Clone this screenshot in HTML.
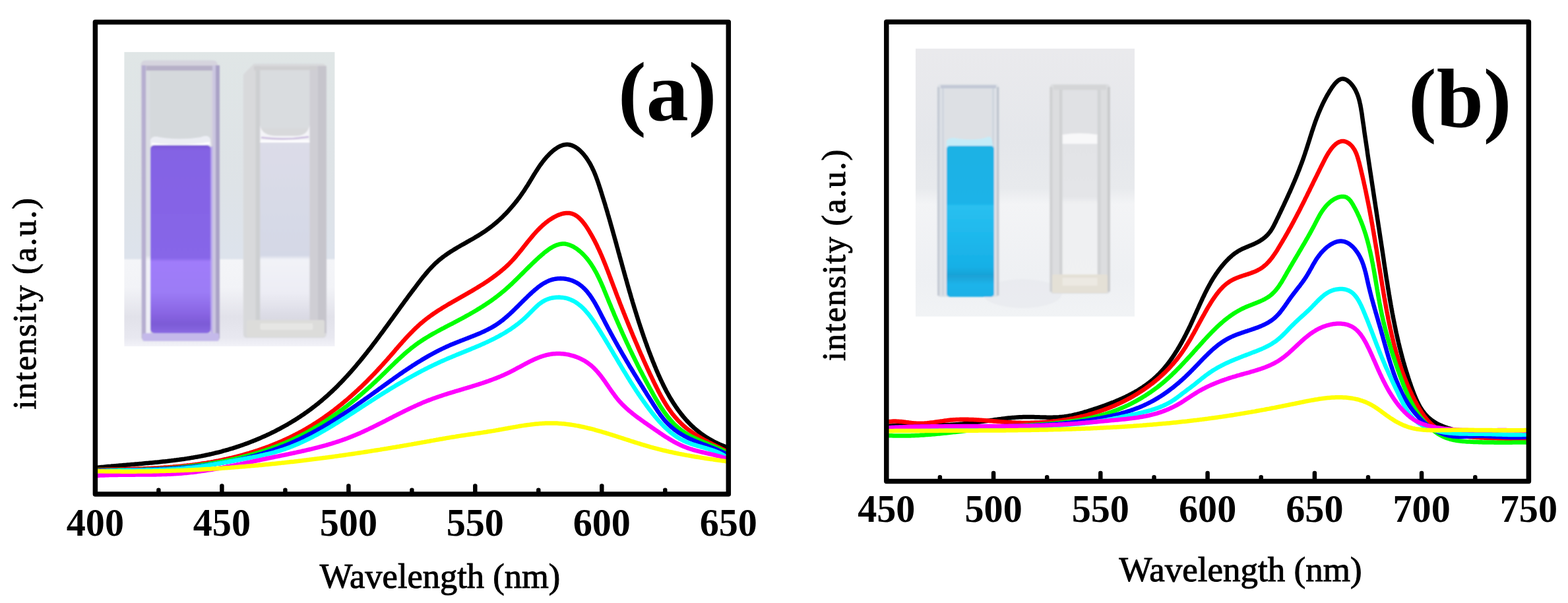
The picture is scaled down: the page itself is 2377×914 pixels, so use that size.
<!DOCTYPE html>
<html><head><meta charset="utf-8"><title>Fluorescence spectra</title>
<style>html,body{margin:0;padding:0;background:#fff;overflow:hidden}svg{display:block}</style>
</head><body>
<svg width="2377" height="914" viewBox="0 0 2377 914">
<defs>
<clipPath id="ca"><rect x="144.4" y="33.5" width="959.9" height="715.5"/></clipPath>
<clipPath id="cb"><rect x="1343.8" y="33.3" width="973.6000000000001" height="696.2"/></clipPath>
</defs>
<rect width="2377" height="914" fill="#fff"/>
<g id="insetA">
<defs>
<linearGradient id="aBg" x1="0" y1="0" x2="0" y2="1">
<stop offset="0" stop-color="#e0e6e6"/><stop offset="0.45" stop-color="#dee3e7"/><stop offset="0.70" stop-color="#dde3ec"/><stop offset="0.708" stop-color="#f4f5f8"/><stop offset="0.80" stop-color="#f2f3f7"/><stop offset="0.90" stop-color="#e2e2ea"/><stop offset="0.97" stop-color="#e8e8f0"/><stop offset="1" stop-color="#f2f2f8"/>
</linearGradient>
<linearGradient id="aPur" x1="0" y1="0" x2="0" y2="1">
<stop offset="0" stop-color="#7b56d6"/><stop offset="0.03" stop-color="#8463e4"/><stop offset="0.6" stop-color="#8766e8"/><stop offset="0.62" stop-color="#a07cfa"/><stop offset="0.78" stop-color="#9c7cf6"/><stop offset="0.9" stop-color="#8864e2"/><stop offset="0.95" stop-color="#7c5ad6"/><stop offset="1" stop-color="#8a6ae2"/>
</linearGradient>
<linearGradient id="aWallL" x1="0" y1="0" x2="0" y2="1">
<stop offset="0" stop-color="#d9dbe1"/><stop offset="0.7" stop-color="#dcdee6"/><stop offset="0.72" stop-color="#f2f2f8"/><stop offset="1" stop-color="#eeeef6"/>
</linearGradient>
<linearGradient id="aIn2" x1="0" y1="0" x2="0" y2="1">
<stop offset="0" stop-color="#dcdce8"/><stop offset="0.64" stop-color="#d4d8e6"/><stop offset="0.665" stop-color="#f2f3f8"/><stop offset="0.85" stop-color="#ececf4"/><stop offset="1" stop-color="#d8d8e2"/>
</linearGradient>
<filter id="soft" x="-5%" y="-5%" width="110%" height="110%"><feGaussianBlur stdDeviation="0.9"/></filter>
</defs>
<rect x="188.4" y="78.9" width="319" height="446" fill="url(#aBg)"/>
<g filter="url(#soft)">
<!-- cuvette 1 (purple) -->
<path d="M213.5,99 Q213.5,91.5 221,91.5 L322,91.5 Q330,91.5 330,99 L333,512 Q333,517 327,517 L220,517 Q215,517 215,512 Z" fill="#d6d4de"/>
<rect x="214.8" y="99" width="6.6" height="414" fill="#b6aed0"/>
<rect x="327" y="99" width="6" height="414" fill="#aaa2c6"/>
<rect x="322.2" y="99" width="4.8" height="414" fill="#cbc6e0"/>
<rect x="221.4" y="107" width="6.6" height="400" fill="url(#aWallL)"/>
<rect x="222" y="99.5" width="100" height="7.5" fill="#b7b1c8"/>
<rect x="227.6" y="107" width="92" height="104" fill="#d5d9dc"/>
<path d="M228,212 Q231,205 242,208 Q272,213 304,208 Q316,203 319,211 L320,222 L228,222 Z" fill="#eceef4"/>
<path d="M230,218 Q272,224 318,217" stroke="#ffffff" stroke-width="3.5" fill="none"/>
<rect x="228" y="220" width="91.7" height="285" rx="6" fill="url(#aPur)"/>
<rect x="319.7" y="222" width="2.5" height="283" fill="#b9a8ee"/>
<rect x="216" y="505" width="116" height="12" rx="3" fill="#c4b9ea"/>
<!-- cuvette 2 (clear) -->
<path d="M368.8,113 L385,96.4 L488,96.4 Q494.9,96.4 494.9,104 L494.9,506 Q494.9,512 488,512 L374,512 Q368.8,512 368.8,506 Z" fill="#d8d9db"/>
<rect x="387.5" y="100" width="6.9" height="400" fill="#cdcfd1"/>
<rect x="469.3" y="100" width="25.6" height="405" fill="#cfced4"/>
<rect x="482" y="100" width="12.5" height="405" fill="#c6c5cc"/>
<rect x="385" y="100.5" width="95" height="6" fill="#cfcfd1"/>
<rect x="394.4" y="106.5" width="75" height="88" fill="#d9dcdf"/>
<path d="M394.4,190 Q397,206 420,206 L448,206 Q466,206 469.3,190 L469.3,213 L394.4,213 Z" fill="#f4f4f8"/>
<path d="M396,208.5 Q432,213 468,207.5" stroke="#c8b8dc" stroke-width="2.5" fill="none"/>
<rect x="394.4" y="213" width="74.9" height="272" fill="url(#aIn2)"/>
<rect x="394.4" y="213" width="74.9" height="3" fill="#ffffff"/>
<rect x="374" y="485" width="118" height="26" rx="3" fill="#dcdcda"/>
<rect x="394.4" y="490" width="80" height="10" rx="2" fill="#e6e6e4"/>
</g>
</g>

<g id="insetB">
<defs>
<linearGradient id="bBg" x1="0" y1="0" x2="0" y2="1">
<stop offset="0" stop-color="#eaeaed"/><stop offset="0.35" stop-color="#e5e7eb"/><stop offset="0.52" stop-color="#e8eaed"/><stop offset="0.58" stop-color="#f3f4f6"/><stop offset="0.85" stop-color="#eef0f3"/><stop offset="1" stop-color="#f1f3f5"/>
</linearGradient>
<linearGradient id="bBlue" x1="0" y1="0" x2="0" y2="1">
<stop offset="0" stop-color="#1fb2e4"/><stop offset="0.38" stop-color="#1ab3e8"/><stop offset="0.40" stop-color="#2ac0f0"/><stop offset="0.6" stop-color="#1eb8ec"/><stop offset="0.8" stop-color="#17b0e6"/><stop offset="0.86" stop-color="#1aa2d6"/><stop offset="0.92" stop-color="#1bb4ea"/><stop offset="1" stop-color="#1ab0e6"/>
</linearGradient>
<linearGradient id="bIn2" x1="0" y1="0" x2="0" y2="1">
<stop offset="0" stop-color="#e2e3e6"/><stop offset="0.4" stop-color="#e4e5e8"/><stop offset="0.45" stop-color="#eff0f2"/><stop offset="1" stop-color="#f0f1f2"/>
</linearGradient>
<radialGradient id="bSh" cx="0.5" cy="0.5" r="0.5">
<stop offset="0" stop-color="#d8dadf" stop-opacity="0.9"/><stop offset="1" stop-color="#e8eaee" stop-opacity="0"/>
</radialGradient>
</defs>
<rect x="1388" y="73.7" width="332" height="406" fill="url(#bBg)"/>
<g filter="url(#soft)">
<ellipse cx="1550" cy="445" rx="60" ry="22" fill="#e6e8ec" opacity="0.6"/>


<!-- cuvette 1 (blue) -->
<path d="M1420.5,133 Q1420.5,127.4 1426,127.4 L1509,127.4 Q1514.4,127.4 1514.4,133 L1514.4,445 Q1514.4,450 1509,450 L1426,450 Q1421,450 1421,445 Z" fill="#dde1e6"/>
<rect x="1421" y="132" width="3.5" height="316" fill="#c4cad4"/>
<rect x="1511" y="132" width="3.4" height="316" fill="#c0c6d0"/>
<rect x="1426" y="129" width="84" height="5" fill="#c2c8d6"/>
<rect x="1428" y="134" width="3" height="314" fill="#cfd5de"/>
<rect x="1504" y="134" width="3" height="314" fill="#cfd5de"/>
<rect x="1433" y="135" width="70" height="80" fill="#dde0e4"/>
<path d="M1435,213 Q1440,207 1452,210 Q1480,214 1496,208 Q1502,205 1504,213 L1506,228 L1435,228 Z" fill="#c6ecf8"/>
<rect x="1435" y="221" width="72" height="229" rx="5" fill="url(#bBlue)"/>
<!-- cuvette 2 (clear) -->
<path d="M1591.4,133 Q1591.4,127.4 1597,127.4 L1677,127.4 Q1682.8,127.4 1682.8,133 L1682.8,440 Q1682.8,445 1677,445 L1597,445 Q1592,445 1592,440 Z" fill="#dcdddf"/>
<rect x="1591.4" y="132" width="4" height="310" fill="#cfd0d2"/>
<rect x="1606" y="134" width="4.6" height="300" fill="#d0d1d3"/>
<rect x="1663.5" y="134" width="5" height="300" fill="#d2d3d5"/>
<rect x="1678.8" y="132" width="4" height="310" fill="#c9cacc"/>
<rect x="1597" y="129" width="80" height="7" fill="#d4d5d7"/>
<rect x="1610.6" y="137" width="52.9" height="70" fill="#e0e1e4"/>
<path d="M1610.6,204 Q1637,200 1663.5,204 L1663.5,218 L1610.6,218 Z" fill="#f8f8f9"/>
<rect x="1610.6" y="218" width="52.9" height="200" fill="url(#bIn2)"/>
<rect x="1595" y="416" width="84" height="28" rx="2" fill="#e4e0d6"/>
<rect x="1610.6" y="421" width="53" height="12" fill="#ece9e2"/>
</g>
</g>

<g clip-path="url(#ca)" fill="none" stroke-width="6.5" stroke-linejoin="round" stroke-linecap="round">
<path d="M141.0,709.1 L146.0,708.9 L148.0,708.7 L150.0,708.5 L152.0,708.3 L153.9,708.1 L155.9,707.9 L157.9,707.7 L159.9,707.5 L161.9,707.3 L163.9,707.1 L165.9,706.9 L167.9,706.8 L169.9,706.6 L171.9,706.4 L173.9,706.2 L175.9,706.1 L177.9,705.9 L179.9,705.7 L181.9,705.5 L183.9,705.4 L185.9,705.2 L187.9,705.0 L189.9,704.9 L191.9,704.7 L193.9,704.5 L195.9,704.4 L197.9,704.2 L199.8,704.0 L201.8,703.9 L203.8,703.7 L205.8,703.5 L207.8,703.4 L209.8,703.2 L211.8,703.0 L213.8,702.9 L215.8,702.7 L217.8,702.5 L219.8,702.3 L221.8,702.1 L223.8,702.0 L225.8,701.8 L227.8,701.6 L229.7,701.4 L231.7,701.2 L233.7,701.0 L235.7,700.8 L237.7,700.7 L239.7,700.5 L241.7,700.3 L243.7,700.0 L245.6,699.8 L247.6,699.6 L249.6,699.4 L251.6,699.2 L253.6,699.0 L255.6,698.7 L257.5,698.5 L259.5,698.3 L261.5,698.0 L263.5,697.8 L265.5,697.5 L267.4,697.3 L269.4,697.0 L271.4,696.8 L273.4,696.5 L275.3,696.2 L277.3,695.9 L279.3,695.7 L281.3,695.4 L283.2,695.1 L285.2,694.8 L287.2,694.5 L289.1,694.1 L291.1,693.8 L293.1,693.5 L295.0,693.1 L297.0,692.8 L299.0,692.5 L300.9,692.1 L302.9,691.7 L304.8,691.4 L306.8,691.0 L308.7,690.6 L310.7,690.2 L312.6,689.8 L314.6,689.4 L316.5,689.0 L318.5,688.5 L320.4,688.1 L322.4,687.6 L324.3,687.2 L326.3,686.7 L328.2,686.2 L330.2,685.8 L332.1,685.3 L334.0,684.8 L336.0,684.3 L337.9,683.7 L339.8,683.2 L341.7,682.7 L343.7,682.1 L345.6,681.6 L347.5,681.0 L349.4,680.4 L351.4,679.9 L353.3,679.3 L355.2,678.7 L357.1,678.1 L359.0,677.4 L360.9,676.8 L362.8,676.2 L364.7,675.5 L366.6,674.9 L368.5,674.2 L370.4,673.5 L372.3,672.8 L374.2,672.2 L376.0,671.5 L377.9,670.7 L379.8,670.0 L381.7,669.3 L383.5,668.6 L385.4,667.8 L387.3,667.1 L389.1,666.3 L391.0,665.5 L392.8,664.7 L394.7,663.9 L396.5,663.1 L398.3,662.3 L400.2,661.5 L402.0,660.7 L403.8,659.9 L405.6,659.0 L407.5,658.2 L409.3,657.3 L411.1,656.4 L412.9,655.5 L414.7,654.7 L416.5,653.8 L418.3,652.8 L420.0,651.9 L421.8,651.0 L423.6,650.1 L425.4,649.1 L427.1,648.2 L428.9,647.2 L430.6,646.2 L432.4,645.3 L434.1,644.3 L435.9,643.3 L437.6,642.3 L439.3,641.3 L441.0,640.2 L442.7,639.2 L444.5,638.2 L446.2,637.1 L447.9,636.1 L449.5,635.0 L451.2,633.9 L452.9,632.8 L454.6,631.7 L456.2,630.6 L457.9,629.5 L459.5,628.4 L461.2,627.3 L462.8,626.1 L464.5,625.0 L466.1,623.8 L467.7,622.7 L469.3,621.5 L470.9,620.3 L472.5,619.1 L474.1,617.9 L475.7,616.7 L477.3,615.5 L478.8,614.3 L480.4,613.0 L482.0,611.8 L483.5,610.5 L485.0,609.3 L486.6,608.0 L488.1,606.7 L489.6,605.4 L491.1,604.1 L492.6,602.8 L494.1,601.5 L495.6,600.2 L497.1,598.9 L498.6,597.5 L500.0,596.2 L501.5,594.8 L502.9,593.5 L504.4,592.1 L505.8,590.7 L507.3,589.3 L508.7,588.0 L510.1,586.6 L511.5,585.2 L512.9,583.7 L514.3,582.3 L515.7,580.9 L517.1,579.5 L518.5,578.0 L519.9,576.6 L521.2,575.1 L522.6,573.7 L523.9,572.2 L525.3,570.8 L526.6,569.3 L528.0,567.8 L529.3,566.3 L530.7,564.8 L532.0,563.3 L533.3,561.8 L534.6,560.3 L535.9,558.8 L537.2,557.3 L538.5,555.8 L539.8,554.3 L541.1,552.7 L542.4,551.2 L543.7,549.7 L545.0,548.1 L546.3,546.6 L547.5,545.0 L548.8,543.5 L550.1,541.9 L551.3,540.4 L552.6,538.8 L553.8,537.2 L555.1,535.7 L556.3,534.1 L557.5,532.5 L558.8,530.9 L560.0,529.3 L561.3,527.8 L562.5,526.2 L563.7,524.6 L564.9,523.0 L566.1,521.4 L567.4,519.8 L568.6,518.2 L569.8,516.6 L571.0,515.0 L572.2,513.4 L573.4,511.8 L574.6,510.2 L575.8,508.5 L577.0,506.9 L578.2,505.3 L579.4,503.7 L580.6,502.1 L581.8,500.5 L582.9,498.9 L584.1,497.2 L585.3,495.6 L586.5,494.0 L587.7,492.4 L588.9,490.8 L590.0,489.2 L591.2,487.5 L592.4,485.9 L593.6,484.3 L594.7,482.7 L595.9,481.1 L597.1,479.4 L598.2,477.8 L599.4,476.2 L600.6,474.6 L601.8,473.0 L602.9,471.4 L604.1,469.8 L605.3,468.1 L606.4,466.5 L607.6,464.9 L608.8,463.3 L609.9,461.7 L611.1,460.1 L612.3,458.5 L613.4,456.9 L614.6,455.3 L615.8,453.7 L617.0,452.1 L618.1,450.5 L619.3,448.9 L620.5,447.3 L621.7,445.7 L622.9,444.1 L624.1,442.5 L625.3,440.9 L626.5,439.4 L627.7,437.8 L628.9,436.2 L630.1,434.6 L631.3,433.0 L632.5,431.4 L633.7,429.8 L634.9,428.2 L636.2,426.6 L637.4,425.0 L638.6,423.4 L639.9,421.8 L641.1,420.2 L642.4,418.7 L643.7,417.1 L645.0,415.5 L646.3,414.0 L647.6,412.5 L648.9,410.9 L650.2,409.4 L651.6,407.9 L652.9,406.5 L654.3,405.0 L655.7,403.6 L657.1,402.1 L658.5,400.7 L659.9,399.3 L661.4,398.0 L662.9,396.7 L664.4,395.3 L665.9,394.1 L667.4,392.8 L669.0,391.6 L670.5,390.3 L672.1,389.2 L673.7,388.0 L675.3,386.8 L676.9,385.7 L678.6,384.6 L680.2,383.4 L681.9,382.4 L683.5,381.3 L685.2,380.2 L686.9,379.2 L688.6,378.1 L690.3,377.1 L692.0,376.1 L693.7,375.0 L695.5,374.0 L697.2,373.0 L698.9,372.0 L700.6,371.0 L702.4,370.1 L704.1,369.1 L705.9,368.1 L707.6,367.1 L709.3,366.1 L711.1,365.1 L712.8,364.1 L714.6,363.2 L716.3,362.2 L718.0,361.2 L719.7,360.2 L721.4,359.1 L723.2,358.1 L724.9,357.1 L726.6,356.1 L728.2,355.0 L729.9,353.9 L731.6,352.9 L733.2,351.8 L734.9,350.7 L736.5,349.6 L738.1,348.4 L739.7,347.3 L741.3,346.1 L742.9,344.9 L744.5,343.7 L746.0,342.5 L747.6,341.3 L749.1,340.0 L750.6,338.8 L752.1,337.5 L753.6,336.2 L755.1,334.9 L756.6,333.6 L758.0,332.3 L759.5,330.9 L760.9,329.6 L762.3,328.2 L763.7,326.8 L765.1,325.4 L766.5,324.0 L767.9,322.6 L769.2,321.1 L770.6,319.7 L771.9,318.2 L773.2,316.7 L774.5,315.2 L775.8,313.7 L777.1,312.2 L778.4,310.7 L779.6,309.1 L780.9,307.6 L782.1,306.0 L783.4,304.5 L784.6,302.9 L785.8,301.3 L787.0,299.7 L788.2,298.1 L789.3,296.5 L790.5,294.8 L791.6,293.2 L792.8,291.5 L793.9,289.9 L795.0,288.2 L796.1,286.5 L797.2,284.8 L798.3,283.1 L799.4,281.4 L800.5,279.7 L801.5,278.0 L802.6,276.3 L803.6,274.5 L804.7,272.8 L805.7,271.1 L806.8,269.3 L807.8,267.6 L808.9,265.8 L809.9,264.1 L811.0,262.4 L812.1,260.6 L813.2,258.9 L814.3,257.2 L815.4,255.5 L816.6,253.7 L817.7,252.0 L818.9,250.3 L820.1,248.7 L821.4,247.0 L822.6,245.3 L823.9,243.7 L825.2,242.0 L826.6,240.4 L827.9,238.8 L829.3,237.2 L830.8,235.7 L832.2,234.2 L833.7,232.7 L835.2,231.3 L836.7,229.9 L838.3,228.6 L839.8,227.4 L841.4,226.2 L843.0,225.1 L844.5,224.0 L846.1,223.1 L847.8,222.2 L849.4,221.4 L851.0,220.8 L852.6,220.2 L854.2,219.7 L855.8,219.4 L857.4,219.2 L859.0,219.0 L860.6,219.1 L862.2,219.2 L863.8,219.5 L865.4,219.9 L866.9,220.4 L868.5,221.0 L870.0,221.7 L871.5,222.5 L873.0,223.4 L874.5,224.4 L875.9,225.4 L877.4,226.6 L878.8,227.8 L880.2,229.1 L881.5,230.5 L882.9,231.9 L884.2,233.4 L885.5,234.9 L886.7,236.5 L888.0,238.1 L889.1,239.7 L890.3,241.4 L891.4,243.1 L892.5,244.9 L893.6,246.6 L894.6,248.4 L895.6,250.2 L896.5,252.0 L897.5,253.8 L898.3,255.7 L899.2,257.5 L900.1,259.4 L900.9,261.3 L901.7,263.2 L902.4,265.1 L903.2,267.0 L903.9,268.9 L904.6,270.8 L905.3,272.7 L906.0,274.7 L906.7,276.6 L907.3,278.6 L908.0,280.5 L908.6,282.4 L909.2,284.4 L909.9,286.3 L910.5,288.3 L911.1,290.2 L911.7,292.1 L912.3,294.1 L912.9,296.0 L913.5,298.0 L914.1,299.9 L914.7,301.8 L915.3,303.8 L915.9,305.7 L916.5,307.6 L917.1,309.5 L917.7,311.5 L918.2,313.4 L918.8,315.3 L919.4,317.2 L920.0,319.2 L920.5,321.1 L921.1,323.0 L921.6,324.9 L922.2,326.8 L922.8,328.8 L923.3,330.7 L923.9,332.6 L924.4,334.5 L925.0,336.4 L925.5,338.3 L926.0,340.3 L926.6,342.2 L927.1,344.1 L927.7,346.0 L928.2,347.9 L928.7,349.8 L929.3,351.7 L929.8,353.7 L930.3,355.6 L930.9,357.5 L931.4,359.4 L931.9,361.3 L932.5,363.2 L933.0,365.1 L933.5,367.0 L934.1,369.0 L934.6,370.9 L935.1,372.8 L935.6,374.7 L936.2,376.6 L936.7,378.5 L937.2,380.5 L937.7,382.4 L938.3,384.3 L938.8,386.2 L939.3,388.1 L939.8,390.0 L940.4,392.0 L940.9,393.9 L941.4,395.8 L942.0,397.7 L942.5,399.6 L943.0,401.5 L943.5,403.5 L944.1,405.4 L944.6,407.3 L945.1,409.2 L945.7,411.1 L946.2,413.1 L946.7,415.0 L947.3,416.9 L947.8,418.8 L948.3,420.7 L948.9,422.6 L949.4,424.6 L950.0,426.5 L950.5,428.4 L951.0,430.3 L951.6,432.2 L952.1,434.2 L952.7,436.1 L953.2,438.0 L953.8,439.9 L954.3,441.8 L954.9,443.7 L955.5,445.6 L956.0,447.6 L956.6,449.5 L957.1,451.4 L957.7,453.3 L958.3,455.2 L958.8,457.1 L959.4,459.1 L960.0,461.0 L960.6,462.9 L961.1,464.8 L961.7,466.7 L962.3,468.6 L962.9,470.5 L963.5,472.4 L964.1,474.3 L964.7,476.2 L965.3,478.2 L965.9,480.1 L966.5,482.0 L967.1,483.9 L967.7,485.8 L968.3,487.7 L968.9,489.6 L969.6,491.5 L970.2,493.4 L970.8,495.3 L971.4,497.2 L972.1,499.1 L972.7,501.0 L973.3,502.9 L974.0,504.8 L974.6,506.7 L975.3,508.6 L975.9,510.5 L976.6,512.4 L977.3,514.3 L977.9,516.2 L978.6,518.1 L979.3,520.0 L980.0,521.8 L980.6,523.7 L981.3,525.6 L982.0,527.5 L982.7,529.4 L983.4,531.3 L984.1,533.2 L984.8,535.1 L985.6,536.9 L986.3,538.8 L987.0,540.7 L987.7,542.6 L988.5,544.4 L989.2,546.3 L989.9,548.2 L990.7,550.1 L991.5,551.9 L992.2,553.8 L993.0,555.7 L993.8,557.5 L994.5,559.4 L995.3,561.3 L996.1,563.1 L996.9,565.0 L997.7,566.8 L998.5,568.7 L999.4,570.5 L1000.2,572.3 L1001.0,574.2 L1001.9,576.0 L1002.7,577.8 L1003.6,579.6 L1004.5,581.4 L1005.3,583.2 L1006.2,585.0 L1007.1,586.8 L1008.0,588.6 L1009.0,590.4 L1009.9,592.2 L1010.8,593.9 L1011.8,595.7 L1012.8,597.4 L1013.7,599.1 L1014.7,600.9 L1015.7,602.6 L1016.7,604.3 L1017.8,606.0 L1018.8,607.7 L1019.8,609.4 L1020.9,611.0 L1022.0,612.7 L1023.1,614.3 L1024.2,616.0 L1025.3,617.6 L1026.4,619.2 L1027.5,620.8 L1028.7,622.4 L1029.9,624.0 L1031.1,625.5 L1032.3,627.1 L1033.5,628.6 L1034.7,630.1 L1035.9,631.6 L1037.2,633.1 L1038.5,634.6 L1039.8,636.1 L1041.1,637.5 L1042.4,639.0 L1043.8,640.4 L1045.1,641.8 L1046.5,643.2 L1047.9,644.6 L1049.3,645.9 L1050.8,647.2 L1052.2,648.6 L1053.7,649.9 L1055.2,651.2 L1056.7,652.4 L1058.2,653.7 L1059.8,654.9 L1061.3,656.1 L1062.9,657.3 L1064.5,658.5 L1066.2,659.7 L1067.8,660.8 L1069.5,661.9 L1071.2,663.0 L1072.9,664.1 L1074.6,665.2 L1076.4,666.2 L1078.2,667.2 L1080.0,668.2 L1081.8,669.2 L1083.6,670.1 L1085.5,671.0 L1087.4,672.0 L1089.3,672.8 L1091.2,673.7 L1093.2,674.5 L1095.2,675.3 L1097.2,676.1 L1099.2,676.9 L1101.3,677.6 L1106.4,678.4" stroke="#000000"/>
<path d="M140.9,712.2 L145.9,712.1 L147.9,712.1 L149.9,712.1 L151.9,712.0 L153.9,712.0 L156.0,711.9 L158.0,711.9 L160.0,711.8 L162.0,711.8 L164.0,711.8 L166.0,711.7 L168.0,711.7 L170.0,711.6 L172.0,711.6 L174.0,711.6 L176.0,711.5 L178.0,711.5 L180.0,711.4 L182.0,711.4 L184.1,711.3 L186.1,711.3 L188.1,711.2 L190.1,711.2 L192.1,711.1 L194.1,711.1 L196.1,711.0 L198.1,711.0 L200.1,710.9 L202.1,710.9 L204.1,710.8 L206.1,710.7 L208.1,710.7 L210.1,710.6 L212.1,710.5 L214.1,710.5 L216.1,710.4 L218.0,710.3 L220.0,710.2 L222.0,710.2 L224.0,710.1 L226.0,710.0 L228.0,709.9 L230.0,709.8 L232.0,709.7 L234.0,709.6 L236.0,709.5 L238.0,709.4 L240.0,709.3 L242.0,709.2 L244.0,709.0 L246.0,708.9 L247.9,708.8 L249.9,708.6 L251.9,708.5 L253.9,708.4 L255.9,708.2 L257.9,708.1 L259.9,707.9 L261.9,707.8 L263.8,707.6 L265.8,707.4 L267.8,707.2 L269.8,707.1 L271.8,706.9 L273.8,706.7 L275.8,706.5 L277.7,706.3 L279.7,706.1 L281.7,705.9 L283.7,705.6 L285.7,705.4 L287.6,705.2 L289.6,704.9 L291.6,704.7 L293.6,704.4 L295.6,704.2 L297.5,703.9 L299.5,703.7 L301.5,703.4 L303.5,703.1 L305.5,702.8 L307.4,702.5 L309.4,702.2 L311.4,701.9 L313.4,701.6 L315.3,701.2 L317.3,700.9 L319.3,700.6 L321.2,700.2 L323.2,699.9 L325.2,699.5 L327.2,699.1 L329.1,698.7 L331.1,698.4 L333.1,698.0 L335.0,697.6 L337.0,697.2 L338.9,696.7 L340.9,696.3 L342.9,695.9 L344.8,695.4 L346.8,695.0 L348.7,694.5 L350.7,694.1 L352.6,693.6 L354.6,693.1 L356.5,692.6 L358.5,692.2 L360.4,691.6 L362.4,691.1 L364.3,690.6 L366.2,690.1 L368.2,689.6 L370.1,689.0 L372.0,688.5 L373.9,687.9 L375.9,687.3 L377.8,686.8 L379.7,686.2 L381.6,685.6 L383.5,685.0 L385.4,684.4 L387.3,683.8 L389.2,683.2 L391.1,682.5 L393.0,681.9 L394.9,681.2 L396.8,680.6 L398.7,679.9 L400.6,679.2 L402.5,678.6 L404.4,677.9 L406.2,677.2 L408.1,676.5 L410.0,675.7 L411.8,675.0 L413.7,674.3 L415.5,673.5 L417.4,672.8 L419.2,672.0 L421.1,671.3 L422.9,670.5 L424.7,669.7 L426.6,668.9 L428.4,668.1 L430.2,667.3 L432.0,666.5 L433.8,665.6 L435.6,664.8 L437.4,663.9 L439.2,663.1 L441.0,662.2 L442.8,661.3 L444.6,660.4 L446.4,659.5 L448.2,658.6 L449.9,657.7 L451.7,656.8 L453.4,655.9 L455.2,654.9 L456.9,654.0 L458.7,653.0 L460.4,652.0 L462.1,651.1 L463.9,650.1 L465.6,649.1 L467.3,648.1 L469.0,647.1 L470.7,646.0 L472.4,645.0 L474.1,643.9 L475.8,642.9 L477.4,641.8 L479.1,640.8 L480.8,639.7 L482.5,638.6 L484.1,637.5 L485.8,636.4 L487.4,635.3 L489.1,634.2 L490.7,633.0 L492.3,631.9 L493.9,630.7 L495.6,629.6 L497.2,628.4 L498.8,627.3 L500.4,626.1 L502.0,624.9 L503.6,623.7 L505.2,622.5 L506.8,621.3 L508.3,620.1 L509.9,618.8 L511.5,617.6 L513.0,616.4 L514.6,615.1 L516.2,613.9 L517.7,612.6 L519.2,611.4 L520.8,610.1 L522.3,608.8 L523.8,607.5 L525.4,606.2 L526.9,604.9 L528.4,603.6 L529.9,602.3 L531.4,601.0 L532.9,599.7 L534.4,598.3 L535.9,597.0 L537.4,595.6 L538.9,594.3 L540.3,592.9 L541.8,591.6 L543.3,590.2 L544.7,588.8 L546.2,587.5 L547.7,586.1 L549.1,584.7 L550.5,583.3 L552.0,581.9 L553.4,580.5 L554.9,579.1 L556.3,577.7 L557.7,576.2 L559.1,574.8 L560.5,573.4 L561.9,572.0 L563.3,570.5 L564.7,569.1 L566.1,567.6 L567.5,566.2 L568.9,564.7 L570.3,563.3 L571.7,561.8 L573.0,560.3 L574.4,558.8 L575.8,557.4 L577.1,555.9 L578.5,554.4 L579.9,552.9 L581.2,551.4 L582.5,549.9 L583.9,548.4 L585.2,546.9 L586.6,545.4 L587.9,543.9 L589.2,542.4 L590.5,540.9 L591.9,539.4 L593.2,537.8 L594.5,536.3 L595.8,534.8 L597.1,533.3 L598.4,531.8 L599.7,530.2 L601.0,528.7 L602.4,527.2 L603.7,525.7 L605.0,524.2 L606.3,522.7 L607.6,521.2 L609.0,519.7 L610.3,518.2 L611.6,516.7 L613.0,515.2 L614.3,513.7 L615.6,512.3 L617.0,510.8 L618.4,509.3 L619.7,507.9 L621.1,506.5 L622.5,505.0 L623.9,503.6 L625.3,502.2 L626.7,500.8 L628.1,499.4 L629.5,498.0 L630.9,496.7 L632.4,495.3 L633.8,494.0 L635.3,492.6 L636.8,491.3 L638.3,490.0 L639.8,488.7 L641.3,487.5 L642.8,486.2 L644.4,485.0 L645.9,483.8 L647.5,482.5 L649.1,481.3 L650.7,480.2 L652.3,479.0 L653.9,477.8 L655.5,476.7 L657.2,475.5 L658.8,474.4 L660.5,473.3 L662.1,472.2 L663.8,471.1 L665.5,470.0 L667.2,469.0 L668.9,467.9 L670.6,466.8 L672.3,465.8 L674.0,464.7 L675.7,463.7 L677.4,462.7 L679.2,461.6 L680.9,460.6 L682.6,459.6 L684.4,458.6 L686.1,457.6 L687.9,456.6 L689.6,455.6 L691.4,454.6 L693.1,453.6 L694.9,452.6 L696.6,451.6 L698.4,450.6 L700.1,449.6 L701.9,448.6 L703.6,447.6 L705.4,446.6 L707.1,445.6 L708.9,444.6 L710.6,443.6 L712.3,442.6 L714.1,441.6 L715.8,440.6 L717.5,439.6 L719.3,438.5 L721.0,437.5 L722.7,436.5 L724.4,435.4 L726.1,434.4 L727.8,433.3 L729.5,432.3 L731.2,431.2 L732.9,430.2 L734.5,429.1 L736.2,428.0 L737.9,426.9 L739.5,425.8 L741.2,424.7 L742.8,423.5 L744.4,422.4 L746.0,421.3 L747.6,420.1 L749.2,418.9 L750.8,417.7 L752.4,416.6 L754.0,415.3 L755.5,414.1 L757.1,412.9 L758.6,411.6 L760.1,410.4 L761.7,409.1 L763.2,407.8 L764.6,406.5 L766.1,405.2 L767.6,403.8 L769.0,402.5 L770.5,401.1 L771.9,399.7 L773.3,398.3 L774.7,396.9 L776.1,395.4 L777.4,394.0 L778.8,392.5 L780.1,391.0 L781.4,389.5 L782.7,388.0 L784.0,386.4 L785.3,384.9 L786.6,383.3 L787.9,381.7 L789.2,380.2 L790.5,378.6 L791.7,377.0 L793.0,375.4 L794.2,373.8 L795.5,372.2 L796.8,370.6 L798.0,369.0 L799.3,367.4 L800.6,365.8 L801.9,364.2 L803.2,362.6 L804.5,361.1 L805.8,359.5 L807.1,358.0 L808.4,356.4 L809.7,354.9 L811.1,353.4 L812.4,351.9 L813.8,350.4 L815.2,348.9 L816.6,347.5 L818.0,346.0 L819.5,344.6 L820.9,343.2 L822.4,341.9 L823.9,340.5 L825.5,339.2 L827.0,337.9 L828.6,336.7 L830.2,335.4 L831.9,334.2 L833.5,333.1 L835.2,332.0 L836.9,330.9 L838.6,329.9 L840.4,328.9 L842.1,328.0 L843.9,327.1 L845.6,326.3 L847.4,325.6 L849.2,325.0 L850.9,324.4 L852.7,323.9 L854.4,323.5 L856.2,323.2 L857.9,323.1 L859.6,323.0 L861.4,323.0 L863.0,323.1 L864.7,323.3 L866.3,323.7 L867.9,324.2 L869.5,324.8 L871.1,325.5 L872.6,326.4 L874.1,327.3 L875.5,328.4 L877.0,329.5 L878.4,330.8 L879.7,332.1 L881.1,333.5 L882.4,335.0 L883.7,336.6 L885.0,338.2 L886.2,339.8 L887.5,341.5 L888.7,343.3 L889.8,345.0 L891.0,346.8 L892.1,348.6 L893.3,350.5 L894.3,352.3 L895.4,354.2 L896.5,356.0 L897.5,357.8 L898.5,359.7 L899.5,361.5 L900.5,363.4 L901.5,365.2 L902.4,367.0 L903.3,368.9 L904.3,370.7 L905.2,372.6 L906.0,374.4 L906.9,376.3 L907.8,378.1 L908.6,380.0 L909.5,381.8 L910.3,383.7 L911.1,385.5 L911.9,387.3 L912.7,389.2 L913.5,391.0 L914.2,392.9 L915.0,394.7 L915.7,396.6 L916.5,398.4 L917.2,400.3 L918.0,402.1 L918.7,404.0 L919.4,405.8 L920.1,407.7 L920.9,409.5 L921.6,411.4 L922.3,413.2 L923.0,415.1 L923.7,416.9 L924.4,418.8 L925.1,420.7 L925.8,422.5 L926.5,424.4 L927.2,426.2 L927.9,428.1 L928.6,429.9 L929.3,431.8 L930.0,433.6 L930.7,435.5 L931.4,437.3 L932.1,439.2 L932.8,441.0 L933.5,442.9 L934.2,444.7 L934.9,446.6 L935.6,448.5 L936.3,450.3 L937.1,452.2 L937.8,454.0 L938.5,455.9 L939.2,457.7 L939.9,459.6 L940.6,461.4 L941.4,463.3 L942.1,465.1 L942.8,467.0 L943.5,468.8 L944.3,470.7 L945.0,472.5 L945.7,474.4 L946.5,476.3 L947.2,478.1 L947.9,480.0 L948.7,481.8 L949.4,483.7 L950.2,485.5 L950.9,487.4 L951.7,489.2 L952.4,491.1 L953.2,492.9 L953.9,494.8 L954.7,496.6 L955.4,498.5 L956.2,500.3 L956.9,502.1 L957.7,504.0 L958.5,505.8 L959.2,507.7 L960.0,509.5 L960.8,511.4 L961.6,513.2 L962.3,515.1 L963.1,516.9 L963.9,518.7 L964.7,520.6 L965.5,522.4 L966.3,524.3 L967.0,526.1 L967.8,527.9 L968.6,529.8 L969.4,531.6 L970.2,533.5 L971.0,535.3 L971.8,537.1 L972.7,539.0 L973.5,540.8 L974.3,542.6 L975.1,544.5 L975.9,546.3 L976.7,548.1 L977.6,549.9 L978.4,551.8 L979.2,553.6 L980.1,555.4 L980.9,557.3 L981.7,559.1 L982.6,560.9 L983.4,562.7 L984.3,564.5 L985.1,566.4 L986.0,568.2 L986.9,570.0 L987.7,571.8 L988.6,573.6 L989.5,575.4 L990.3,577.3 L991.2,579.1 L992.1,580.9 L993.0,582.7 L993.9,584.5 L994.8,586.3 L995.7,588.1 L996.6,589.9 L997.5,591.7 L998.4,593.5 L999.3,595.2 L1000.3,597.0 L1001.2,598.8 L1002.2,600.5 L1003.2,602.3 L1004.1,604.0 L1005.1,605.7 L1006.1,607.5 L1007.2,609.2 L1008.2,610.9 L1009.2,612.6 L1010.3,614.2 L1011.4,615.9 L1012.4,617.6 L1013.5,619.2 L1014.7,620.8 L1015.8,622.4 L1017.0,624.0 L1018.1,625.6 L1019.3,627.2 L1020.5,628.7 L1021.8,630.2 L1023.0,631.7 L1024.3,633.2 L1025.6,634.7 L1026.9,636.2 L1028.2,637.6 L1029.6,639.0 L1031.0,640.4 L1032.4,641.8 L1033.8,643.1 L1035.2,644.4 L1036.7,645.8 L1038.2,647.0 L1039.7,648.3 L1041.3,649.5 L1042.9,650.8 L1044.4,652.0 L1046.1,653.1 L1047.7,654.3 L1049.3,655.4 L1051.0,656.6 L1052.6,657.7 L1054.3,658.8 L1056.0,659.9 L1057.7,660.9 L1059.5,662.0 L1061.2,663.0 L1062.9,664.0 L1064.7,665.0 L1066.4,666.0 L1068.2,667.0 L1070.0,668.0 L1071.8,668.9 L1073.5,669.9 L1075.3,670.8 L1077.1,671.7 L1078.9,672.7 L1080.7,673.6 L1082.5,674.5 L1084.3,675.4 L1086.0,676.3 L1087.8,677.1 L1089.6,678.0 L1091.4,678.9 L1093.1,679.7 L1094.9,680.6 L1096.7,681.4 L1098.4,682.3 L1100.1,683.1 L1104.9,684.0" stroke="#ff0000"/>
<path d="M141.6,712.7 L146.5,712.7 L148.5,712.7 L150.4,712.7 L152.4,712.7 L154.3,712.7 L156.3,712.7 L158.2,712.7 L160.2,712.7 L162.2,712.7 L164.1,712.7 L166.1,712.7 L168.1,712.7 L170.0,712.7 L172.0,712.7 L174.0,712.7 L175.9,712.7 L177.9,712.6 L179.9,712.6 L181.9,712.6 L183.9,712.6 L185.8,712.6 L187.8,712.5 L189.8,712.5 L191.8,712.5 L193.8,712.4 L195.8,712.4 L197.8,712.3 L199.7,712.3 L201.7,712.3 L203.7,712.2 L205.7,712.2 L207.7,712.1 L209.7,712.0 L211.7,712.0 L213.7,711.9 L215.7,711.8 L217.7,711.8 L219.7,711.7 L221.7,711.6 L223.7,711.5 L225.7,711.4 L227.7,711.4 L229.7,711.3 L231.7,711.2 L233.7,711.1 L235.7,711.0 L237.7,710.9 L239.7,710.7 L241.7,710.6 L243.7,710.5 L245.7,710.4 L247.7,710.3 L249.7,710.1 L251.8,710.0 L253.8,709.9 L255.8,709.7 L257.8,709.6 L259.8,709.4 L261.8,709.2 L263.8,709.1 L265.8,708.9 L267.8,708.7 L269.8,708.6 L271.8,708.4 L273.8,708.2 L275.8,708.0 L277.8,707.8 L279.8,707.6 L281.8,707.4 L283.8,707.2 L285.8,707.0 L287.8,706.7 L289.8,706.5 L291.8,706.3 L293.8,706.0 L295.8,705.8 L297.8,705.6 L299.8,705.3 L301.8,705.0 L303.8,704.8 L305.8,704.5 L307.8,704.2 L309.7,703.9 L311.7,703.7 L313.7,703.4 L315.7,703.1 L317.7,702.7 L319.7,702.4 L321.7,702.1 L323.6,701.8 L325.6,701.5 L327.6,701.1 L329.6,700.8 L331.5,700.4 L333.5,700.1 L335.5,699.7 L337.4,699.3 L339.4,699.0 L341.4,698.6 L343.3,698.2 L345.3,697.8 L347.3,697.4 L349.2,697.0 L351.2,696.5 L353.1,696.1 L355.1,695.7 L357.0,695.2 L359.0,694.8 L360.9,694.3 L362.8,693.9 L364.8,693.4 L366.7,692.9 L368.7,692.4 L370.6,691.9 L372.5,691.4 L374.4,690.9 L376.4,690.4 L378.3,689.9 L380.2,689.4 L382.1,688.8 L384.0,688.3 L386.0,687.7 L387.9,687.2 L389.8,686.6 L391.7,686.0 L393.6,685.4 L395.5,684.8 L397.4,684.2 L399.2,683.6 L401.1,683.0 L403.0,682.4 L404.9,681.7 L406.8,681.1 L408.7,680.4 L410.5,679.8 L412.4,679.1 L414.3,678.4 L416.1,677.7 L418.0,677.0 L419.8,676.3 L421.7,675.6 L423.5,674.9 L425.4,674.1 L427.2,673.4 L429.0,672.6 L430.9,671.9 L432.7,671.1 L434.5,670.3 L436.3,669.5 L438.2,668.7 L440.0,667.9 L441.8,667.1 L443.6,666.3 L445.4,665.4 L447.2,664.6 L449.0,663.7 L450.7,662.8 L452.5,662.0 L454.3,661.1 L456.1,660.2 L457.8,659.3 L459.6,658.3 L461.4,657.4 L463.1,656.5 L464.9,655.5 L466.6,654.6 L468.4,653.6 L470.1,652.6 L471.8,651.6 L473.6,650.7 L475.3,649.7 L477.0,648.6 L478.7,647.6 L480.5,646.6 L482.2,645.6 L483.9,644.5 L485.6,643.5 L487.3,642.4 L489.0,641.3 L490.6,640.3 L492.3,639.2 L494.0,638.1 L495.7,637.0 L497.4,635.9 L499.0,634.8 L500.7,633.6 L502.3,632.5 L504.0,631.4 L505.6,630.2 L507.3,629.1 L508.9,627.9 L510.6,626.8 L512.2,625.6 L513.8,624.4 L515.4,623.2 L517.1,622.0 L518.7,620.8 L520.3,619.6 L521.9,618.4 L523.5,617.2 L525.1,616.0 L526.7,614.7 L528.3,613.5 L529.8,612.3 L531.4,611.0 L533.0,609.8 L534.6,608.5 L536.1,607.2 L537.7,606.0 L539.3,604.7 L540.8,603.4 L542.4,602.1 L543.9,600.8 L545.4,599.5 L547.0,598.2 L548.5,596.9 L550.0,595.6 L551.5,594.3 L553.1,592.9 L554.6,591.6 L556.1,590.3 L557.6,588.9 L559.1,587.6 L560.6,586.3 L562.1,584.9 L563.6,583.6 L565.0,582.2 L566.5,580.8 L568.0,579.5 L569.5,578.1 L570.9,576.7 L572.4,575.3 L573.8,574.0 L575.3,572.6 L576.7,571.2 L578.2,569.8 L579.6,568.4 L581.0,567.0 L582.5,565.6 L583.9,564.2 L585.3,562.8 L586.8,561.4 L588.2,560.0 L589.6,558.6 L591.0,557.2 L592.5,555.8 L593.9,554.4 L595.3,553.1 L596.8,551.7 L598.2,550.3 L599.6,548.9 L601.1,547.5 L602.5,546.2 L603.9,544.8 L605.4,543.5 L606.9,542.1 L608.3,540.8 L609.8,539.5 L611.3,538.1 L612.7,536.8 L614.2,535.5 L615.7,534.2 L617.2,532.9 L618.7,531.7 L620.3,530.4 L621.8,529.2 L623.3,527.9 L624.9,526.7 L626.4,525.5 L628.0,524.3 L629.6,523.1 L631.2,521.9 L632.8,520.8 L634.4,519.6 L636.1,518.5 L637.7,517.4 L639.4,516.3 L641.0,515.2 L642.7,514.1 L644.4,513.1 L646.1,512.0 L647.8,511.0 L649.5,510.0 L651.2,508.9 L653.0,507.9 L654.7,506.9 L656.4,505.9 L658.2,505.0 L660.0,504.0 L661.7,503.0 L663.5,502.0 L665.2,501.1 L667.0,500.1 L668.8,499.2 L670.6,498.2 L672.4,497.3 L674.1,496.4 L675.9,495.4 L677.7,494.5 L679.5,493.5 L681.3,492.6 L683.1,491.7 L684.9,490.8 L686.7,489.8 L688.5,488.9 L690.3,488.0 L692.0,487.0 L693.8,486.1 L695.6,485.1 L697.4,484.2 L699.2,483.3 L700.9,482.3 L702.7,481.3 L704.5,480.4 L706.2,479.4 L708.0,478.4 L709.7,477.5 L711.5,476.5 L713.2,475.5 L714.9,474.5 L716.7,473.5 L718.4,472.5 L720.1,471.5 L721.8,470.5 L723.5,469.4 L725.2,468.4 L726.9,467.4 L728.6,466.3 L730.3,465.3 L732.0,464.2 L733.7,463.1 L735.3,462.0 L737.0,460.9 L738.6,459.8 L740.3,458.7 L741.9,457.6 L743.5,456.5 L745.2,455.3 L746.8,454.2 L748.4,453.0 L750.0,451.8 L751.6,450.7 L753.1,449.5 L754.7,448.3 L756.3,447.0 L757.8,445.8 L759.4,444.6 L760.9,443.3 L762.5,442.0 L764.0,440.8 L765.5,439.5 L767.0,438.2 L768.5,436.8 L770.0,435.5 L771.5,434.2 L772.9,432.8 L774.4,431.5 L775.9,430.1 L777.3,428.7 L778.8,427.3 L780.2,425.9 L781.7,424.5 L783.1,423.1 L784.5,421.7 L786.0,420.3 L787.4,418.9 L788.8,417.4 L790.3,416.0 L791.7,414.6 L793.2,413.1 L794.6,411.7 L796.0,410.3 L797.5,408.8 L798.9,407.4 L800.4,406.0 L801.8,404.5 L803.3,403.1 L804.8,401.7 L806.2,400.3 L807.7,398.8 L809.2,397.4 L810.7,396.0 L812.2,394.6 L813.7,393.2 L815.2,391.8 L816.7,390.4 L818.3,389.0 L819.8,387.7 L821.4,386.3 L823.0,385.0 L824.5,383.6 L826.1,382.3 L827.7,381.1 L829.4,379.8 L831.0,378.6 L832.6,377.5 L834.2,376.4 L835.9,375.4 L837.5,374.4 L839.2,373.5 L840.9,372.7 L842.5,372.0 L844.2,371.3 L845.9,370.8 L847.5,370.3 L849.2,369.9 L850.9,369.7 L852.6,369.5 L854.3,369.5 L856.0,369.6 L857.7,369.8 L859.4,370.2 L861.0,370.6 L862.7,371.1 L864.4,371.7 L866.0,372.4 L867.7,373.2 L869.3,374.0 L870.9,375.0 L872.5,376.0 L874.1,377.0 L875.7,378.2 L877.2,379.4 L878.7,380.6 L880.2,381.9 L881.7,383.2 L883.1,384.6 L884.5,386.0 L885.8,387.4 L887.2,388.9 L888.5,390.4 L889.8,391.9 L891.0,393.4 L892.2,395.0 L893.4,396.6 L894.6,398.2 L895.7,399.8 L896.8,401.5 L897.9,403.2 L899.0,404.9 L900.0,406.6 L901.0,408.3 L902.0,410.1 L903.0,411.8 L904.0,413.6 L904.9,415.4 L905.8,417.2 L906.7,419.0 L907.6,420.9 L908.5,422.7 L909.4,424.6 L910.2,426.4 L911.1,428.3 L911.9,430.2 L912.7,432.1 L913.5,434.0 L914.4,435.9 L915.2,437.8 L915.9,439.7 L916.7,441.6 L917.5,443.5 L918.3,445.4 L919.1,447.3 L919.8,449.2 L920.6,451.1 L921.4,453.0 L922.2,454.9 L922.9,456.8 L923.7,458.7 L924.5,460.6 L925.3,462.4 L926.1,464.3 L926.8,466.2 L927.6,468.1 L928.4,469.9 L929.2,471.8 L930.0,473.6 L930.7,475.5 L931.5,477.4 L932.3,479.2 L933.1,481.0 L933.9,482.9 L934.7,484.7 L935.5,486.6 L936.3,488.4 L937.1,490.2 L937.9,492.1 L938.7,493.9 L939.5,495.7 L940.3,497.5 L941.1,499.3 L941.9,501.1 L942.7,503.0 L943.5,504.8 L944.3,506.6 L945.2,508.4 L946.0,510.2 L946.8,512.0 L947.6,513.8 L948.5,515.6 L949.3,517.4 L950.1,519.2 L951.0,520.9 L951.8,522.7 L952.6,524.5 L953.5,526.3 L954.3,528.1 L955.2,529.9 L956.0,531.6 L956.9,533.4 L957.7,535.2 L958.6,537.0 L959.4,538.7 L960.3,540.5 L961.2,542.3 L962.0,544.1 L962.9,545.8 L963.8,547.6 L964.7,549.4 L965.6,551.1 L966.4,552.9 L967.3,554.7 L968.2,556.4 L969.1,558.2 L970.0,560.0 L970.9,561.7 L971.8,563.5 L972.8,565.2 L973.7,567.0 L974.6,568.8 L975.5,570.5 L976.5,572.3 L977.4,574.1 L978.3,575.8 L979.3,577.6 L980.2,579.3 L981.2,581.1 L982.1,582.9 L983.1,584.6 L984.0,586.4 L985.0,588.2 L986.0,589.9 L986.9,591.7 L987.9,593.5 L988.9,595.2 L989.9,597.0 L990.9,598.8 L991.9,600.5 L992.9,602.3 L993.9,604.0 L994.9,605.8 L996.0,607.5 L997.0,609.3 L998.1,611.0 L999.1,612.7 L1000.2,614.5 L1001.3,616.2 L1002.4,617.9 L1003.5,619.5 L1004.6,621.2 L1005.8,622.9 L1006.9,624.5 L1008.1,626.1 L1009.3,627.7 L1010.5,629.3 L1011.7,630.9 L1012.9,632.5 L1014.2,634.0 L1015.5,635.5 L1016.7,637.0 L1018.1,638.5 L1019.4,640.0 L1020.8,641.4 L1022.1,642.8 L1023.5,644.2 L1025.0,645.5 L1026.4,646.8 L1027.9,648.1 L1029.4,649.4 L1030.9,650.6 L1032.5,651.8 L1034.0,653.0 L1035.6,654.1 L1037.3,655.2 L1038.9,656.3 L1040.6,657.3 L1042.3,658.4 L1044.0,659.3 L1045.8,660.3 L1047.5,661.3 L1049.3,662.2 L1051.1,663.1 L1052.9,664.0 L1054.7,664.8 L1056.6,665.7 L1058.4,666.5 L1060.2,667.4 L1062.1,668.2 L1064.0,669.0 L1065.8,669.8 L1067.7,670.6 L1069.6,671.3 L1071.5,672.1 L1073.3,672.9 L1075.2,673.7 L1077.1,674.4 L1078.9,675.2 L1080.8,676.0 L1082.6,676.8 L1084.5,677.6 L1086.3,678.4 L1088.1,679.2 L1090.0,680.0 L1091.8,680.8 L1093.5,681.7 L1095.3,682.5 L1097.1,683.4 L1098.8,684.3 L1100.5,685.2 L1105.2,686.1" stroke="#00ff00"/>
<path d="M141.6,713.4 L146.6,713.4 L148.5,713.4 L150.5,713.4 L152.4,713.3 L154.4,713.3 L156.3,713.3 L158.3,713.3 L160.2,713.3 L162.2,713.2 L164.2,713.2 L166.1,713.2 L168.1,713.2 L170.1,713.1 L172.0,713.1 L174.0,713.1 L176.0,713.1 L178.0,713.0 L179.9,713.0 L181.9,713.0 L183.9,712.9 L185.9,712.9 L187.9,712.9 L189.9,712.8 L191.8,712.8 L193.8,712.8 L195.8,712.7 L197.8,712.7 L199.8,712.6 L201.8,712.6 L203.8,712.5 L205.8,712.5 L207.8,712.4 L209.8,712.4 L211.8,712.3 L213.8,712.3 L215.8,712.2 L217.8,712.1 L219.8,712.1 L221.8,712.0 L223.8,711.9 L225.8,711.9 L227.8,711.8 L229.8,711.7 L231.8,711.6 L233.8,711.5 L235.8,711.4 L237.9,711.4 L239.9,711.3 L241.9,711.2 L243.9,711.1 L245.9,711.0 L247.9,710.8 L249.9,710.7 L251.9,710.6 L253.9,710.5 L255.9,710.4 L258.0,710.3 L260.0,710.1 L262.0,710.0 L264.0,709.8 L266.0,709.7 L268.0,709.6 L270.0,709.4 L272.0,709.3 L274.0,709.1 L276.1,708.9 L278.1,708.8 L280.1,708.6 L282.1,708.4 L284.1,708.2 L286.1,708.0 L288.1,707.9 L290.1,707.7 L292.1,707.5 L294.1,707.2 L296.1,707.0 L298.1,706.8 L300.1,706.6 L302.1,706.4 L304.1,706.1 L306.1,705.9 L308.1,705.7 L310.1,705.4 L312.1,705.1 L314.1,704.9 L316.1,704.6 L318.1,704.3 L320.1,704.1 L322.1,703.8 L324.1,703.5 L326.1,703.2 L328.1,702.9 L330.0,702.6 L332.0,702.3 L334.0,702.0 L336.0,701.6 L338.0,701.3 L339.9,700.9 L341.9,700.6 L343.9,700.2 L345.9,699.9 L347.8,699.5 L349.8,699.1 L351.8,698.8 L353.7,698.4 L355.7,698.0 L357.6,697.6 L359.6,697.2 L361.6,696.7 L363.5,696.3 L365.5,695.9 L367.4,695.4 L369.4,695.0 L371.3,694.5 L373.2,694.1 L375.2,693.6 L377.1,693.1 L379.1,692.6 L381.0,692.1 L382.9,691.6 L384.8,691.1 L386.8,690.6 L388.7,690.1 L390.6,689.5 L392.5,689.0 L394.4,688.4 L396.3,687.9 L398.2,687.3 L400.1,686.7 L402.0,686.1 L403.9,685.5 L405.8,684.9 L407.7,684.3 L409.6,683.7 L411.5,683.0 L413.4,682.4 L415.3,681.7 L417.1,681.1 L419.0,680.4 L420.9,679.7 L422.7,679.0 L424.6,678.3 L426.5,677.6 L428.3,676.9 L430.2,676.2 L432.0,675.4 L433.8,674.7 L435.7,673.9 L437.5,673.2 L439.3,672.4 L441.2,671.6 L443.0,670.8 L444.8,670.0 L446.6,669.2 L448.4,668.3 L450.2,667.5 L452.1,666.7 L453.9,665.8 L455.7,664.9 L457.4,664.1 L459.2,663.2 L461.0,662.3 L462.8,661.4 L464.6,660.5 L466.4,659.6 L468.1,658.7 L469.9,657.7 L471.7,656.8 L473.4,655.8 L475.2,654.9 L477.0,653.9 L478.7,653.0 L480.5,652.0 L482.2,651.0 L483.9,650.0 L485.7,649.0 L487.4,648.0 L489.2,647.0 L490.9,646.0 L492.6,645.0 L494.3,644.0 L496.1,642.9 L497.8,641.9 L499.5,640.8 L501.2,639.8 L502.9,638.7 L504.6,637.7 L506.4,636.6 L508.1,635.5 L509.8,634.5 L511.5,633.4 L513.2,632.3 L514.8,631.2 L516.5,630.1 L518.2,629.0 L519.9,627.9 L521.6,626.8 L523.3,625.7 L525.0,624.6 L526.6,623.5 L528.3,622.3 L530.0,621.2 L531.6,620.1 L533.3,618.9 L535.0,617.8 L536.6,616.7 L538.3,615.5 L540.0,614.4 L541.6,613.2 L543.3,612.1 L544.9,610.9 L546.6,609.8 L548.2,608.6 L549.9,607.5 L551.5,606.3 L553.1,605.1 L554.8,604.0 L556.4,602.8 L558.1,601.7 L559.7,600.5 L561.3,599.3 L563.0,598.1 L564.6,597.0 L566.2,595.8 L567.8,594.6 L569.5,593.5 L571.1,592.3 L572.7,591.1 L574.3,589.9 L575.9,588.8 L577.6,587.6 L579.2,586.4 L580.8,585.3 L582.4,584.1 L584.0,582.9 L585.7,581.8 L587.3,580.6 L588.9,579.4 L590.5,578.3 L592.1,577.1 L593.8,576.0 L595.4,574.8 L597.0,573.6 L598.6,572.5 L600.3,571.3 L601.9,570.2 L603.5,569.1 L605.2,567.9 L606.8,566.8 L608.4,565.7 L610.1,564.5 L611.7,563.4 L613.3,562.3 L615.0,561.2 L616.6,560.1 L618.3,559.0 L619.9,557.9 L621.6,556.8 L623.3,555.7 L624.9,554.6 L626.6,553.5 L628.3,552.5 L629.9,551.4 L631.6,550.3 L633.3,549.3 L635.0,548.2 L636.7,547.2 L638.4,546.2 L640.1,545.1 L641.8,544.1 L643.5,543.1 L645.2,542.1 L646.9,541.1 L648.6,540.1 L650.4,539.1 L652.1,538.2 L653.8,537.2 L655.6,536.3 L657.3,535.3 L659.1,534.4 L660.9,533.4 L662.6,532.5 L664.4,531.6 L666.2,530.7 L668.0,529.8 L669.8,528.9 L671.6,528.1 L673.4,527.2 L675.2,526.4 L677.0,525.5 L678.9,524.7 L680.7,523.9 L682.6,523.1 L684.4,522.3 L686.3,521.5 L688.2,520.7 L690.1,519.9 L691.9,519.2 L693.8,518.4 L695.7,517.7 L697.6,516.9 L699.5,516.2 L701.4,515.5 L703.3,514.7 L705.2,514.0 L707.1,513.3 L709.0,512.6 L710.9,511.8 L712.8,511.1 L714.7,510.3 L716.6,509.6 L718.5,508.8 L720.4,508.1 L722.3,507.3 L724.1,506.5 L726.0,505.7 L727.9,504.9 L729.7,504.1 L731.5,503.3 L733.4,502.5 L735.2,501.6 L737.0,500.7 L738.8,499.8 L740.5,498.9 L742.3,498.0 L744.0,497.1 L745.8,496.1 L747.5,495.1 L749.2,494.1 L750.9,493.1 L752.5,492.0 L754.2,490.9 L755.8,489.8 L757.4,488.6 L759.0,487.5 L760.5,486.3 L762.1,485.1 L763.6,483.9 L765.2,482.6 L766.7,481.3 L768.2,480.0 L769.7,478.7 L771.1,477.4 L772.6,476.1 L774.1,474.7 L775.5,473.4 L777.0,472.0 L778.4,470.6 L779.9,469.2 L781.3,467.8 L782.7,466.4 L784.2,465.0 L785.6,463.6 L787.0,462.1 L788.5,460.7 L789.9,459.3 L791.4,457.8 L792.8,456.4 L794.2,455.0 L795.7,453.5 L797.2,452.1 L798.6,450.7 L800.1,449.2 L801.6,447.8 L803.1,446.4 L804.6,445.0 L806.1,443.6 L807.6,442.2 L809.2,440.9 L810.7,439.5 L812.3,438.2 L813.9,436.9 L815.5,435.6 L817.1,434.3 L818.8,433.1 L820.4,432.0 L822.1,430.8 L823.8,429.8 L825.5,428.8 L827.3,427.8 L829.1,426.9 L830.8,426.1 L832.6,425.3 L834.5,424.6 L836.3,424.0 L838.2,423.5 L840.1,423.1 L842.0,422.7 L844.0,422.5 L845.9,422.3 L847.9,422.2 L849.8,422.1 L851.8,422.2 L853.7,422.3 L855.7,422.5 L857.6,422.8 L859.5,423.1 L861.4,423.5 L863.3,424.0 L865.2,424.6 L867.0,425.2 L868.8,425.9 L870.5,426.7 L872.2,427.5 L873.9,428.4 L875.5,429.3 L877.1,430.3 L878.6,431.4 L880.1,432.5 L881.6,433.6 L883.0,434.9 L884.4,436.1 L885.8,437.5 L887.1,438.8 L888.4,440.2 L889.7,441.7 L890.9,443.1 L892.1,444.7 L893.3,446.2 L894.5,447.8 L895.6,449.4 L896.7,451.1 L897.8,452.8 L898.9,454.5 L900.0,456.2 L901.0,457.9 L902.1,459.7 L903.1,461.5 L904.1,463.3 L905.1,465.1 L906.1,466.9 L907.1,468.8 L908.0,470.6 L909.0,472.5 L909.9,474.3 L910.9,476.2 L911.8,478.0 L912.8,479.9 L913.7,481.7 L914.7,483.6 L915.6,485.4 L916.6,487.3 L917.5,489.1 L918.5,490.9 L919.4,492.7 L920.4,494.5 L921.3,496.3 L922.3,498.1 L923.2,499.9 L924.2,501.7 L925.2,503.5 L926.1,505.3 L927.1,507.0 L928.1,508.8 L929.0,510.6 L930.0,512.3 L931.0,514.1 L931.9,515.8 L932.9,517.6 L933.9,519.3 L934.9,521.1 L935.8,522.8 L936.8,524.5 L937.8,526.3 L938.8,528.0 L939.8,529.7 L940.7,531.4 L941.7,533.1 L942.7,534.9 L943.7,536.6 L944.7,538.3 L945.7,540.0 L946.7,541.7 L947.7,543.4 L948.7,545.1 L949.7,546.8 L950.7,548.5 L951.7,550.2 L952.7,551.9 L953.7,553.6 L954.7,555.3 L955.7,557.0 L956.8,558.6 L957.8,560.3 L958.8,562.0 L959.8,563.7 L960.8,565.4 L961.9,567.1 L962.9,568.8 L963.9,570.4 L965.0,572.1 L966.0,573.8 L967.0,575.5 L968.1,577.2 L969.1,578.9 L970.2,580.6 L971.2,582.2 L972.2,583.9 L973.3,585.6 L974.4,587.3 L975.4,589.0 L976.5,590.7 L977.5,592.4 L978.6,594.1 L979.7,595.8 L980.7,597.5 L981.8,599.2 L982.9,600.9 L983.9,602.6 L985.0,604.3 L986.1,606.0 L987.2,607.7 L988.3,609.5 L989.4,611.2 L990.4,612.9 L991.5,614.6 L992.6,616.3 L993.8,618.1 L994.9,619.8 L996.0,621.5 L997.1,623.2 L998.3,624.8 L999.5,626.5 L1000.6,628.1 L1001.8,629.8 L1003.1,631.4 L1004.3,633.0 L1005.5,634.5 L1006.8,636.1 L1008.1,637.6 L1009.4,639.1 L1010.8,640.5 L1012.2,642.0 L1013.6,643.4 L1015.0,644.7 L1016.4,646.0 L1017.9,647.4 L1019.4,648.6 L1020.9,649.9 L1022.4,651.1 L1024.0,652.3 L1025.6,653.4 L1027.2,654.6 L1028.8,655.7 L1030.5,656.7 L1032.1,657.8 L1033.8,658.8 L1035.5,659.8 L1037.2,660.8 L1039.0,661.7 L1040.7,662.6 L1042.5,663.5 L1044.3,664.4 L1046.1,665.3 L1048.0,666.1 L1049.8,666.9 L1051.6,667.7 L1053.5,668.5 L1055.4,669.3 L1057.2,670.0 L1059.1,670.8 L1061.0,671.5 L1062.9,672.2 L1064.8,673.0 L1066.7,673.7 L1068.6,674.4 L1070.5,675.1 L1072.4,675.8 L1074.3,676.6 L1076.2,677.3 L1078.1,678.0 L1079.9,678.7 L1081.8,679.5 L1083.7,680.2 L1085.5,681.0 L1087.4,681.8 L1089.2,682.6 L1091.0,683.4 L1092.8,684.2 L1094.6,685.0 L1096.4,685.9 L1098.1,686.7 L1099.8,687.6 L1101.6,688.5 L1106.2,689.5" stroke="#0000ff"/>
<path d="M141.2,714.5 L146.2,714.4 L148.1,714.3 L150.1,714.2 L152.1,714.2 L154.0,714.1 L156.0,714.0 L158.0,713.9 L160.0,713.9 L162.0,713.8 L164.0,713.7 L165.9,713.7 L167.9,713.6 L169.9,713.6 L171.9,713.5 L173.9,713.5 L175.9,713.4 L177.9,713.4 L179.9,713.3 L181.9,713.3 L183.9,713.3 L185.9,713.2 L187.9,713.2 L189.9,713.2 L191.9,713.1 L193.9,713.1 L195.9,713.1 L197.9,713.0 L199.9,713.0 L201.9,713.0 L203.9,713.0 L205.9,712.9 L207.9,712.9 L209.9,712.9 L211.9,712.8 L214.0,712.8 L216.0,712.8 L218.0,712.7 L220.0,712.7 L222.0,712.6 L224.0,712.6 L226.0,712.6 L228.0,712.5 L230.0,712.5 L232.0,712.4 L234.0,712.3 L236.1,712.3 L238.1,712.2 L240.1,712.2 L242.1,712.1 L244.1,712.0 L246.1,711.9 L248.1,711.8 L250.1,711.8 L252.1,711.7 L254.1,711.6 L256.1,711.5 L258.1,711.3 L260.1,711.2 L262.1,711.1 L264.1,711.0 L266.1,710.9 L268.1,710.7 L270.1,710.6 L272.1,710.4 L274.1,710.3 L276.1,710.1 L278.0,709.9 L280.0,709.7 L282.0,709.5 L284.0,709.3 L286.0,709.1 L288.0,708.9 L289.9,708.7 L291.9,708.5 L293.9,708.2 L295.8,708.0 L297.8,707.7 L299.8,707.5 L301.8,707.2 L303.7,706.9 L305.7,706.6 L307.7,706.4 L309.6,706.1 L311.6,705.8 L313.5,705.5 L315.5,705.2 L317.5,704.8 L319.4,704.5 L321.4,704.2 L323.3,703.9 L325.3,703.5 L327.3,703.2 L329.2,702.9 L331.2,702.5 L333.1,702.2 L335.1,701.8 L337.1,701.5 L339.0,701.1 L341.0,700.8 L343.0,700.4 L344.9,700.1 L346.9,699.7 L348.9,699.3 L350.8,699.0 L352.8,698.6 L354.8,698.3 L356.8,697.9 L358.7,697.5 L360.7,697.2 L362.7,696.8 L364.7,696.5 L366.7,696.1 L368.6,695.8 L370.6,695.4 L372.6,695.0 L374.6,694.7 L376.6,694.3 L378.6,693.9 L380.5,693.5 L382.5,693.2 L384.5,692.8 L386.5,692.4 L388.5,692.0 L390.4,691.6 L392.4,691.2 L394.4,690.7 L396.4,690.3 L398.3,689.9 L400.3,689.4 L402.3,689.0 L404.2,688.5 L406.2,688.1 L408.1,687.6 L410.1,687.1 L412.0,686.6 L413.9,686.1 L415.9,685.6 L417.8,685.0 L419.7,684.5 L421.6,683.9 L423.5,683.3 L425.4,682.7 L427.3,682.1 L429.2,681.5 L431.1,680.9 L433.0,680.2 L434.9,679.5 L436.7,678.9 L438.6,678.2 L440.4,677.5 L442.3,676.8 L444.1,676.0 L446.0,675.3 L447.8,674.5 L449.6,673.8 L451.5,673.0 L453.3,672.2 L455.1,671.4 L456.9,670.6 L458.7,669.7 L460.5,668.9 L462.3,668.1 L464.1,667.2 L465.8,666.3 L467.6,665.5 L469.4,664.6 L471.2,663.7 L472.9,662.8 L474.7,661.8 L476.5,660.9 L478.2,660.0 L480.0,659.1 L481.7,658.1 L483.5,657.1 L485.2,656.2 L486.9,655.2 L488.7,654.2 L490.4,653.2 L492.1,652.3 L493.8,651.3 L495.6,650.2 L497.3,649.2 L499.0,648.2 L500.7,647.2 L502.4,646.2 L504.1,645.1 L505.8,644.1 L507.5,643.0 L509.2,642.0 L510.9,640.9 L512.6,639.9 L514.3,638.8 L516.0,637.8 L517.7,636.7 L519.4,635.6 L521.1,634.5 L522.8,633.5 L524.5,632.4 L526.2,631.3 L527.9,630.2 L529.5,629.1 L531.2,628.0 L532.9,626.9 L534.6,625.9 L536.3,624.8 L538.0,623.7 L539.6,622.6 L541.3,621.5 L543.0,620.4 L544.7,619.3 L546.4,618.2 L548.0,617.1 L549.7,616.0 L551.4,614.9 L553.1,613.8 L554.8,612.7 L556.4,611.7 L558.1,610.6 L559.8,609.5 L561.5,608.4 L563.2,607.3 L564.9,606.2 L566.6,605.2 L568.2,604.1 L569.9,603.0 L571.6,601.9 L573.3,600.9 L575.0,599.8 L576.7,598.7 L578.4,597.7 L580.1,596.6 L581.8,595.6 L583.5,594.5 L585.2,593.5 L586.9,592.4 L588.6,591.4 L590.3,590.3 L592.0,589.3 L593.7,588.2 L595.4,587.2 L597.1,586.2 L598.8,585.2 L600.5,584.1 L602.2,583.1 L603.9,582.1 L605.6,581.1 L607.4,580.1 L609.1,579.1 L610.8,578.1 L612.5,577.1 L614.2,576.1 L616.0,575.1 L617.7,574.1 L619.4,573.1 L621.2,572.2 L622.9,571.2 L624.6,570.2 L626.4,569.3 L628.1,568.3 L629.9,567.3 L631.6,566.4 L633.4,565.5 L635.1,564.5 L636.9,563.6 L638.6,562.7 L640.4,561.7 L642.2,560.8 L643.9,559.9 L645.7,559.0 L647.5,558.1 L649.3,557.2 L651.0,556.3 L652.8,555.5 L654.6,554.6 L656.4,553.7 L658.2,552.9 L660.0,552.0 L661.8,551.2 L663.6,550.3 L665.4,549.5 L667.2,548.6 L669.0,547.8 L670.8,547.0 L672.7,546.2 L674.5,545.4 L676.3,544.6 L678.1,543.8 L680.0,543.0 L681.8,542.2 L683.7,541.5 L685.5,540.7 L687.3,539.9 L689.2,539.2 L691.0,538.4 L692.9,537.6 L694.7,536.9 L696.6,536.1 L698.4,535.4 L700.3,534.6 L702.1,533.9 L704.0,533.1 L705.8,532.4 L707.7,531.6 L709.5,530.9 L711.4,530.1 L713.2,529.4 L715.1,528.6 L716.9,527.8 L718.8,527.1 L720.6,526.3 L722.4,525.5 L724.3,524.7 L726.1,524.0 L727.9,523.2 L729.7,522.4 L731.6,521.6 L733.4,520.8 L735.2,519.9 L737.0,519.1 L738.8,518.3 L740.6,517.4 L742.4,516.6 L744.2,515.7 L746.0,514.8 L747.8,514.0 L749.5,513.1 L751.3,512.2 L753.1,511.2 L754.8,510.3 L756.6,509.4 L758.3,508.4 L760.0,507.4 L761.7,506.5 L763.5,505.5 L765.2,504.5 L766.9,503.4 L768.6,502.4 L770.2,501.3 L771.9,500.3 L773.6,499.2 L775.2,498.1 L776.9,496.9 L778.5,495.8 L780.1,494.6 L781.8,493.4 L783.4,492.2 L785.0,491.0 L786.5,489.8 L788.1,488.5 L789.7,487.2 L791.2,485.9 L792.7,484.6 L794.3,483.2 L795.8,481.8 L797.3,480.4 L798.8,479.0 L800.2,477.6 L801.7,476.1 L803.1,474.6 L804.6,473.1 L806.0,471.7 L807.5,470.2 L809.0,468.7 L810.4,467.3 L811.9,465.9 L813.4,464.5 L814.9,463.1 L816.4,461.8 L818.0,460.5 L819.6,459.3 L821.2,458.2 L822.9,457.1 L824.6,456.1 L826.3,455.2 L828.1,454.4 L829.9,453.6 L831.8,453.0 L833.6,452.4 L835.6,451.9 L837.5,451.5 L839.4,451.2 L841.4,450.9 L843.4,450.7 L845.4,450.7 L847.3,450.6 L849.3,450.7 L851.3,450.9 L853.2,451.1 L855.2,451.4 L857.1,451.7 L858.9,452.2 L860.8,452.7 L862.6,453.3 L864.4,454.0 L866.1,454.7 L867.8,455.5 L869.5,456.3 L871.2,457.3 L872.8,458.2 L874.3,459.3 L875.9,460.4 L877.4,461.5 L878.9,462.7 L880.4,463.9 L881.8,465.2 L883.3,466.5 L884.6,467.9 L886.0,469.3 L887.4,470.8 L888.7,472.3 L890.0,473.8 L891.3,475.3 L892.6,476.9 L893.8,478.5 L895.1,480.1 L896.3,481.8 L897.5,483.5 L898.7,485.1 L899.8,486.9 L901.0,488.6 L902.2,490.3 L903.3,492.0 L904.4,493.8 L905.6,495.5 L906.7,497.3 L907.8,499.0 L908.9,500.8 L910.0,502.6 L911.1,504.3 L912.1,506.1 L913.2,507.8 L914.3,509.6 L915.4,511.3 L916.4,513.0 L917.5,514.8 L918.5,516.5 L919.6,518.3 L920.6,520.0 L921.7,521.7 L922.7,523.5 L923.7,525.2 L924.8,526.9 L925.8,528.7 L926.8,530.4 L927.9,532.1 L928.9,533.8 L929.9,535.6 L930.9,537.3 L931.9,539.0 L933.0,540.7 L934.0,542.4 L935.0,544.1 L936.0,545.9 L937.0,547.6 L938.0,549.3 L939.0,551.0 L940.1,552.7 L941.1,554.4 L942.1,556.1 L943.1,557.8 L944.1,559.5 L945.1,561.2 L946.2,562.9 L947.2,564.5 L948.2,566.2 L949.2,567.9 L950.2,569.6 L951.3,571.3 L952.3,573.0 L953.4,574.6 L954.4,576.3 L955.4,578.0 L956.5,579.7 L957.5,581.3 L958.6,583.0 L959.7,584.6 L960.7,586.3 L961.8,588.0 L962.9,589.6 L963.9,591.3 L965.0,592.9 L966.1,594.6 L967.2,596.2 L968.3,597.9 L969.4,599.5 L970.5,601.1 L971.7,602.8 L972.8,604.4 L973.9,606.0 L975.1,607.7 L976.2,609.3 L977.4,610.9 L978.6,612.5 L979.7,614.1 L980.9,615.8 L982.1,617.4 L983.3,619.0 L984.5,620.6 L985.8,622.2 L987.0,623.8 L988.2,625.4 L989.5,627.0 L990.8,628.5 L992.0,630.1 L993.3,631.7 L994.6,633.2 L995.9,634.8 L997.3,636.3 L998.6,637.8 L999.9,639.3 L1001.3,640.8 L1002.7,642.3 L1004.1,643.8 L1005.5,645.2 L1006.9,646.6 L1008.3,648.0 L1009.8,649.4 L1011.3,650.7 L1012.8,652.1 L1014.3,653.4 L1015.8,654.7 L1017.3,655.9 L1018.9,657.1 L1020.5,658.3 L1022.0,659.5 L1023.7,660.6 L1025.3,661.7 L1026.9,662.8 L1028.6,663.8 L1030.3,664.9 L1032.0,665.8 L1033.8,666.7 L1035.5,667.6 L1037.3,668.5 L1039.1,669.3 L1040.9,670.1 L1042.8,670.8 L1044.6,671.5 L1046.5,672.2 L1048.4,672.9 L1050.3,673.5 L1052.2,674.1 L1054.1,674.7 L1056.1,675.3 L1058.0,675.9 L1059.9,676.4 L1061.9,677.0 L1063.8,677.5 L1065.8,678.1 L1067.7,678.7 L1069.7,679.2 L1071.6,679.8 L1073.6,680.4 L1075.5,681.0 L1077.4,681.6 L1079.3,682.2 L1081.2,682.9 L1083.1,683.6 L1085.0,684.3 L1086.8,685.0 L1088.6,685.8 L1090.5,686.6 L1092.2,687.5 L1094.0,688.4 L1095.8,689.3 L1097.5,690.3 L1099.2,691.3 L1103.8,692.4" stroke="#00ffff"/>
<path d="M141.1,721.1 L146.1,721.0 L148.1,720.9 L150.0,720.7 L152.0,720.6 L154.0,720.6 L156.0,720.5 L158.0,720.4 L160.0,720.3 L162.0,720.2 L164.0,720.2 L166.0,720.1 L168.0,720.1 L169.9,720.0 L171.9,720.0 L173.9,719.9 L175.9,719.9 L177.9,719.9 L179.9,719.8 L181.9,719.8 L183.9,719.8 L185.9,719.8 L187.9,719.7 L189.9,719.7 L191.9,719.7 L193.9,719.7 L195.9,719.7 L198.0,719.7 L200.0,719.7 L202.0,719.7 L204.0,719.7 L206.0,719.6 L208.0,719.6 L210.0,719.6 L212.0,719.6 L214.0,719.6 L216.0,719.6 L218.0,719.6 L220.0,719.6 L222.0,719.6 L224.0,719.5 L226.0,719.5 L228.0,719.5 L230.0,719.5 L232.0,719.4 L234.0,719.4 L236.1,719.4 L238.1,719.3 L240.1,719.3 L242.1,719.2 L244.1,719.2 L246.1,719.1 L248.1,719.1 L250.1,719.0 L252.1,718.9 L254.1,718.8 L256.1,718.7 L258.1,718.7 L260.1,718.6 L262.1,718.4 L264.0,718.3 L266.0,718.2 L268.0,718.1 L270.0,718.0 L272.0,717.8 L274.0,717.7 L276.0,717.5 L278.0,717.3 L280.0,717.1 L282.0,717.0 L283.9,716.8 L285.9,716.6 L287.9,716.3 L289.9,716.1 L291.9,715.9 L293.8,715.7 L295.8,715.4 L297.8,715.2 L299.8,714.9 L301.8,714.6 L303.7,714.4 L305.7,714.1 L307.7,713.8 L309.6,713.5 L311.6,713.2 L313.6,712.9 L315.6,712.6 L317.5,712.3 L319.5,712.0 L321.5,711.7 L323.4,711.3 L325.4,711.0 L327.4,710.6 L329.3,710.3 L331.3,710.0 L333.2,709.6 L335.2,709.2 L337.2,708.9 L339.1,708.5 L341.1,708.1 L343.1,707.8 L345.0,707.4 L347.0,707.0 L348.9,706.6 L350.9,706.2 L352.9,705.8 L354.8,705.5 L356.8,705.1 L358.7,704.7 L360.7,704.3 L362.7,703.9 L364.6,703.5 L366.6,703.0 L368.5,702.6 L370.5,702.2 L372.4,701.8 L374.4,701.4 L376.4,701.0 L378.3,700.6 L380.3,700.2 L382.2,699.8 L384.2,699.3 L386.1,698.9 L388.1,698.5 L390.1,698.1 L392.0,697.7 L394.0,697.3 L395.9,696.9 L397.9,696.4 L399.9,696.0 L401.8,695.6 L403.8,695.2 L405.7,694.8 L407.7,694.4 L409.7,694.0 L411.6,693.6 L413.6,693.2 L415.5,692.8 L417.5,692.4 L419.5,692.0 L421.4,691.6 L423.4,691.2 L425.3,690.8 L427.3,690.4 L429.3,690.0 L431.2,689.6 L433.2,689.2 L435.1,688.8 L437.1,688.4 L439.1,687.9 L441.0,687.5 L443.0,687.1 L444.9,686.7 L446.9,686.3 L448.8,685.9 L450.8,685.4 L452.7,685.0 L454.7,684.6 L456.6,684.2 L458.6,683.7 L460.5,683.3 L462.5,682.8 L464.4,682.4 L466.3,681.9 L468.3,681.5 L470.2,681.0 L472.2,680.6 L474.1,680.1 L476.0,679.6 L478.0,679.1 L479.9,678.6 L481.8,678.2 L483.7,677.7 L485.7,677.1 L487.6,676.6 L489.5,676.1 L491.4,675.6 L493.3,675.1 L495.3,674.5 L497.2,674.0 L499.1,673.4 L501.0,672.8 L502.9,672.3 L504.8,671.7 L506.7,671.1 L508.6,670.5 L510.5,669.9 L512.3,669.3 L514.2,668.7 L516.1,668.0 L518.0,667.4 L519.9,666.7 L521.7,666.1 L523.6,665.4 L525.5,664.7 L527.3,664.0 L529.2,663.3 L531.0,662.6 L532.9,661.8 L534.7,661.1 L536.6,660.3 L538.4,659.6 L540.3,658.8 L542.1,658.0 L543.9,657.2 L545.8,656.4 L547.6,655.6 L549.4,654.8 L551.2,654.0 L553.0,653.1 L554.9,652.3 L556.7,651.4 L558.5,650.6 L560.3,649.7 L562.1,648.8 L563.9,648.0 L565.7,647.1 L567.5,646.2 L569.3,645.3 L571.1,644.4 L572.9,643.5 L574.7,642.6 L576.5,641.7 L578.3,640.8 L580.1,639.9 L581.9,639.0 L583.7,638.1 L585.5,637.2 L587.3,636.2 L589.0,635.3 L590.8,634.4 L592.6,633.5 L594.4,632.6 L596.2,631.7 L598.0,630.7 L599.8,629.8 L601.6,628.9 L603.4,628.0 L605.2,627.1 L607.0,626.2 L608.8,625.3 L610.6,624.4 L612.4,623.5 L614.2,622.6 L616.0,621.7 L617.8,620.9 L619.6,620.0 L621.4,619.1 L623.2,618.3 L625.0,617.4 L626.8,616.6 L628.7,615.7 L630.5,614.9 L632.3,614.1 L634.1,613.3 L636.0,612.5 L637.8,611.7 L639.6,610.9 L641.5,610.1 L643.3,609.3 L645.2,608.6 L647.0,607.8 L648.9,607.1 L650.7,606.4 L652.6,605.7 L654.4,605.0 L656.3,604.3 L658.2,603.6 L660.0,603.0 L661.9,602.3 L663.8,601.7 L665.7,601.0 L667.6,600.4 L669.5,599.8 L671.3,599.1 L673.2,598.5 L675.1,597.9 L677.0,597.3 L678.9,596.7 L680.8,596.1 L682.7,595.5 L684.6,595.0 L686.5,594.4 L688.4,593.8 L690.3,593.2 L692.2,592.7 L694.1,592.1 L696.1,591.5 L698.0,591.0 L699.9,590.4 L701.8,589.8 L703.7,589.2 L705.6,588.7 L707.5,588.1 L709.4,587.5 L711.3,587.0 L713.2,586.4 L715.1,585.8 L717.0,585.2 L719.0,584.6 L720.9,584.0 L722.8,583.4 L724.7,582.8 L726.6,582.2 L728.5,581.6 L730.4,581.0 L732.3,580.4 L734.1,579.7 L736.0,579.1 L737.9,578.4 L739.8,577.8 L741.7,577.1 L743.6,576.4 L745.5,575.7 L747.3,575.0 L749.2,574.3 L751.1,573.6 L752.9,572.9 L754.8,572.1 L756.7,571.4 L758.5,570.6 L760.4,569.8 L762.2,569.0 L764.1,568.2 L765.9,567.3 L767.7,566.5 L769.6,565.6 L771.4,564.8 L773.2,563.9 L775.0,563.0 L776.8,562.0 L778.6,561.1 L780.4,560.1 L782.2,559.2 L784.0,558.2 L785.8,557.2 L787.6,556.3 L789.4,555.3 L791.2,554.3 L793.0,553.3 L794.8,552.4 L796.6,551.4 L798.4,550.5 L800.2,549.5 L802.0,548.6 L803.8,547.7 L805.6,546.8 L807.4,546.0 L809.2,545.1 L811.1,544.3 L812.9,543.5 L814.7,542.7 L816.5,542.0 L818.4,541.3 L820.2,540.6 L822.1,540.0 L824.0,539.4 L825.8,538.9 L827.7,538.3 L829.6,537.9 L831.5,537.5 L833.4,537.1 L835.4,536.8 L837.3,536.5 L839.2,536.3 L841.2,536.2 L843.2,536.1 L845.1,536.0 L847.1,536.0 L849.1,536.1 L851.0,536.2 L853.0,536.3 L855.0,536.5 L857.0,536.8 L858.9,537.1 L860.9,537.4 L862.8,537.8 L864.8,538.3 L866.7,538.8 L868.6,539.3 L870.5,539.9 L872.4,540.6 L874.3,541.3 L876.1,542.0 L878.0,542.8 L879.8,543.6 L881.6,544.5 L883.3,545.4 L885.1,546.3 L886.8,547.3 L888.5,548.4 L890.1,549.5 L891.7,550.6 L893.3,551.8 L894.9,553.0 L896.4,554.3 L897.9,555.6 L899.3,556.9 L900.8,558.3 L902.1,559.7 L903.5,561.1 L904.8,562.6 L906.2,564.1 L907.4,565.6 L908.7,567.1 L910.0,568.7 L911.2,570.3 L912.4,571.9 L913.6,573.5 L914.8,575.1 L916.0,576.8 L917.2,578.4 L918.3,580.1 L919.5,581.8 L920.6,583.5 L921.8,585.1 L922.9,586.8 L924.1,588.5 L925.3,590.2 L926.4,591.9 L927.6,593.5 L928.8,595.2 L930.0,596.8 L931.2,598.4 L932.4,600.1 L933.6,601.6 L934.8,603.2 L936.1,604.8 L937.4,606.3 L938.7,607.8 L940.0,609.3 L941.4,610.8 L942.7,612.2 L944.1,613.6 L945.5,615.0 L947.0,616.4 L948.4,617.8 L949.9,619.1 L951.3,620.4 L952.8,621.7 L954.3,623.0 L955.9,624.3 L957.4,625.5 L958.9,626.8 L960.5,628.0 L962.1,629.3 L963.6,630.5 L965.2,631.7 L966.8,632.9 L968.4,634.0 L970.1,635.2 L971.7,636.4 L973.3,637.5 L974.9,638.7 L976.6,639.9 L978.2,641.0 L979.9,642.2 L981.5,643.3 L983.2,644.4 L984.8,645.6 L986.5,646.7 L988.1,647.9 L989.8,649.0 L991.4,650.2 L993.1,651.3 L994.7,652.5 L996.4,653.6 L998.1,654.7 L999.7,655.9 L1001.4,657.0 L1003.1,658.1 L1004.7,659.2 L1006.4,660.3 L1008.1,661.4 L1009.8,662.5 L1011.5,663.5 L1013.2,664.6 L1014.9,665.6 L1016.6,666.6 L1018.3,667.7 L1020.0,668.6 L1021.7,669.6 L1023.5,670.6 L1025.2,671.5 L1027.0,672.4 L1028.8,673.3 L1030.5,674.1 L1032.3,675.0 L1034.1,675.8 L1035.9,676.6 L1037.7,677.3 L1039.6,678.0 L1041.4,678.7 L1043.2,679.4 L1045.1,680.0 L1047.0,680.7 L1048.9,681.2 L1050.7,681.8 L1052.6,682.3 L1054.6,682.9 L1056.5,683.4 L1058.4,683.9 L1060.3,684.4 L1062.2,684.8 L1064.2,685.3 L1066.1,685.7 L1068.1,686.2 L1070.0,686.6 L1072.0,687.1 L1073.9,687.5 L1075.9,688.0 L1077.8,688.4 L1079.8,688.9 L1081.7,689.3 L1083.7,689.8 L1085.6,690.3 L1087.5,690.8 L1089.5,691.3 L1091.4,691.8 L1093.3,692.4 L1095.3,693.0 L1097.2,693.6 L1099.1,694.2 L1101.0,694.8 L1105.9,695.5" stroke="#ff00ff"/>
<path d="M141.0,714.0 L146.0,714.1 L148.0,714.1 L150.0,714.2 L152.0,714.2 L154.0,714.3 L156.0,714.3 L158.0,714.3 L160.0,714.4 L162.0,714.4 L164.0,714.4 L166.0,714.5 L168.0,714.5 L170.0,714.5 L172.0,714.6 L174.0,714.6 L176.0,714.6 L178.0,714.6 L180.0,714.6 L182.0,714.6 L184.0,714.7 L186.0,714.7 L188.0,714.7 L190.0,714.7 L192.0,714.7 L194.0,714.7 L196.0,714.7 L198.0,714.7 L200.0,714.7 L202.0,714.7 L204.0,714.7 L206.0,714.7 L208.0,714.6 L210.0,714.6 L212.0,714.6 L214.0,714.6 L216.0,714.6 L218.0,714.5 L220.0,714.5 L222.0,714.5 L224.0,714.5 L226.0,714.4 L228.0,714.4 L230.0,714.4 L232.0,714.3 L234.0,714.3 L236.0,714.2 L238.0,714.2 L240.0,714.2 L242.0,714.1 L244.0,714.1 L246.0,714.0 L248.0,714.0 L250.0,713.9 L252.0,713.8 L254.0,713.8 L256.0,713.7 L258.0,713.7 L260.0,713.6 L262.0,713.5 L264.0,713.5 L266.0,713.4 L268.0,713.3 L270.0,713.2 L272.0,713.2 L274.0,713.1 L276.0,713.0 L278.0,712.9 L280.0,712.8 L282.0,712.8 L284.0,712.7 L286.0,712.6 L288.0,712.5 L290.0,712.4 L292.0,712.3 L293.9,712.2 L295.9,712.1 L297.9,712.0 L299.9,711.9 L301.9,711.8 L303.9,711.7 L305.9,711.6 L307.9,711.5 L309.9,711.3 L311.9,711.2 L313.9,711.1 L315.9,711.0 L317.9,710.9 L319.9,710.8 L321.9,710.6 L323.9,710.5 L325.9,710.4 L327.9,710.3 L329.9,710.1 L331.9,710.0 L333.9,709.9 L335.9,709.7 L337.9,709.6 L339.8,709.4 L341.8,709.3 L343.8,709.2 L345.8,709.0 L347.8,708.9 L349.8,708.7 L351.8,708.6 L353.8,708.4 L355.8,708.3 L357.8,708.1 L359.8,708.0 L361.8,707.8 L363.8,707.6 L365.8,707.5 L367.8,707.3 L369.7,707.2 L371.7,707.0 L373.7,706.8 L375.7,706.6 L377.7,706.5 L379.7,706.3 L381.7,706.1 L383.7,706.0 L385.7,705.8 L387.7,705.6 L389.7,705.4 L391.7,705.2 L393.6,705.0 L395.6,704.9 L397.6,704.7 L399.6,704.5 L401.6,704.3 L403.6,704.1 L405.6,703.9 L407.6,703.7 L409.6,703.5 L411.6,703.3 L413.5,703.1 L415.5,702.9 L417.5,702.7 L419.5,702.5 L421.5,702.3 L423.5,702.1 L425.5,701.9 L427.5,701.6 L429.5,701.4 L431.4,701.2 L433.4,701.0 L435.4,700.8 L437.4,700.6 L439.4,700.3 L441.4,700.1 L443.4,699.9 L445.4,699.7 L447.3,699.4 L449.3,699.2 L451.3,699.0 L453.3,698.7 L455.3,698.5 L457.3,698.3 L459.3,698.0 L461.2,697.8 L463.2,697.6 L465.2,697.3 L467.2,697.1 L469.2,696.8 L471.2,696.6 L473.1,696.3 L475.1,696.1 L477.1,695.8 L479.1,695.6 L481.1,695.3 L483.1,695.1 L485.1,694.8 L487.0,694.6 L489.0,694.3 L491.0,694.0 L493.0,693.8 L495.0,693.5 L496.9,693.3 L498.9,693.0 L500.9,692.7 L502.9,692.5 L504.9,692.2 L506.9,691.9 L508.8,691.6 L510.8,691.4 L512.8,691.1 L514.8,690.8 L516.8,690.5 L518.7,690.3 L520.7,690.0 L522.7,689.7 L524.7,689.4 L526.7,689.1 L528.6,688.8 L530.6,688.5 L532.6,688.3 L534.6,688.0 L536.5,687.7 L538.5,687.4 L540.5,687.1 L542.5,686.8 L544.5,686.5 L546.4,686.2 L548.4,685.9 L550.4,685.6 L552.4,685.3 L554.3,685.0 L556.3,684.7 L558.3,684.4 L560.3,684.1 L562.2,683.8 L564.2,683.4 L566.2,683.1 L568.2,682.8 L570.1,682.5 L572.1,682.2 L574.1,681.9 L576.1,681.6 L578.0,681.2 L580.0,680.9 L582.0,680.6 L583.9,680.3 L585.9,680.0 L587.9,679.6 L589.9,679.3 L591.8,679.0 L593.8,678.6 L595.8,678.3 L597.7,678.0 L599.7,677.7 L601.7,677.3 L603.7,677.0 L605.6,676.7 L607.6,676.3 L609.6,676.0 L611.5,675.6 L613.5,675.3 L615.5,675.0 L617.4,674.6 L619.4,674.3 L621.4,673.9 L623.3,673.6 L625.3,673.2 L627.3,672.9 L629.2,672.5 L631.2,672.2 L633.2,671.8 L635.1,671.5 L637.1,671.1 L639.1,670.8 L641.0,670.4 L643.0,670.1 L645.0,669.7 L646.9,669.4 L648.9,669.0 L650.9,668.7 L652.8,668.3 L654.8,667.9 L656.8,667.6 L658.7,667.2 L660.7,666.9 L662.7,666.5 L664.6,666.2 L666.6,665.8 L668.6,665.5 L670.5,665.2 L672.5,664.8 L674.5,664.5 L676.4,664.1 L678.4,663.8 L680.4,663.5 L682.3,663.1 L684.3,662.8 L686.3,662.5 L688.3,662.2 L690.2,661.9 L692.2,661.5 L694.2,661.2 L696.1,660.9 L698.1,660.6 L700.1,660.3 L702.1,660.0 L704.0,659.7 L706.0,659.4 L708.0,659.1 L710.0,658.8 L712.0,658.5 L713.9,658.2 L715.9,657.9 L717.9,657.7 L719.9,657.4 L721.8,657.1 L723.8,656.8 L725.8,656.5 L727.8,656.2 L729.8,655.9 L731.7,655.6 L733.7,655.3 L735.7,655.0 L737.7,654.7 L739.7,654.3 L741.6,654.0 L743.6,653.7 L745.6,653.4 L747.6,653.1 L749.6,652.7 L751.5,652.4 L753.5,652.0 L755.5,651.7 L757.5,651.3 L759.5,651.0 L761.4,650.6 L763.4,650.3 L765.4,649.9 L767.4,649.5 L769.4,649.2 L771.3,648.8 L773.3,648.5 L775.3,648.1 L777.3,647.8 L779.3,647.4 L781.2,647.1 L783.2,646.7 L785.2,646.4 L787.2,646.0 L789.2,645.7 L791.1,645.4 L793.1,645.1 L795.1,644.8 L797.1,644.5 L799.0,644.2 L801.0,643.9 L803.0,643.7 L805.0,643.4 L806.9,643.2 L808.9,643.0 L810.9,642.7 L812.9,642.5 L814.8,642.4 L816.8,642.2 L818.8,642.0 L820.8,641.9 L822.7,641.8 L824.7,641.7 L826.7,641.6 L828.6,641.5 L830.6,641.5 L832.6,641.4 L834.6,641.4 L836.5,641.4 L838.5,641.4 L840.4,641.5 L842.4,641.5 L844.4,641.6 L846.3,641.7 L848.3,641.9 L850.3,642.0 L852.2,642.2 L854.2,642.3 L856.1,642.5 L858.1,642.8 L860.0,643.0 L862.0,643.2 L863.9,643.5 L865.9,643.8 L867.8,644.1 L869.8,644.4 L871.7,644.7 L873.7,645.1 L875.6,645.4 L877.5,645.8 L879.5,646.2 L881.4,646.6 L883.4,647.0 L885.3,647.4 L887.2,647.9 L889.2,648.3 L891.1,648.8 L893.0,649.3 L895.0,649.7 L896.9,650.2 L898.8,650.7 L900.7,651.2 L902.7,651.8 L904.6,652.3 L906.5,652.8 L908.4,653.4 L910.4,653.9 L912.3,654.5 L914.2,655.1 L916.1,655.6 L918.1,656.2 L920.0,656.8 L921.9,657.4 L923.8,658.0 L925.7,658.6 L927.7,659.2 L929.6,659.8 L931.5,660.4 L933.4,661.0 L935.3,661.6 L937.3,662.3 L939.2,662.9 L941.1,663.5 L943.0,664.1 L944.9,664.7 L946.8,665.4 L948.8,666.0 L950.7,666.6 L952.6,667.2 L954.5,667.8 L956.4,668.5 L958.4,669.1 L960.3,669.7 L962.2,670.3 L964.1,670.9 L966.0,671.5 L968.0,672.1 L969.9,672.7 L971.8,673.3 L973.7,673.9 L975.6,674.5 L977.6,675.0 L979.5,675.6 L981.4,676.2 L983.3,676.7 L985.3,677.3 L987.2,677.8 L989.1,678.3 L991.0,678.9 L993.0,679.4 L994.9,679.9 L996.8,680.4 L998.8,680.9 L1000.7,681.4 L1002.6,681.8 L1004.6,682.3 L1006.5,682.8 L1008.4,683.2 L1010.4,683.7 L1012.3,684.1 L1014.2,684.6 L1016.2,685.0 L1018.1,685.4 L1020.1,685.8 L1022.0,686.3 L1024.0,686.7 L1025.9,687.1 L1027.8,687.5 L1029.8,687.9 L1031.7,688.2 L1033.7,688.6 L1035.6,689.0 L1037.6,689.4 L1039.5,689.7 L1041.5,690.1 L1043.5,690.4 L1045.4,690.8 L1047.4,691.1 L1049.3,691.5 L1051.3,691.8 L1053.3,692.2 L1055.2,692.5 L1057.2,692.8 L1059.1,693.1 L1061.1,693.4 L1063.1,693.8 L1065.1,694.1 L1067.0,694.4 L1069.0,694.7 L1071.0,695.0 L1072.9,695.3 L1074.9,695.6 L1076.9,695.9 L1078.9,696.1 L1080.9,696.4 L1082.8,696.7 L1084.8,697.0 L1086.8,697.3 L1088.8,697.5 L1090.8,697.8 L1092.8,698.1 L1094.8,698.4 L1096.8,698.6 L1098.8,698.9 L1100.8,699.2 L1105.8,699.4" stroke="#ffff00"/>
</g>
<g clip-path="url(#cb)" fill="none" stroke-width="6.5" stroke-linejoin="round" stroke-linecap="round">
<path d="M1341.0,645.9 L1346.0,645.8 L1348.0,645.7 L1350.0,645.5 L1352.0,645.4 L1354.0,645.3 L1356.0,645.2 L1358.0,645.1 L1360.0,645.1 L1362.0,645.0 L1364.0,644.9 L1366.0,644.9 L1368.0,644.8 L1370.0,644.8 L1372.0,644.8 L1374.0,644.7 L1376.0,644.7 L1378.0,644.7 L1380.0,644.7 L1382.0,644.6 L1384.0,644.6 L1386.0,644.6 L1388.0,644.6 L1390.0,644.6 L1392.0,644.6 L1394.0,644.6 L1396.0,644.6 L1398.0,644.6 L1400.0,644.6 L1402.0,644.6 L1404.0,644.6 L1406.0,644.6 L1408.0,644.6 L1410.0,644.6 L1412.0,644.6 L1414.0,644.5 L1416.0,644.5 L1418.0,644.5 L1420.0,644.5 L1422.0,644.5 L1424.0,644.4 L1426.0,644.4 L1428.0,644.3 L1430.0,644.3 L1432.0,644.2 L1434.0,644.2 L1436.0,644.1 L1438.0,644.0 L1440.0,643.9 L1442.0,643.8 L1444.0,643.7 L1446.0,643.6 L1448.0,643.5 L1450.0,643.3 L1452.0,643.2 L1454.0,643.0 L1455.9,642.8 L1457.9,642.7 L1459.9,642.5 L1461.9,642.3 L1463.9,642.1 L1465.9,641.9 L1467.9,641.6 L1469.9,641.4 L1471.9,641.2 L1473.9,640.9 L1475.8,640.7 L1477.8,640.4 L1479.8,640.2 L1481.8,639.9 L1483.8,639.6 L1485.8,639.4 L1487.8,639.1 L1489.7,638.8 L1491.7,638.5 L1493.7,638.3 L1495.7,638.0 L1497.6,637.7 L1499.6,637.4 L1501.6,637.1 L1503.6,636.9 L1505.5,636.6 L1507.5,636.3 L1509.5,636.0 L1511.5,635.8 L1513.4,635.5 L1515.4,635.2 L1517.4,635.0 L1519.3,634.7 L1521.3,634.5 L1523.3,634.3 L1525.2,634.0 L1527.2,633.8 L1529.2,633.6 L1531.2,633.4 L1533.1,633.2 L1535.1,633.0 L1537.1,632.9 L1539.1,632.7 L1541.0,632.6 L1543.0,632.4 L1545.0,632.3 L1547.0,632.2 L1549.0,632.2 L1551.0,632.1 L1553.0,632.0 L1555.0,632.0 L1557.0,632.0 L1559.0,632.0 L1561.0,632.0 L1563.0,632.0 L1565.0,632.1 L1567.1,632.1 L1569.1,632.2 L1571.1,632.2 L1573.1,632.3 L1575.1,632.3 L1577.2,632.4 L1579.2,632.5 L1581.2,632.5 L1583.2,632.6 L1585.2,632.6 L1587.2,632.7 L1589.3,632.7 L1591.3,632.7 L1593.3,632.7 L1595.3,632.7 L1597.3,632.6 L1599.3,632.6 L1601.3,632.5 L1603.2,632.4 L1605.2,632.3 L1607.2,632.1 L1609.2,631.9 L1611.1,631.7 L1613.1,631.5 L1615.0,631.2 L1617.0,630.9 L1618.9,630.6 L1620.9,630.3 L1622.8,629.9 L1624.7,629.6 L1626.7,629.1 L1628.6,628.7 L1630.5,628.3 L1632.4,627.8 L1634.3,627.3 L1636.3,626.8 L1638.2,626.3 L1640.1,625.8 L1642.0,625.3 L1643.9,624.7 L1645.8,624.1 L1647.7,623.6 L1649.6,623.0 L1651.5,622.4 L1653.4,621.8 L1655.3,621.2 L1657.2,620.6 L1659.2,619.9 L1661.1,619.3 L1663.0,618.7 L1664.9,618.0 L1666.8,617.4 L1668.7,616.7 L1670.6,616.0 L1672.5,615.4 L1674.4,614.7 L1676.3,614.0 L1678.2,613.3 L1680.1,612.6 L1682.0,611.9 L1683.9,611.1 L1685.8,610.4 L1687.7,609.7 L1689.6,608.9 L1691.4,608.1 L1693.3,607.3 L1695.2,606.6 L1697.0,605.8 L1698.9,604.9 L1700.7,604.1 L1702.6,603.3 L1704.4,602.4 L1706.2,601.6 L1708.0,600.7 L1709.8,599.8 L1711.6,598.9 L1713.4,598.0 L1715.2,597.1 L1716.9,596.1 L1718.7,595.2 L1720.4,594.2 L1722.2,593.2 L1723.9,592.2 L1725.6,591.2 L1727.3,590.1 L1729.0,589.1 L1730.6,588.0 L1732.3,586.9 L1733.9,585.8 L1735.5,584.7 L1737.2,583.6 L1738.8,582.4 L1740.3,581.2 L1741.9,580.0 L1743.4,578.8 L1745.0,577.6 L1746.5,576.4 L1748.0,575.1 L1749.5,573.8 L1750.9,572.5 L1752.4,571.2 L1753.8,569.8 L1755.2,568.4 L1756.6,567.1 L1758.0,565.7 L1759.3,564.2 L1760.7,562.8 L1762.0,561.3 L1763.3,559.9 L1764.6,558.4 L1765.9,556.9 L1767.1,555.4 L1768.4,553.8 L1769.6,552.3 L1770.8,550.7 L1772.0,549.1 L1773.2,547.5 L1774.4,545.9 L1775.5,544.3 L1776.7,542.7 L1777.8,541.0 L1778.9,539.4 L1780.0,537.7 L1781.1,536.0 L1782.2,534.3 L1783.3,532.6 L1784.4,530.9 L1785.4,529.2 L1786.4,527.5 L1787.5,525.7 L1788.5,524.0 L1789.5,522.2 L1790.5,520.5 L1791.5,518.7 L1792.4,516.9 L1793.4,515.1 L1794.4,513.3 L1795.3,511.5 L1796.3,509.7 L1797.2,507.9 L1798.1,506.1 L1799.0,504.3 L1799.9,502.5 L1800.8,500.7 L1801.7,498.8 L1802.6,497.0 L1803.5,495.2 L1804.4,493.3 L1805.2,491.5 L1806.1,489.7 L1806.9,487.8 L1807.8,486.0 L1808.6,484.1 L1809.5,482.3 L1810.3,480.5 L1811.1,478.6 L1811.9,476.8 L1812.8,474.9 L1813.6,473.1 L1814.4,471.3 L1815.2,469.4 L1816.1,467.6 L1816.9,465.8 L1817.7,463.9 L1818.5,462.1 L1819.4,460.3 L1820.2,458.5 L1821.0,456.7 L1821.9,454.9 L1822.7,453.0 L1823.5,451.2 L1824.4,449.5 L1825.3,447.7 L1826.1,445.9 L1827.0,444.1 L1827.9,442.3 L1828.8,440.6 L1829.7,438.8 L1830.6,437.1 L1831.5,435.3 L1832.5,433.6 L1833.4,431.8 L1834.4,430.1 L1835.3,428.4 L1836.3,426.7 L1837.3,425.0 L1838.3,423.3 L1839.4,421.6 L1840.4,420.0 L1841.5,418.3 L1842.6,416.7 L1843.6,415.0 L1844.8,413.4 L1845.9,411.8 L1847.0,410.2 L1848.2,408.6 L1849.4,407.0 L1850.6,405.5 L1851.9,403.9 L1853.1,402.4 L1854.4,400.9 L1855.7,399.3 L1857.0,397.8 L1858.4,396.4 L1859.8,394.9 L1861.2,393.5 L1862.6,392.0 L1864.1,390.6 L1865.6,389.3 L1867.1,387.9 L1868.6,386.6 L1870.2,385.4 L1871.8,384.2 L1873.4,383.0 L1875.1,381.9 L1876.8,380.8 L1878.5,379.8 L1880.3,378.8 L1882.1,377.9 L1883.9,377.0 L1885.7,376.2 L1887.6,375.4 L1889.5,374.6 L1891.3,373.9 L1893.2,373.1 L1895.1,372.3 L1896.9,371.6 L1898.8,370.8 L1900.6,370.0 L1902.5,369.1 L1904.3,368.2 L1906.0,367.3 L1907.8,366.4 L1909.5,365.4 L1911.2,364.3 L1912.8,363.2 L1914.4,362.1 L1916.0,360.9 L1917.5,359.7 L1918.9,358.5 L1920.3,357.1 L1921.7,355.7 L1923.0,354.3 L1924.2,352.8 L1925.4,351.3 L1926.5,349.7 L1927.6,348.0 L1928.6,346.4 L1929.6,344.6 L1930.5,342.9 L1931.5,341.1 L1932.4,339.3 L1933.3,337.5 L1934.2,335.7 L1935.0,333.9 L1935.9,332.1 L1936.8,330.3 L1937.7,328.5 L1938.6,326.6 L1939.4,324.8 L1940.3,323.0 L1941.2,321.2 L1942.0,319.4 L1942.9,317.5 L1943.8,315.7 L1944.6,313.9 L1945.5,312.1 L1946.3,310.3 L1947.2,308.4 L1948.0,306.6 L1948.9,304.8 L1949.7,303.0 L1950.6,301.1 L1951.4,299.3 L1952.3,297.5 L1953.1,295.6 L1953.9,293.8 L1954.7,292.0 L1955.6,290.2 L1956.4,288.3 L1957.2,286.5 L1958.0,284.7 L1958.8,282.8 L1959.6,281.0 L1960.4,279.1 L1961.2,277.3 L1962.0,275.5 L1962.8,273.6 L1963.5,271.8 L1964.3,269.9 L1965.1,268.1 L1965.8,266.2 L1966.6,264.4 L1967.3,262.5 L1968.0,260.7 L1968.8,258.8 L1969.5,257.0 L1970.2,255.1 L1970.9,253.3 L1971.6,251.4 L1972.3,249.5 L1973.0,247.7 L1973.7,245.8 L1974.4,243.9 L1975.1,242.1 L1975.7,240.2 L1976.4,238.3 L1977.0,236.4 L1977.7,234.5 L1978.3,232.7 L1978.9,230.8 L1979.5,228.9 L1980.2,227.0 L1980.8,225.1 L1981.4,223.2 L1982.0,221.3 L1982.6,219.4 L1983.2,217.5 L1983.8,215.7 L1984.4,213.8 L1985.0,211.9 L1985.6,210.0 L1986.2,208.1 L1986.8,206.2 L1987.4,204.3 L1988.0,202.4 L1988.6,200.5 L1989.2,198.6 L1989.9,196.7 L1990.5,194.8 L1991.1,192.9 L1991.8,191.0 L1992.4,189.1 L1993.1,187.2 L1993.7,185.3 L1994.4,183.4 L1995.1,181.6 L1995.8,179.7 L1996.5,177.8 L1997.3,175.9 L1998.0,174.0 L1998.7,172.1 L1999.5,170.3 L2000.3,168.4 L2001.1,166.5 L2001.9,164.7 L2002.7,162.8 L2003.6,160.9 L2004.4,159.1 L2005.3,157.2 L2006.2,155.4 L2007.1,153.5 L2008.1,151.7 L2009.0,149.8 L2010.0,148.0 L2011.0,146.1 L2012.0,144.3 L2013.1,142.5 L2014.2,140.7 L2015.3,138.8 L2016.4,137.0 L2017.6,135.2 L2018.7,133.4 L2019.9,131.7 L2021.2,130.0 L2022.4,128.4 L2023.7,126.8 L2025.0,125.4 L2026.3,124.1 L2027.6,122.9 L2029.0,121.8 L2030.3,121.0 L2031.7,120.3 L2033.1,119.8 L2034.5,119.6 L2036.0,119.5 L2037.4,119.7 L2038.8,120.1 L2040.3,120.7 L2041.7,121.4 L2043.1,122.3 L2044.4,123.4 L2045.8,124.5 L2047.1,125.8 L2048.3,127.2 L2049.5,128.6 L2050.7,130.1 L2051.8,131.6 L2052.8,133.2 L2053.8,134.8 L2054.7,136.4 L2055.5,138.1 L2056.3,139.8 L2057.1,141.6 L2057.8,143.4 L2058.5,145.2 L2059.1,147.0 L2059.7,148.9 L2060.2,150.7 L2060.7,152.6 L2061.2,154.6 L2061.6,156.5 L2062.1,158.5 L2062.4,160.4 L2062.8,162.4 L2063.2,164.4 L2063.5,166.4 L2063.8,168.4 L2064.2,170.5 L2064.5,172.5 L2064.8,174.5 L2065.0,176.6 L2065.3,178.6 L2065.6,180.6 L2065.9,182.7 L2066.2,184.7 L2066.5,186.7 L2066.8,188.8 L2067.1,190.8 L2067.4,192.8 L2067.7,194.8 L2067.9,196.8 L2068.2,198.9 L2068.5,200.9 L2068.8,202.9 L2069.1,204.9 L2069.4,206.9 L2069.7,208.9 L2070.0,210.9 L2070.3,213.0 L2070.6,215.0 L2070.9,217.0 L2071.2,219.0 L2071.5,221.0 L2071.8,223.0 L2072.1,225.0 L2072.4,227.0 L2072.7,229.0 L2072.9,231.0 L2073.2,233.0 L2073.5,235.0 L2073.8,237.0 L2074.1,239.0 L2074.4,241.0 L2074.7,243.0 L2075.0,245.0 L2075.3,246.9 L2075.6,248.9 L2075.9,250.9 L2076.2,252.9 L2076.5,254.9 L2076.8,256.9 L2077.1,258.9 L2077.4,260.9 L2077.7,262.8 L2078.0,264.8 L2078.3,266.8 L2078.6,268.8 L2078.9,270.8 L2079.2,272.7 L2079.5,274.7 L2079.8,276.7 L2080.1,278.7 L2080.4,280.7 L2080.7,282.6 L2081.0,284.6 L2081.3,286.6 L2081.6,288.6 L2081.9,290.5 L2082.2,292.5 L2082.5,294.5 L2082.8,296.4 L2083.1,298.4 L2083.4,300.4 L2083.7,302.4 L2084.0,304.3 L2084.3,306.3 L2084.6,308.3 L2084.9,310.2 L2085.2,312.2 L2085.5,314.2 L2085.8,316.1 L2086.1,318.1 L2086.4,320.1 L2086.7,322.0 L2087.0,324.0 L2087.3,326.0 L2087.6,327.9 L2087.9,329.9 L2088.2,331.9 L2088.5,333.8 L2088.8,335.8 L2089.1,337.8 L2089.4,339.7 L2089.7,341.7 L2090.0,343.7 L2090.3,345.6 L2090.6,347.6 L2090.9,349.6 L2091.2,351.5 L2091.5,353.5 L2091.8,355.5 L2092.1,357.4 L2092.4,359.4 L2092.7,361.4 L2093.0,363.3 L2093.3,365.3 L2093.6,367.3 L2093.9,369.2 L2094.2,371.2 L2094.5,373.2 L2094.8,375.1 L2095.1,377.1 L2095.4,379.1 L2095.7,381.0 L2096.0,383.0 L2096.3,385.0 L2096.6,386.9 L2096.9,388.9 L2097.2,390.9 L2097.5,392.8 L2097.7,394.8 L2098.0,396.8 L2098.3,398.7 L2098.6,400.7 L2098.9,402.7 L2099.2,404.7 L2099.5,406.6 L2099.8,408.6 L2100.1,410.6 L2100.4,412.5 L2100.7,414.5 L2101.0,416.5 L2101.3,418.5 L2101.6,420.4 L2101.9,422.4 L2102.2,424.4 L2102.6,426.3 L2102.9,428.3 L2103.2,430.3 L2103.5,432.3 L2103.8,434.2 L2104.1,436.2 L2104.4,438.2 L2104.8,440.1 L2105.1,442.1 L2105.4,444.1 L2105.7,446.1 L2106.1,448.0 L2106.4,450.0 L2106.7,452.0 L2107.0,453.9 L2107.4,455.9 L2107.7,457.9 L2108.1,459.8 L2108.4,461.8 L2108.8,463.8 L2109.1,465.8 L2109.5,467.7 L2109.8,469.7 L2110.2,471.7 L2110.5,473.6 L2110.9,475.6 L2111.3,477.6 L2111.6,479.5 L2112.0,481.5 L2112.4,483.4 L2112.8,485.4 L2113.2,487.4 L2113.6,489.3 L2114.0,491.3 L2114.4,493.3 L2114.8,495.2 L2115.2,497.2 L2115.6,499.1 L2116.0,501.1 L2116.4,503.1 L2116.8,505.0 L2117.3,507.0 L2117.7,508.9 L2118.1,510.9 L2118.6,512.9 L2119.0,514.8 L2119.5,516.8 L2119.9,518.7 L2120.4,520.7 L2120.9,522.6 L2121.3,524.6 L2121.8,526.5 L2122.3,528.5 L2122.8,530.4 L2123.3,532.4 L2123.8,534.3 L2124.3,536.3 L2124.8,538.2 L2125.3,540.1 L2125.8,542.1 L2126.3,544.0 L2126.9,546.0 L2127.4,547.9 L2128.0,549.9 L2128.5,551.8 L2129.1,553.7 L2129.6,555.7 L2130.2,557.6 L2130.8,559.5 L2131.4,561.5 L2132.0,563.4 L2132.6,565.3 L2133.2,567.2 L2133.8,569.2 L2134.4,571.1 L2135.0,573.0 L2135.7,575.0 L2136.3,576.9 L2136.9,578.8 L2137.6,580.7 L2138.3,582.6 L2138.9,584.6 L2139.6,586.5 L2140.3,588.4 L2141.0,590.3 L2141.7,592.2 L2142.4,594.1 L2143.1,596.0 L2143.9,597.9 L2144.6,599.8 L2145.4,601.6 L2146.2,603.5 L2147.0,605.3 L2147.8,607.2 L2148.7,609.0 L2149.6,610.7 L2150.5,612.5 L2151.4,614.2 L2152.3,616.0 L2153.3,617.6 L2154.4,619.3 L2155.4,620.9 L2156.5,622.5 L2157.6,624.1 L2158.8,625.6 L2160.0,627.1 L2161.2,628.5 L2162.5,629.9 L2163.8,631.3 L2165.2,632.6 L2166.6,633.9 L2168.1,635.1 L2169.6,636.3 L2171.1,637.4 L2172.7,638.5 L2174.3,639.6 L2175.9,640.6 L2177.6,641.5 L2179.4,642.5 L2181.1,643.4 L2182.9,644.2 L2184.7,645.0 L2186.5,645.8 L2188.4,646.5 L2190.2,647.3 L2192.1,647.9 L2194.0,648.6 L2196.0,649.2 L2197.9,649.7 L2199.9,650.3 L2201.8,650.8 L2203.8,651.3 L2205.8,651.7 L2207.8,652.2 L2209.8,652.6 L2211.8,652.9 L2213.8,653.3 L2215.8,653.6 L2217.8,653.9 L2219.8,654.2 L2221.8,654.5 L2223.8,654.7 L2225.8,654.9 L2227.7,655.1 L2229.7,655.3 L2231.7,655.5 L2233.7,655.7 L2235.7,655.9 L2237.7,656.0 L2239.7,656.2 L2241.7,656.3 L2243.7,656.5 L2245.7,656.6 L2247.7,656.7 L2249.7,656.9 L2251.7,657.0 L2253.7,657.1 L2255.7,657.3 L2257.7,657.5 L2259.7,657.6 L2261.6,657.8 L2263.6,658.0 L2265.6,658.2 L2267.6,658.4 L2269.6,658.6 L2271.6,658.8 L2273.6,659.0 L2275.5,659.3 L2277.5,659.5 L2279.5,659.7 L2281.5,660.0 L2283.5,660.2 L2285.5,660.4 L2287.4,660.7 L2289.4,660.9 L2291.4,661.1 L2293.4,661.3 L2295.4,661.5 L2297.4,661.7 L2299.4,661.9 L2301.4,662.1 L2303.4,662.2 L2305.4,662.3 L2307.4,662.4 L2309.4,662.5 L2311.4,662.6 L2313.4,662.6 L2318.4,662.6" stroke="#000000"/>
<path d="M1341.0,639.8 L1346.0,639.4 L1348.0,639.1 L1350.0,638.9 L1352.0,638.7 L1354.0,638.6 L1356.0,638.6 L1358.0,638.6 L1360.0,638.7 L1362.0,638.8 L1364.0,638.9 L1365.9,639.1 L1367.9,639.3 L1369.9,639.5 L1371.8,639.7 L1373.8,640.0 L1375.8,640.2 L1377.8,640.5 L1379.7,640.7 L1381.7,641.0 L1383.7,641.2 L1385.6,641.4 L1387.6,641.5 L1389.6,641.7 L1391.6,641.7 L1393.6,641.8 L1395.5,641.8 L1397.5,641.7 L1399.5,641.7 L1401.5,641.6 L1403.5,641.4 L1405.5,641.3 L1407.5,641.1 L1409.5,640.8 L1411.5,640.6 L1413.5,640.4 L1415.5,640.1 L1417.5,639.8 L1419.5,639.5 L1421.5,639.2 L1423.5,638.9 L1425.5,638.6 L1427.5,638.4 L1429.5,638.1 L1431.5,637.8 L1433.5,637.5 L1435.5,637.3 L1437.5,637.0 L1439.5,636.8 L1441.5,636.6 L1443.5,636.5 L1445.5,636.3 L1447.5,636.2 L1449.5,636.1 L1451.5,636.0 L1453.5,635.9 L1455.5,635.8 L1457.5,635.8 L1459.5,635.8 L1461.5,635.8 L1463.4,635.8 L1465.4,635.8 L1467.4,635.8 L1469.4,635.9 L1471.4,635.9 L1473.4,636.0 L1475.4,636.1 L1477.3,636.2 L1479.3,636.3 L1481.3,636.4 L1483.3,636.5 L1485.3,636.7 L1487.3,636.8 L1489.2,636.9 L1491.2,637.1 L1493.2,637.2 L1495.2,637.4 L1497.2,637.6 L1499.2,637.7 L1501.1,637.9 L1503.1,638.1 L1505.1,638.2 L1507.1,638.4 L1509.1,638.6 L1511.1,638.7 L1513.1,638.9 L1515.0,639.1 L1517.0,639.2 L1519.0,639.4 L1521.0,639.5 L1523.0,639.7 L1525.0,639.8 L1527.0,639.9 L1529.0,640.1 L1531.0,640.2 L1533.0,640.3 L1535.0,640.4 L1537.0,640.5 L1539.0,640.6 L1541.0,640.7 L1543.0,640.7 L1545.0,640.8 L1547.0,640.8 L1549.0,640.9 L1551.0,640.9 L1553.0,640.9 L1555.0,640.9 L1557.0,640.9 L1559.0,640.9 L1561.0,640.9 L1563.0,640.8 L1565.0,640.8 L1567.0,640.7 L1569.0,640.6 L1571.0,640.6 L1573.0,640.5 L1575.1,640.4 L1577.1,640.3 L1579.1,640.2 L1581.1,640.0 L1583.1,639.9 L1585.1,639.7 L1587.1,639.6 L1589.1,639.4 L1591.1,639.2 L1593.1,639.0 L1595.1,638.8 L1597.1,638.6 L1599.1,638.4 L1601.1,638.2 L1603.0,637.9 L1605.0,637.6 L1607.0,637.4 L1609.0,637.1 L1611.0,636.8 L1613.0,636.5 L1615.0,636.2 L1616.9,635.9 L1618.9,635.5 L1620.9,635.2 L1622.9,634.8 L1624.8,634.4 L1626.8,634.1 L1628.8,633.7 L1630.7,633.3 L1632.7,632.8 L1634.6,632.4 L1636.6,632.0 L1638.5,631.5 L1640.5,631.0 L1642.4,630.6 L1644.4,630.1 L1646.3,629.6 L1648.2,629.1 L1650.2,628.5 L1652.1,628.0 L1654.0,627.5 L1655.9,626.9 L1657.8,626.3 L1659.8,625.7 L1661.7,625.1 L1663.6,624.5 L1665.5,623.9 L1667.4,623.3 L1669.2,622.6 L1671.1,622.0 L1673.0,621.3 L1674.9,620.6 L1676.8,619.9 L1678.6,619.2 L1680.5,618.5 L1682.3,617.7 L1684.2,617.0 L1686.0,616.2 L1687.9,615.5 L1689.7,614.7 L1691.5,613.9 L1693.4,613.1 L1695.2,612.2 L1697.0,611.4 L1698.8,610.6 L1700.6,609.7 L1702.4,608.8 L1704.2,607.9 L1706.0,607.0 L1707.7,606.1 L1709.5,605.2 L1711.3,604.2 L1713.0,603.3 L1714.8,602.3 L1716.5,601.3 L1718.3,600.3 L1720.0,599.3 L1721.7,598.3 L1723.4,597.2 L1725.1,596.2 L1726.8,595.1 L1728.5,594.0 L1730.2,592.9 L1731.9,591.8 L1733.6,590.7 L1735.2,589.6 L1736.9,588.4 L1738.5,587.3 L1740.1,586.1 L1741.8,584.9 L1743.4,583.7 L1745.0,582.5 L1746.6,581.3 L1748.2,580.1 L1749.7,578.8 L1751.3,577.6 L1752.8,576.3 L1754.4,575.0 L1755.9,573.7 L1757.4,572.4 L1758.9,571.1 L1760.4,569.7 L1761.9,568.4 L1763.3,567.0 L1764.8,565.6 L1766.2,564.3 L1767.7,562.9 L1769.1,561.4 L1770.5,560.0 L1771.9,558.6 L1773.2,557.1 L1774.6,555.7 L1775.9,554.2 L1777.2,552.7 L1778.6,551.2 L1779.9,549.7 L1781.1,548.2 L1782.4,546.7 L1783.7,545.1 L1784.9,543.6 L1786.1,542.0 L1787.3,540.4 L1788.5,538.8 L1789.7,537.2 L1790.8,535.6 L1792.0,534.0 L1793.1,532.3 L1794.2,530.7 L1795.3,529.0 L1796.4,527.4 L1797.5,525.7 L1798.5,524.0 L1799.6,522.3 L1800.6,520.6 L1801.6,518.9 L1802.7,517.2 L1803.7,515.5 L1804.7,513.8 L1805.7,512.0 L1806.7,510.3 L1807.6,508.6 L1808.6,506.8 L1809.6,505.1 L1810.6,503.3 L1811.5,501.5 L1812.5,499.8 L1813.5,498.0 L1814.4,496.2 L1815.4,494.5 L1816.4,492.7 L1817.3,490.9 L1818.3,489.2 L1819.2,487.4 L1820.2,485.6 L1821.2,483.8 L1822.1,482.1 L1823.1,480.3 L1824.1,478.5 L1825.1,476.8 L1826.1,475.0 L1827.1,473.2 L1828.1,471.5 L1829.1,469.7 L1830.1,467.9 L1831.1,466.2 L1832.2,464.4 L1833.2,462.7 L1834.3,461.0 L1835.3,459.2 L1836.4,457.5 L1837.5,455.8 L1838.6,454.1 L1839.8,452.4 L1840.9,450.7 L1842.1,449.1 L1843.3,447.4 L1844.5,445.8 L1845.7,444.2 L1846.9,442.7 L1848.2,441.1 L1849.5,439.6 L1850.8,438.1 L1852.2,436.7 L1853.5,435.3 L1854.9,433.9 L1856.4,432.6 L1857.8,431.4 L1859.3,430.1 L1860.9,429.0 L1862.5,427.8 L1864.1,426.7 L1865.7,425.7 L1867.4,424.8 L1869.1,423.9 L1870.9,423.0 L1872.7,422.2 L1874.5,421.4 L1876.3,420.7 L1878.2,420.0 L1880.1,419.3 L1881.9,418.7 L1883.8,418.0 L1885.8,417.4 L1887.7,416.8 L1889.6,416.2 L1891.5,415.6 L1893.4,414.9 L1895.3,414.3 L1897.2,413.6 L1899.0,412.9 L1900.9,412.2 L1902.7,411.5 L1904.5,410.7 L1906.2,409.8 L1907.9,408.9 L1909.6,408.0 L1911.3,407.0 L1912.9,405.9 L1914.4,404.8 L1915.9,403.6 L1917.4,402.4 L1918.9,401.1 L1920.3,399.8 L1921.6,398.4 L1923.0,397.0 L1924.3,395.5 L1925.6,394.0 L1926.8,392.5 L1928.1,390.9 L1929.3,389.3 L1930.4,387.7 L1931.6,386.0 L1932.7,384.3 L1933.9,382.6 L1935.0,380.9 L1936.1,379.2 L1937.2,377.4 L1938.2,375.7 L1939.3,373.9 L1940.3,372.2 L1941.4,370.4 L1942.4,368.7 L1943.5,366.9 L1944.5,365.1 L1945.5,363.4 L1946.6,361.6 L1947.6,359.9 L1948.6,358.1 L1949.6,356.4 L1950.6,354.6 L1951.6,352.9 L1952.6,351.1 L1953.6,349.3 L1954.5,347.6 L1955.5,345.8 L1956.5,344.1 L1957.5,342.3 L1958.4,340.6 L1959.4,338.8 L1960.3,337.1 L1961.3,335.3 L1962.2,333.5 L1963.1,331.8 L1964.1,330.0 L1965.0,328.3 L1965.9,326.5 L1966.8,324.8 L1967.7,323.0 L1968.7,321.3 L1969.6,319.5 L1970.5,317.8 L1971.4,316.0 L1972.2,314.2 L1973.1,312.5 L1974.0,310.7 L1974.9,309.0 L1975.8,307.2 L1976.7,305.4 L1977.6,303.7 L1978.4,301.9 L1979.3,300.1 L1980.2,298.4 L1981.1,296.6 L1982.0,294.8 L1982.8,293.0 L1983.7,291.2 L1984.6,289.5 L1985.5,287.7 L1986.3,285.9 L1987.2,284.1 L1988.1,282.3 L1989.0,280.5 L1989.9,278.7 L1990.7,276.9 L1991.6,275.1 L1992.5,273.3 L1993.4,271.5 L1994.3,269.7 L1995.2,267.9 L1996.1,266.1 L1997.0,264.3 L1997.9,262.4 L1998.8,260.6 L1999.7,258.8 L2000.6,256.9 L2001.5,255.1 L2002.4,253.2 L2003.4,251.4 L2004.3,249.5 L2005.2,247.7 L2006.2,245.8 L2007.1,244.0 L2008.1,242.1 L2009.0,240.2 L2010.0,238.4 L2011.0,236.6 L2012.1,234.7 L2013.1,233.0 L2014.2,231.2 L2015.4,229.5 L2016.5,227.8 L2017.7,226.1 L2019.0,224.5 L2020.3,222.9 L2021.6,221.5 L2023.0,220.1 L2024.4,218.8 L2025.9,217.6 L2027.4,216.6 L2028.9,215.7 L2030.4,215.0 L2032.0,214.5 L2033.6,214.1 L2035.2,214.0 L2036.8,214.0 L2038.3,214.3 L2039.9,214.7 L2041.4,215.3 L2042.9,216.1 L2044.4,217.0 L2045.8,218.0 L2047.2,219.2 L2048.5,220.5 L2049.8,221.9 L2050.9,223.4 L2052.0,225.0 L2053.1,226.6 L2054.0,228.3 L2054.9,230.1 L2055.7,231.9 L2056.5,233.7 L2057.1,235.6 L2057.8,237.5 L2058.4,239.5 L2059.0,241.4 L2059.5,243.4 L2060.1,245.4 L2060.6,247.4 L2061.1,249.4 L2061.6,251.4 L2062.1,253.4 L2062.6,255.4 L2063.1,257.4 L2063.5,259.4 L2064.0,261.4 L2064.5,263.4 L2065.0,265.3 L2065.4,267.3 L2065.9,269.3 L2066.3,271.3 L2066.8,273.3 L2067.3,275.3 L2067.7,277.3 L2068.1,279.2 L2068.6,281.2 L2069.0,283.2 L2069.4,285.2 L2069.9,287.2 L2070.3,289.1 L2070.7,291.1 L2071.1,293.1 L2071.5,295.1 L2071.9,297.0 L2072.3,299.0 L2072.7,301.0 L2073.1,303.0 L2073.5,304.9 L2073.9,306.9 L2074.3,308.9 L2074.7,310.9 L2075.1,312.8 L2075.5,314.8 L2075.9,316.8 L2076.2,318.7 L2076.6,320.7 L2077.0,322.7 L2077.3,324.6 L2077.7,326.6 L2078.1,328.6 L2078.4,330.5 L2078.8,332.5 L2079.1,334.5 L2079.5,336.4 L2079.9,338.4 L2080.2,340.4 L2080.6,342.3 L2080.9,344.3 L2081.2,346.3 L2081.6,348.2 L2081.9,350.2 L2082.3,352.2 L2082.6,354.1 L2082.9,356.1 L2083.3,358.0 L2083.6,360.0 L2083.9,362.0 L2084.3,363.9 L2084.6,365.9 L2084.9,367.9 L2085.3,369.8 L2085.6,371.8 L2085.9,373.7 L2086.2,375.7 L2086.6,377.7 L2086.9,379.6 L2087.2,381.6 L2087.5,383.6 L2087.8,385.5 L2088.2,387.5 L2088.5,389.5 L2088.8,391.4 L2089.1,393.4 L2089.4,395.3 L2089.8,397.3 L2090.1,399.3 L2090.4,401.2 L2090.7,403.2 L2091.0,405.2 L2091.4,407.1 L2091.7,409.1 L2092.0,411.1 L2092.3,413.1 L2092.6,415.0 L2093.0,417.0 L2093.3,419.0 L2093.6,420.9 L2093.9,422.9 L2094.2,424.9 L2094.6,426.9 L2094.9,428.8 L2095.2,430.8 L2095.5,432.8 L2095.9,434.7 L2096.2,436.7 L2096.5,438.7 L2096.9,440.7 L2097.2,442.7 L2097.5,444.6 L2097.9,446.6 L2098.2,448.6 L2098.5,450.6 L2098.9,452.6 L2099.2,454.5 L2099.6,456.5 L2099.9,458.5 L2100.3,460.5 L2100.6,462.4 L2101.0,464.4 L2101.3,466.4 L2101.7,468.4 L2102.1,470.4 L2102.4,472.3 L2102.8,474.3 L2103.2,476.3 L2103.6,478.3 L2104.0,480.2 L2104.3,482.2 L2104.7,484.2 L2105.1,486.2 L2105.5,488.1 L2105.9,490.1 L2106.3,492.1 L2106.8,494.0 L2107.2,496.0 L2107.6,498.0 L2108.0,499.9 L2108.5,501.9 L2108.9,503.9 L2109.4,505.8 L2109.8,507.8 L2110.3,509.7 L2110.7,511.7 L2111.2,513.6 L2111.7,515.6 L2112.2,517.5 L2112.6,519.5 L2113.1,521.4 L2113.6,523.4 L2114.1,525.3 L2114.7,527.2 L2115.2,529.2 L2115.7,531.1 L2116.2,533.0 L2116.8,535.0 L2117.3,536.9 L2117.9,538.8 L2118.5,540.7 L2119.0,542.7 L2119.6,544.6 L2120.2,546.5 L2120.8,548.4 L2121.4,550.3 L2122.0,552.2 L2122.7,554.1 L2123.3,556.0 L2123.9,557.9 L2124.6,559.8 L2125.2,561.7 L2125.9,563.6 L2126.6,565.4 L2127.3,567.3 L2128.0,569.2 L2128.7,571.1 L2129.4,572.9 L2130.1,574.8 L2130.9,576.6 L2131.6,578.5 L2132.4,580.3 L2133.1,582.2 L2133.9,584.0 L2134.7,585.9 L2135.5,587.7 L2136.3,589.5 L2137.1,591.4 L2138.0,593.2 L2138.8,595.0 L2139.7,596.8 L2140.5,598.6 L2141.4,600.4 L2142.3,602.2 L2143.2,604.0 L2144.1,605.8 L2145.1,607.6 L2146.0,609.3 L2147.0,611.1 L2147.9,612.9 L2148.9,614.6 L2149.9,616.4 L2150.9,618.1 L2151.9,619.9 L2153.0,621.6 L2154.0,623.3 L2155.1,625.0 L2156.2,626.6 L2157.3,628.3 L2158.5,629.9 L2159.7,631.5 L2160.9,633.1 L2162.1,634.6 L2163.4,636.1 L2164.7,637.6 L2166.0,639.0 L2167.3,640.4 L2168.7,641.7 L2170.1,643.1 L2171.6,644.3 L2173.1,645.5 L2174.6,646.7 L2176.2,647.8 L2177.8,648.9 L2179.5,649.9 L2181.2,650.8 L2183.0,651.7 L2184.7,652.6 L2186.6,653.4 L2188.4,654.1 L2190.3,654.8 L2192.2,655.5 L2194.1,656.1 L2196.1,656.7 L2198.1,657.3 L2200.0,657.8 L2202.1,658.2 L2204.1,658.7 L2206.1,659.1 L2208.2,659.5 L2210.2,659.8 L2212.3,660.2 L2214.4,660.5 L2216.4,660.8 L2218.5,661.0 L2220.6,661.3 L2222.6,661.5 L2224.7,661.7 L2226.7,662.0 L2228.8,662.2 L2230.8,662.3 L2232.8,662.5 L2234.8,662.7 L2236.8,662.8 L2238.8,663.0 L2240.8,663.1 L2242.8,663.3 L2244.8,663.4 L2246.8,663.5 L2248.7,663.6 L2250.7,663.7 L2252.7,663.8 L2254.6,663.9 L2256.6,664.0 L2258.5,664.0 L2260.5,664.1 L2262.5,664.2 L2264.4,664.2 L2266.4,664.3 L2268.3,664.3 L2270.3,664.4 L2272.2,664.4 L2274.2,664.5 L2276.2,664.5 L2278.1,664.6 L2280.1,664.6 L2282.1,664.7 L2284.1,664.7 L2286.1,664.7 L2288.0,664.8 L2290.0,664.8 L2292.1,664.8 L2294.1,664.9 L2296.1,664.9 L2298.1,665.0 L2300.2,665.0 L2302.2,665.1 L2304.3,665.1 L2306.3,665.2 L2308.4,665.3 L2310.5,665.3 L2312.6,665.4 L2314.7,665.5 L2319.8,665.6" stroke="#ff0000"/>
<path d="M1340.8,660.0 L1345.8,660.1 L1347.8,660.2 L1349.9,660.3 L1351.9,660.3 L1353.9,660.4 L1355.9,660.5 L1358.0,660.5 L1360.0,660.5 L1362.0,660.6 L1364.0,660.6 L1366.0,660.6 L1368.0,660.6 L1370.0,660.6 L1372.0,660.5 L1374.0,660.5 L1376.0,660.5 L1378.0,660.4 L1380.1,660.4 L1382.1,660.3 L1384.1,660.2 L1386.0,660.2 L1388.0,660.1 L1390.0,660.0 L1392.0,659.9 L1394.0,659.8 L1396.0,659.6 L1398.0,659.5 L1400.0,659.4 L1402.0,659.3 L1404.0,659.1 L1406.0,659.0 L1408.0,658.8 L1409.9,658.7 L1411.9,658.5 L1413.9,658.3 L1415.9,658.2 L1417.9,658.0 L1419.9,657.8 L1421.8,657.6 L1423.8,657.4 L1425.8,657.2 L1427.8,657.0 L1429.8,656.8 L1431.8,656.6 L1433.7,656.4 L1435.7,656.2 L1437.7,656.0 L1439.7,655.8 L1441.6,655.6 L1443.6,655.3 L1445.6,655.1 L1447.6,654.9 L1449.6,654.7 L1451.5,654.4 L1453.5,654.2 L1455.5,654.0 L1457.5,653.7 L1459.4,653.5 L1461.4,653.3 L1463.4,653.0 L1465.4,652.8 L1467.4,652.6 L1469.3,652.3 L1471.3,652.1 L1473.3,651.9 L1475.3,651.6 L1477.2,651.4 L1479.2,651.2 L1481.2,651.0 L1483.2,650.7 L1485.2,650.5 L1487.1,650.3 L1489.1,650.1 L1491.1,649.8 L1493.1,649.6 L1495.1,649.4 L1497.1,649.2 L1499.0,649.0 L1501.0,648.8 L1503.0,648.6 L1505.0,648.4 L1507.0,648.2 L1509.0,648.0 L1511.0,647.8 L1513.0,647.7 L1515.0,647.5 L1516.9,647.3 L1518.9,647.1 L1520.9,647.0 L1522.9,646.8 L1524.9,646.7 L1526.9,646.5 L1528.9,646.4 L1530.9,646.2 L1532.9,646.1 L1534.9,646.0 L1536.9,645.8 L1538.9,645.7 L1540.9,645.6 L1542.9,645.4 L1544.9,645.3 L1546.9,645.2 L1548.9,645.0 L1550.9,644.9 L1552.9,644.8 L1554.9,644.7 L1556.9,644.5 L1558.9,644.4 L1560.9,644.3 L1562.9,644.2 L1564.9,644.0 L1566.9,643.9 L1568.9,643.8 L1570.9,643.7 L1572.9,643.5 L1574.9,643.4 L1576.9,643.2 L1578.9,643.1 L1580.9,643.0 L1582.9,642.8 L1584.9,642.7 L1586.9,642.5 L1588.9,642.4 L1590.9,642.2 L1592.9,642.0 L1594.9,641.9 L1596.9,641.7 L1598.9,641.5 L1600.9,641.3 L1602.8,641.1 L1604.8,640.9 L1606.8,640.7 L1608.8,640.5 L1610.8,640.3 L1612.7,640.1 L1614.7,639.8 L1616.7,639.6 L1618.7,639.3 L1620.6,639.1 L1622.6,638.8 L1624.6,638.6 L1626.5,638.3 L1628.5,638.0 L1630.5,637.7 L1632.4,637.4 L1634.4,637.1 L1636.3,636.8 L1638.3,636.4 L1640.2,636.1 L1642.2,635.7 L1644.1,635.4 L1646.1,635.0 L1648.0,634.6 L1650.0,634.2 L1651.9,633.8 L1653.8,633.4 L1655.7,632.9 L1657.7,632.5 L1659.6,632.0 L1661.5,631.5 L1663.4,631.1 L1665.4,630.6 L1667.3,630.0 L1669.2,629.5 L1671.1,629.0 L1673.0,628.4 L1674.9,627.8 L1676.8,627.3 L1678.7,626.7 L1680.5,626.0 L1682.4,625.4 L1684.3,624.8 L1686.2,624.1 L1688.1,623.4 L1689.9,622.7 L1691.8,622.0 L1693.7,621.3 L1695.5,620.5 L1697.4,619.8 L1699.2,619.0 L1701.1,618.2 L1702.9,617.4 L1704.7,616.6 L1706.5,615.8 L1708.4,614.9 L1710.2,614.1 L1712.0,613.2 L1713.8,612.3 L1715.6,611.4 L1717.4,610.5 L1719.1,609.5 L1720.9,608.6 L1722.7,607.6 L1724.4,606.6 L1726.2,605.6 L1727.9,604.6 L1729.7,603.6 L1731.4,602.6 L1733.1,601.5 L1734.8,600.5 L1736.5,599.4 L1738.2,598.3 L1739.9,597.2 L1741.6,596.1 L1743.3,595.0 L1744.9,593.9 L1746.6,592.7 L1748.2,591.5 L1749.8,590.4 L1751.5,589.2 L1753.1,588.0 L1754.7,586.8 L1756.2,585.6 L1757.8,584.3 L1759.4,583.1 L1760.9,581.8 L1762.5,580.6 L1764.0,579.3 L1765.5,578.0 L1767.0,576.7 L1768.5,575.4 L1770.0,574.0 L1771.5,572.7 L1773.0,571.4 L1774.4,570.0 L1775.9,568.7 L1777.3,567.3 L1778.7,565.9 L1780.2,564.5 L1781.6,563.1 L1783.0,561.7 L1784.4,560.3 L1785.8,558.9 L1787.2,557.5 L1788.6,556.1 L1790.0,554.7 L1791.3,553.2 L1792.7,551.8 L1794.1,550.3 L1795.4,548.9 L1796.8,547.4 L1798.1,546.0 L1799.5,544.5 L1800.8,543.0 L1802.2,541.6 L1803.5,540.1 L1804.9,538.6 L1806.2,537.1 L1807.5,535.7 L1808.9,534.2 L1810.2,532.7 L1811.5,531.2 L1812.9,529.7 L1814.2,528.2 L1815.5,526.7 L1816.9,525.3 L1818.2,523.8 L1819.5,522.3 L1820.9,520.8 L1822.2,519.3 L1823.5,517.8 L1824.9,516.4 L1826.2,514.9 L1827.6,513.4 L1828.9,512.0 L1830.3,510.5 L1831.7,509.0 L1833.0,507.6 L1834.4,506.2 L1835.8,504.7 L1837.2,503.3 L1838.6,501.9 L1840.0,500.5 L1841.4,499.1 L1842.8,497.7 L1844.2,496.3 L1845.7,495.0 L1847.1,493.6 L1848.6,492.3 L1850.0,491.0 L1851.5,489.7 L1853.0,488.4 L1854.5,487.1 L1856.0,485.8 L1857.5,484.6 L1859.1,483.4 L1860.6,482.2 L1862.2,481.0 L1863.8,479.8 L1865.4,478.7 L1867.0,477.5 L1868.6,476.4 L1870.3,475.3 L1871.9,474.3 L1873.6,473.2 L1875.3,472.2 L1877.0,471.2 L1878.8,470.3 L1880.5,469.3 L1882.3,468.4 L1884.1,467.5 L1885.9,466.7 L1887.7,465.8 L1889.6,465.0 L1891.4,464.2 L1893.3,463.5 L1895.2,462.7 L1897.1,462.0 L1899.0,461.3 L1900.9,460.5 L1902.8,459.8 L1904.7,459.0 L1906.6,458.3 L1908.4,457.5 L1910.3,456.7 L1912.1,455.9 L1913.9,455.1 L1915.7,454.2 L1917.5,453.3 L1919.2,452.3 L1920.9,451.3 L1922.5,450.3 L1924.1,449.2 L1925.7,448.0 L1927.2,446.8 L1928.6,445.5 L1930.0,444.2 L1931.4,442.8 L1932.7,441.4 L1934.0,439.9 L1935.3,438.3 L1936.5,436.8 L1937.7,435.2 L1938.9,433.5 L1940.0,431.8 L1941.1,430.1 L1942.2,428.4 L1943.3,426.7 L1944.3,424.9 L1945.4,423.1 L1946.4,421.4 L1947.4,419.6 L1948.5,417.8 L1949.5,416.0 L1950.5,414.2 L1951.5,412.4 L1952.5,410.7 L1953.6,408.9 L1954.6,407.1 L1955.6,405.4 L1956.6,403.6 L1957.7,401.9 L1958.7,400.2 L1959.7,398.4 L1960.7,396.7 L1961.8,395.0 L1962.8,393.2 L1963.8,391.5 L1964.8,389.8 L1965.8,388.1 L1966.8,386.4 L1967.9,384.7 L1968.9,382.9 L1969.9,381.2 L1970.9,379.5 L1971.9,377.8 L1972.9,376.1 L1973.9,374.4 L1974.9,372.7 L1975.9,371.0 L1976.9,369.3 L1977.9,367.6 L1978.9,365.9 L1979.8,364.2 L1980.8,362.5 L1981.8,360.8 L1982.8,359.1 L1983.7,357.4 L1984.7,355.7 L1985.7,354.0 L1986.6,352.2 L1987.6,350.5 L1988.5,348.8 L1989.4,347.1 L1990.4,345.3 L1991.3,343.6 L1992.2,341.9 L1993.1,340.1 L1994.0,338.4 L1994.9,336.6 L1995.8,334.9 L1996.7,333.1 L1997.7,331.4 L1998.6,329.6 L1999.6,327.8 L2000.5,326.1 L2001.6,324.3 L2002.6,322.6 L2003.7,320.9 L2004.9,319.2 L2006.1,317.4 L2007.4,315.7 L2008.7,314.1 L2010.1,312.4 L2011.5,310.8 L2013.0,309.3 L2014.6,307.8 L2016.2,306.3 L2017.9,305.0 L2019.7,303.7 L2021.5,302.5 L2023.4,301.4 L2025.3,300.5 L2027.2,299.6 L2029.2,298.9 L2031.1,298.4 L2033.0,298.1 L2034.9,297.9 L2036.7,297.9 L2038.4,298.2 L2040.1,298.6 L2041.6,299.3 L2043.0,300.3 L2044.4,301.4 L2045.6,302.6 L2046.9,304.0 L2048.0,305.5 L2049.1,307.1 L2050.1,308.8 L2051.2,310.5 L2052.1,312.3 L2053.1,314.0 L2054.1,315.8 L2055.0,317.6 L2055.9,319.3 L2056.8,321.1 L2057.7,322.9 L2058.5,324.7 L2059.3,326.5 L2060.2,328.3 L2061.0,330.1 L2061.7,331.9 L2062.5,333.8 L2063.2,335.6 L2064.0,337.4 L2064.7,339.3 L2065.4,341.1 L2066.1,343.0 L2066.7,344.9 L2067.4,346.7 L2068.0,348.6 L2068.7,350.5 L2069.3,352.4 L2069.9,354.2 L2070.5,356.1 L2071.0,358.0 L2071.6,359.9 L2072.1,361.8 L2072.7,363.8 L2073.2,365.7 L2073.7,367.6 L2074.2,369.5 L2074.7,371.4 L2075.2,373.4 L2075.7,375.3 L2076.1,377.2 L2076.6,379.2 L2077.0,381.1 L2077.5,383.1 L2077.9,385.0 L2078.3,387.0 L2078.7,388.9 L2079.2,390.9 L2079.6,392.8 L2079.9,394.8 L2080.3,396.8 L2080.7,398.7 L2081.1,400.7 L2081.5,402.7 L2081.8,404.6 L2082.2,406.6 L2082.6,408.6 L2082.9,410.6 L2083.3,412.6 L2083.6,414.5 L2083.9,416.5 L2084.3,418.5 L2084.6,420.5 L2085.0,422.5 L2085.3,424.4 L2085.6,426.4 L2086.0,428.4 L2086.3,430.4 L2086.6,432.4 L2087.0,434.4 L2087.3,436.3 L2087.6,438.3 L2088.0,440.3 L2088.3,442.3 L2088.7,444.3 L2089.0,446.3 L2089.3,448.2 L2089.7,450.2 L2090.0,452.2 L2090.4,454.2 L2090.8,456.1 L2091.1,458.1 L2091.5,460.1 L2091.9,462.1 L2092.2,464.0 L2092.6,466.0 L2093.0,468.0 L2093.4,469.9 L2093.8,471.9 L2094.2,473.8 L2094.6,475.8 L2095.0,477.7 L2095.5,479.7 L2095.9,481.6 L2096.3,483.6 L2096.8,485.5 L2097.2,487.5 L2097.7,489.4 L2098.2,491.3 L2098.7,493.3 L2099.1,495.2 L2099.6,497.1 L2100.1,499.0 L2100.6,501.0 L2101.1,502.9 L2101.7,504.8 L2102.2,506.7 L2102.7,508.6 L2103.2,510.5 L2103.8,512.5 L2104.3,514.4 L2104.9,516.3 L2105.4,518.2 L2106.0,520.1 L2106.6,522.0 L2107.2,523.9 L2107.7,525.8 L2108.3,527.7 L2108.9,529.6 L2109.5,531.5 L2110.1,533.4 L2110.7,535.3 L2111.3,537.2 L2111.9,539.1 L2112.5,541.0 L2113.2,542.8 L2113.8,544.7 L2114.4,546.6 L2115.1,548.5 L2115.7,550.4 L2116.3,552.3 L2117.0,554.2 L2117.6,556.1 L2118.3,558.0 L2118.9,559.9 L2119.6,561.8 L2120.3,563.6 L2120.9,565.5 L2121.6,567.4 L2122.3,569.3 L2123.0,571.2 L2123.7,573.1 L2124.4,575.0 L2125.1,576.8 L2125.8,578.7 L2126.5,580.6 L2127.2,582.5 L2127.9,584.3 L2128.7,586.2 L2129.4,588.0 L2130.2,589.9 L2131.0,591.7 L2131.8,593.6 L2132.6,595.4 L2133.4,597.2 L2134.2,599.0 L2135.0,600.8 L2135.9,602.6 L2136.8,604.4 L2137.7,606.2 L2138.6,608.0 L2139.5,609.7 L2140.4,611.5 L2141.4,613.2 L2142.3,615.0 L2143.3,616.7 L2144.3,618.4 L2145.4,620.1 L2146.4,621.8 L2147.5,623.5 L2148.6,625.1 L2149.7,626.8 L2150.8,628.4 L2152.0,630.0 L2153.1,631.6 L2154.3,633.2 L2155.6,634.8 L2156.8,636.3 L2158.1,637.9 L2159.4,639.4 L2160.7,640.9 L2162.1,642.4 L2163.4,643.8 L2164.8,645.3 L2166.3,646.7 L2167.7,648.0 L2169.2,649.4 L2170.7,650.7 L2172.2,652.0 L2173.8,653.2 L2175.4,654.4 L2177.0,655.5 L2178.6,656.7 L2180.2,657.7 L2181.9,658.7 L2183.6,659.7 L2185.4,660.6 L2187.1,661.5 L2188.9,662.3 L2190.7,663.1 L2192.5,663.8 L2194.4,664.4 L2196.2,665.0 L2198.1,665.6 L2200.0,666.1 L2202.0,666.6 L2203.9,667.0 L2205.9,667.3 L2207.8,667.7 L2209.8,668.0 L2211.8,668.3 L2213.8,668.5 L2215.8,668.7 L2217.9,668.9 L2219.9,669.1 L2221.9,669.2 L2223.9,669.4 L2226.0,669.5 L2228.0,669.6 L2230.0,669.7 L2232.0,669.8 L2234.0,669.9 L2236.0,670.0 L2238.0,670.1 L2240.1,670.1 L2242.1,670.2 L2244.0,670.3 L2246.0,670.3 L2248.0,670.4 L2250.0,670.4 L2252.0,670.5 L2254.0,670.5 L2256.0,670.5 L2258.0,670.6 L2260.0,670.6 L2261.9,670.6 L2263.9,670.6 L2265.9,670.7 L2267.9,670.7 L2269.9,670.7 L2271.8,670.7 L2273.8,670.7 L2275.8,670.7 L2277.8,670.7 L2279.8,670.7 L2281.8,670.7 L2283.8,670.7 L2285.7,670.7 L2287.7,670.7 L2289.7,670.7 L2291.7,670.7 L2293.7,670.6 L2295.7,670.6 L2297.7,670.6 L2299.8,670.6 L2301.8,670.6 L2303.8,670.6 L2305.8,670.6 L2307.8,670.6 L2309.9,670.5 L2311.9,670.5 L2316.9,670.5" stroke="#00ff00"/>
<path d="M1341.1,648.5 L1346.0,648.4 L1348.0,648.3 L1350.0,648.1 L1352.0,648.0 L1354.0,647.9 L1356.0,647.8 L1358.0,647.8 L1360.0,647.7 L1362.0,647.6 L1364.0,647.5 L1366.0,647.4 L1368.0,647.3 L1369.9,647.3 L1371.9,647.2 L1373.9,647.1 L1375.9,647.1 L1377.9,647.0 L1379.9,647.0 L1381.9,646.9 L1383.9,646.9 L1385.9,646.8 L1387.9,646.8 L1389.9,646.7 L1391.9,646.7 L1393.9,646.6 L1395.9,646.6 L1397.9,646.6 L1399.9,646.5 L1401.9,646.5 L1403.9,646.5 L1405.9,646.5 L1407.9,646.4 L1409.9,646.4 L1411.9,646.4 L1413.8,646.4 L1415.8,646.4 L1417.8,646.3 L1419.8,646.3 L1421.8,646.3 L1423.8,646.3 L1425.8,646.3 L1427.8,646.3 L1429.8,646.3 L1431.8,646.3 L1433.8,646.3 L1435.8,646.3 L1437.8,646.3 L1439.8,646.3 L1441.8,646.3 L1443.8,646.3 L1445.8,646.3 L1447.8,646.3 L1449.8,646.3 L1451.8,646.3 L1453.8,646.3 L1455.8,646.3 L1457.8,646.3 L1459.8,646.3 L1461.8,646.3 L1463.8,646.3 L1465.8,646.3 L1467.8,646.3 L1469.8,646.3 L1471.8,646.3 L1473.8,646.3 L1475.8,646.3 L1477.8,646.3 L1479.8,646.3 L1481.8,646.3 L1483.8,646.3 L1485.8,646.3 L1487.8,646.3 L1489.8,646.3 L1491.8,646.3 L1493.8,646.3 L1495.8,646.3 L1497.8,646.3 L1499.8,646.3 L1501.8,646.3 L1503.8,646.3 L1505.8,646.3 L1507.8,646.2 L1509.8,646.2 L1511.8,646.2 L1513.8,646.2 L1515.8,646.2 L1517.8,646.2 L1519.7,646.1 L1521.7,646.1 L1523.7,646.1 L1525.7,646.0 L1527.7,646.0 L1529.7,646.0 L1531.7,645.9 L1533.7,645.9 L1535.7,645.9 L1537.7,645.8 L1539.7,645.8 L1541.7,645.7 L1543.7,645.7 L1545.7,645.6 L1547.7,645.5 L1549.7,645.5 L1551.7,645.4 L1553.7,645.4 L1555.7,645.3 L1557.7,645.2 L1559.6,645.1 L1561.6,645.0 L1563.6,645.0 L1565.6,644.9 L1567.6,644.8 L1569.6,644.7 L1571.6,644.6 L1573.6,644.5 L1575.6,644.4 L1577.6,644.3 L1579.6,644.2 L1581.5,644.0 L1583.5,643.9 L1585.5,643.8 L1587.5,643.7 L1589.5,643.5 L1591.5,643.4 L1593.5,643.2 L1595.5,643.1 L1597.5,642.9 L1599.4,642.8 L1601.4,642.6 L1603.4,642.4 L1605.4,642.3 L1607.4,642.1 L1609.4,641.9 L1611.4,641.7 L1613.3,641.5 L1615.3,641.3 L1617.3,641.1 L1619.3,640.9 L1621.3,640.7 L1623.3,640.5 L1625.2,640.2 L1627.2,640.0 L1629.2,639.8 L1631.2,639.5 L1633.2,639.3 L1635.1,639.0 L1637.1,638.8 L1639.1,638.5 L1641.1,638.2 L1643.1,637.9 L1645.0,637.7 L1647.0,637.4 L1649.0,637.1 L1651.0,636.8 L1652.9,636.4 L1654.9,636.1 L1656.9,635.8 L1658.9,635.5 L1660.8,635.1 L1662.8,634.8 L1664.8,634.4 L1666.8,634.1 L1668.7,633.7 L1670.7,633.3 L1672.7,632.9 L1674.6,632.5 L1676.6,632.1 L1678.6,631.7 L1680.5,631.3 L1682.5,630.9 L1684.4,630.4 L1686.4,630.0 L1688.3,629.5 L1690.3,629.1 L1692.2,628.6 L1694.2,628.1 L1696.1,627.6 L1698.0,627.1 L1700.0,626.5 L1701.9,626.0 L1703.8,625.4 L1705.7,624.9 L1707.6,624.3 L1709.5,623.7 L1711.4,623.1 L1713.3,622.5 L1715.2,621.8 L1717.1,621.2 L1718.9,620.5 L1720.8,619.8 L1722.7,619.1 L1724.5,618.4 L1726.3,617.7 L1728.2,616.9 L1730.0,616.2 L1731.8,615.4 L1733.6,614.6 L1735.4,613.8 L1737.2,612.9 L1739.0,612.1 L1740.8,611.2 L1742.5,610.3 L1744.3,609.4 L1746.0,608.5 L1747.8,607.6 L1749.5,606.6 L1751.2,605.6 L1752.9,604.6 L1754.6,603.6 L1756.3,602.6 L1758.0,601.5 L1759.7,600.5 L1761.3,599.4 L1763.0,598.3 L1764.6,597.2 L1766.3,596.1 L1767.9,594.9 L1769.5,593.8 L1771.1,592.6 L1772.7,591.4 L1774.3,590.2 L1775.9,589.0 L1777.5,587.8 L1779.1,586.6 L1780.6,585.3 L1782.2,584.0 L1783.7,582.8 L1785.3,581.5 L1786.8,580.2 L1788.3,578.9 L1789.8,577.5 L1791.3,576.2 L1792.8,574.9 L1794.3,573.5 L1795.8,572.2 L1797.3,570.8 L1798.7,569.4 L1800.2,568.0 L1801.6,566.6 L1803.1,565.2 L1804.5,563.7 L1805.9,562.3 L1807.4,560.9 L1808.8,559.4 L1810.2,558.0 L1811.6,556.5 L1813.0,555.1 L1814.4,553.6 L1815.8,552.2 L1817.2,550.7 L1818.6,549.2 L1820.0,547.8 L1821.4,546.3 L1822.8,544.9 L1824.2,543.4 L1825.6,542.0 L1827.0,540.6 L1828.4,539.2 L1829.9,537.8 L1831.3,536.4 L1832.7,535.0 L1834.2,533.6 L1835.6,532.3 L1837.1,530.9 L1838.6,529.6 L1840.1,528.3 L1841.6,527.1 L1843.1,525.8 L1844.6,524.6 L1846.2,523.3 L1847.7,522.1 L1849.3,521.0 L1850.9,519.8 L1852.5,518.7 L1854.1,517.6 L1855.8,516.6 L1857.5,515.6 L1859.1,514.6 L1860.9,513.6 L1862.6,512.7 L1864.3,511.8 L1866.1,510.9 L1867.9,510.1 L1869.7,509.3 L1871.6,508.5 L1873.4,507.8 L1875.3,507.0 L1877.2,506.3 L1879.1,505.7 L1881.0,505.0 L1882.9,504.3 L1884.8,503.7 L1886.7,503.0 L1888.6,502.4 L1890.6,501.8 L1892.5,501.1 L1894.4,500.5 L1896.3,499.9 L1898.2,499.2 L1900.1,498.6 L1902.0,497.9 L1903.9,497.2 L1905.8,496.6 L1907.7,495.9 L1909.5,495.1 L1911.3,494.4 L1913.1,493.6 L1914.9,492.8 L1916.7,492.0 L1918.4,491.1 L1920.2,490.2 L1921.8,489.3 L1923.5,488.3 L1925.1,487.3 L1926.7,486.2 L1928.3,485.1 L1929.8,484.0 L1931.3,482.8 L1932.8,481.5 L1934.2,480.2 L1935.6,478.8 L1937.0,477.4 L1938.3,476.0 L1939.6,474.5 L1940.9,473.0 L1942.1,471.4 L1943.3,469.8 L1944.5,468.2 L1945.7,466.6 L1946.9,465.0 L1948.1,463.3 L1949.2,461.7 L1950.4,460.0 L1951.6,458.3 L1952.7,456.6 L1953.9,455.0 L1955.0,453.3 L1956.2,451.6 L1957.4,450.0 L1958.6,448.4 L1959.8,446.8 L1961.0,445.2 L1962.2,443.6 L1963.5,442.0 L1964.7,440.4 L1965.9,438.9 L1967.1,437.3 L1968.3,435.7 L1969.6,434.2 L1970.8,432.6 L1971.9,431.0 L1973.1,429.5 L1974.3,427.9 L1975.5,426.3 L1976.6,424.7 L1977.7,423.1 L1978.8,421.4 L1979.9,419.8 L1980.9,418.1 L1982.0,416.4 L1983.0,414.7 L1984.0,413.0 L1985.0,411.3 L1985.9,409.6 L1986.9,407.8 L1987.9,406.1 L1988.9,404.3 L1989.8,402.6 L1990.8,400.8 L1991.9,399.1 L1992.9,397.3 L1993.9,395.6 L1995.0,393.8 L1996.1,392.1 L1997.3,390.4 L1998.5,388.8 L1999.7,387.1 L2001.0,385.5 L2002.3,383.8 L2003.7,382.3 L2005.1,380.7 L2006.6,379.2 L2008.1,377.7 L2009.7,376.3 L2011.2,374.9 L2012.9,373.7 L2014.5,372.4 L2016.2,371.3 L2017.9,370.2 L2019.6,369.3 L2021.3,368.4 L2023.0,367.6 L2024.7,367.0 L2026.5,366.4 L2028.2,366.0 L2029.9,365.7 L2031.6,365.5 L2033.4,365.5 L2035.0,365.7 L2036.7,365.9 L2038.4,366.4 L2040.0,366.9 L2041.6,367.6 L2043.2,368.4 L2044.7,369.3 L2046.2,370.3 L2047.7,371.5 L2049.1,372.7 L2050.6,374.0 L2051.9,375.4 L2053.3,376.9 L2054.6,378.5 L2055.8,380.1 L2057.0,381.7 L2058.2,383.5 L2059.3,385.2 L2060.3,387.0 L2061.4,388.9 L2062.3,390.7 L2063.2,392.6 L2064.1,394.5 L2064.9,396.4 L2065.6,398.3 L2066.3,400.3 L2067.0,402.2 L2067.6,404.2 L2068.2,406.2 L2068.8,408.1 L2069.3,410.1 L2069.9,412.1 L2070.4,414.1 L2070.9,416.1 L2071.3,418.1 L2071.8,420.1 L2072.2,422.1 L2072.7,424.1 L2073.1,426.1 L2073.6,428.1 L2074.0,430.1 L2074.5,432.0 L2074.9,434.0 L2075.4,435.9 L2075.9,437.9 L2076.4,439.8 L2076.8,441.7 L2077.3,443.6 L2077.8,445.5 L2078.3,447.5 L2078.8,449.4 L2079.3,451.3 L2079.8,453.1 L2080.3,455.0 L2080.9,456.9 L2081.4,458.8 L2081.9,460.7 L2082.4,462.6 L2083.0,464.4 L2083.5,466.3 L2084.0,468.2 L2084.6,470.0 L2085.1,471.9 L2085.6,473.8 L2086.2,475.6 L2086.7,477.5 L2087.3,479.4 L2087.8,481.3 L2088.4,483.1 L2088.9,485.0 L2089.4,486.9 L2090.0,488.8 L2090.5,490.6 L2091.1,492.5 L2091.6,494.4 L2092.2,496.3 L2092.7,498.2 L2093.3,500.1 L2093.8,502.0 L2094.3,504.0 L2094.9,505.9 L2095.4,507.8 L2096.0,509.7 L2096.5,511.7 L2097.0,513.6 L2097.6,515.6 L2098.1,517.5 L2098.7,519.5 L2099.2,521.4 L2099.8,523.4 L2100.3,525.3 L2100.9,527.3 L2101.4,529.3 L2102.0,531.2 L2102.5,533.2 L2103.1,535.2 L2103.7,537.1 L2104.2,539.1 L2104.8,541.0 L2105.4,543.0 L2106.0,545.0 L2106.6,546.9 L2107.2,548.9 L2107.8,550.8 L2108.4,552.8 L2109.1,554.7 L2109.7,556.7 L2110.4,558.6 L2111.0,560.5 L2111.7,562.5 L2112.3,564.4 L2113.0,566.3 L2113.7,568.2 L2114.4,570.1 L2115.1,572.0 L2115.8,573.9 L2116.6,575.8 L2117.3,577.7 L2118.1,579.5 L2118.9,581.4 L2119.6,583.2 L2120.4,585.1 L2121.3,586.9 L2122.1,588.7 L2122.9,590.5 L2123.8,592.3 L2124.6,594.1 L2125.5,595.9 L2126.4,597.7 L2127.3,599.4 L2128.3,601.2 L2129.2,602.9 L2130.2,604.6 L2131.2,606.3 L2132.2,608.0 L2133.2,609.7 L2134.2,611.3 L2135.3,612.9 L2136.3,614.6 L2137.4,616.2 L2138.6,617.8 L2139.7,619.4 L2140.8,620.9 L2142.0,622.5 L2143.2,624.0 L2144.4,625.5 L2145.7,627.0 L2146.9,628.5 L2148.2,629.9 L2149.5,631.3 L2150.9,632.7 L2152.2,634.1 L2153.6,635.5 L2155.0,636.9 L2156.4,638.2 L2157.9,639.5 L2159.3,640.8 L2160.8,642.0 L2162.4,643.3 L2163.9,644.5 L2165.5,645.7 L2167.1,646.9 L2168.7,648.0 L2170.4,649.1 L2172.1,650.2 L2173.8,651.2 L2175.5,652.2 L2177.2,653.2 L2179.0,654.1 L2180.8,655.0 L2182.6,655.8 L2184.4,656.6 L2186.2,657.3 L2188.1,658.0 L2190.0,658.6 L2191.9,659.2 L2193.8,659.7 L2195.7,660.2 L2197.6,660.6 L2199.6,660.9 L2201.6,661.2 L2203.5,661.4 L2205.5,661.6 L2207.5,661.7 L2209.5,661.8 L2211.6,661.9 L2213.6,661.9 L2215.6,661.9 L2217.6,661.9 L2219.7,661.8 L2221.7,661.7 L2223.8,661.6 L2225.8,661.5 L2227.9,661.5 L2229.9,661.4 L2231.9,661.3 L2234.0,661.2 L2236.0,661.1 L2238.0,661.0 L2240.1,661.0 L2242.1,661.0 L2244.1,661.0 L2246.1,661.0 L2248.1,661.0 L2250.1,661.1 L2252.1,661.1 L2254.1,661.2 L2256.1,661.3 L2258.0,661.4 L2260.0,661.5 L2262.0,661.6 L2264.0,661.7 L2266.0,661.8 L2267.9,661.9 L2269.9,662.0 L2271.9,662.1 L2273.8,662.2 L2275.8,662.3 L2277.8,662.4 L2279.8,662.5 L2281.8,662.6 L2283.7,662.7 L2285.7,662.8 L2287.7,662.8 L2289.7,662.9 L2291.7,662.9 L2293.7,663.0 L2295.7,663.0 L2297.7,663.0 L2299.7,663.0 L2301.7,662.9 L2303.7,662.9 L2305.8,662.8 L2307.8,662.7 L2309.8,662.5 L2311.9,662.4 L2316.9,662.2" stroke="#0000ff"/>
<path d="M1341.1,649.7 L1346.1,649.6 L1348.1,649.5 L1350.1,649.5 L1352.1,649.4 L1354.1,649.3 L1356.1,649.2 L1358.1,649.1 L1360.1,649.1 L1362.1,649.0 L1364.0,648.9 L1366.0,648.9 L1368.0,648.8 L1370.0,648.7 L1372.0,648.7 L1374.0,648.6 L1376.0,648.6 L1378.0,648.5 L1380.0,648.5 L1382.0,648.4 L1384.0,648.4 L1386.0,648.3 L1388.0,648.3 L1390.0,648.3 L1392.0,648.2 L1394.0,648.2 L1396.0,648.2 L1398.0,648.1 L1400.0,648.1 L1402.0,648.1 L1404.0,648.1 L1406.1,648.0 L1408.1,648.0 L1410.1,648.0 L1412.1,648.0 L1414.1,648.0 L1416.1,648.0 L1418.1,647.9 L1420.1,647.9 L1422.1,647.9 L1424.1,647.9 L1426.1,647.9 L1428.1,647.9 L1430.1,647.9 L1432.1,647.9 L1434.1,647.9 L1436.1,647.9 L1438.1,647.9 L1440.1,647.9 L1442.1,647.9 L1444.1,647.9 L1446.1,647.9 L1448.1,647.9 L1450.1,647.9 L1452.1,647.9 L1454.2,647.9 L1456.2,647.9 L1458.2,647.9 L1460.2,647.9 L1462.2,647.9 L1464.2,647.9 L1466.2,647.9 L1468.2,647.9 L1470.2,647.9 L1472.2,647.9 L1474.2,647.9 L1476.2,647.9 L1478.2,647.9 L1480.2,647.9 L1482.2,647.9 L1484.2,647.9 L1486.2,647.9 L1488.2,647.9 L1490.3,647.9 L1492.3,647.9 L1494.3,647.9 L1496.3,647.8 L1498.3,647.8 L1500.3,647.8 L1502.3,647.8 L1504.3,647.8 L1506.3,647.8 L1508.3,647.8 L1510.3,647.8 L1512.3,647.8 L1514.3,647.7 L1516.3,647.7 L1518.3,647.7 L1520.3,647.7 L1522.3,647.7 L1524.3,647.7 L1526.3,647.6 L1528.3,647.6 L1530.4,647.6 L1532.4,647.5 L1534.4,647.5 L1536.4,647.5 L1538.4,647.4 L1540.4,647.4 L1542.4,647.4 L1544.4,647.3 L1546.4,647.3 L1548.4,647.2 L1550.4,647.2 L1552.4,647.1 L1554.4,647.1 L1556.4,647.0 L1558.4,647.0 L1560.4,646.9 L1562.4,646.8 L1564.4,646.8 L1566.4,646.7 L1568.4,646.6 L1570.4,646.6 L1572.4,646.5 L1574.4,646.4 L1576.4,646.3 L1578.4,646.2 L1580.4,646.2 L1582.4,646.1 L1584.4,646.0 L1586.4,645.9 L1588.4,645.8 L1590.4,645.7 L1592.4,645.6 L1594.4,645.4 L1596.4,645.3 L1598.4,645.2 L1600.4,645.1 L1602.4,645.0 L1604.4,644.8 L1606.3,644.7 L1608.3,644.6 L1610.3,644.4 L1612.3,644.3 L1614.3,644.1 L1616.3,644.0 L1618.3,643.8 L1620.3,643.6 L1622.3,643.5 L1624.3,643.3 L1626.3,643.1 L1628.3,643.0 L1630.3,642.8 L1632.2,642.6 L1634.2,642.4 L1636.2,642.2 L1638.2,642.0 L1640.2,641.8 L1642.2,641.6 L1644.2,641.4 L1646.2,641.1 L1648.1,640.9 L1650.1,640.7 L1652.1,640.4 L1654.1,640.2 L1656.1,639.9 L1658.1,639.7 L1660.0,639.4 L1662.0,639.1 L1664.0,638.8 L1666.0,638.5 L1668.0,638.2 L1669.9,637.9 L1671.9,637.6 L1673.9,637.3 L1675.8,636.9 L1677.8,636.6 L1679.8,636.2 L1681.8,635.8 L1683.7,635.5 L1685.7,635.1 L1687.6,634.7 L1689.6,634.3 L1691.6,633.9 L1693.5,633.5 L1695.5,633.1 L1697.5,632.6 L1699.4,632.2 L1701.4,631.8 L1703.4,631.4 L1705.3,631.0 L1707.3,630.5 L1709.2,630.1 L1711.2,629.7 L1713.2,629.3 L1715.2,628.8 L1717.1,628.4 L1719.1,628.0 L1721.1,627.6 L1723.0,627.1 L1725.0,626.7 L1726.9,626.2 L1728.9,625.8 L1730.8,625.3 L1732.8,624.9 L1734.7,624.4 L1736.7,623.9 L1738.6,623.4 L1740.5,622.9 L1742.4,622.3 L1744.4,621.8 L1746.3,621.2 L1748.1,620.6 L1750.0,620.0 L1751.9,619.4 L1753.8,618.7 L1755.6,618.0 L1757.5,617.4 L1759.3,616.6 L1761.1,615.9 L1762.9,615.1 L1764.7,614.3 L1766.5,613.5 L1768.2,612.6 L1770.0,611.7 L1771.7,610.8 L1773.4,609.8 L1775.1,608.9 L1776.8,607.8 L1778.5,606.8 L1780.1,605.7 L1781.8,604.5 L1783.4,603.4 L1785.0,602.2 L1786.6,601.0 L1788.2,599.8 L1789.8,598.6 L1791.3,597.4 L1792.9,596.2 L1794.5,595.0 L1796.1,593.8 L1797.7,592.6 L1799.3,591.4 L1800.9,590.2 L1802.5,589.0 L1804.1,587.8 L1805.7,586.6 L1807.3,585.4 L1808.9,584.2 L1810.5,582.9 L1812.0,581.7 L1813.6,580.4 L1815.2,579.2 L1816.7,577.9 L1818.3,576.7 L1819.9,575.4 L1821.4,574.1 L1823.0,572.9 L1824.6,571.7 L1826.2,570.4 L1827.8,569.2 L1829.4,568.0 L1831.0,566.8 L1832.6,565.7 L1834.3,564.5 L1835.9,563.4 L1837.6,562.3 L1839.2,561.2 L1840.9,560.2 L1842.6,559.2 L1844.3,558.2 L1846.1,557.2 L1847.8,556.2 L1849.6,555.3 L1851.3,554.4 L1853.1,553.5 L1854.8,552.6 L1856.6,551.7 L1858.4,550.8 L1860.2,550.0 L1862.0,549.2 L1863.8,548.4 L1865.7,547.6 L1867.5,546.8 L1869.3,546.0 L1871.2,545.2 L1873.0,544.4 L1874.9,543.7 L1876.7,543.0 L1878.6,542.2 L1880.4,541.5 L1882.3,540.8 L1884.1,540.0 L1886.0,539.3 L1887.9,538.6 L1889.7,537.9 L1891.6,537.2 L1893.5,536.5 L1895.3,535.7 L1897.2,535.0 L1899.0,534.3 L1900.9,533.6 L1902.8,532.9 L1904.6,532.2 L1906.5,531.4 L1908.3,530.7 L1910.1,529.9 L1912.0,529.2 L1913.8,528.4 L1915.6,527.6 L1917.4,526.7 L1919.1,525.9 L1920.9,525.0 L1922.7,524.1 L1924.4,523.2 L1926.1,522.2 L1927.8,521.2 L1929.5,520.1 L1931.1,519.1 L1932.8,518.0 L1934.4,516.8 L1936.0,515.6 L1937.5,514.3 L1939.1,513.1 L1940.6,511.7 L1942.1,510.4 L1943.6,509.0 L1945.0,507.6 L1946.5,506.1 L1947.9,504.7 L1949.4,503.2 L1950.8,501.8 L1952.2,500.3 L1953.6,498.8 L1955.0,497.3 L1956.4,495.9 L1957.8,494.4 L1959.3,493.0 L1960.7,491.6 L1962.1,490.2 L1963.5,488.8 L1965.0,487.4 L1966.4,486.1 L1967.8,484.7 L1969.3,483.4 L1970.7,482.1 L1972.2,480.8 L1973.6,479.5 L1975.1,478.2 L1976.6,476.9 L1978.0,475.6 L1979.5,474.2 L1980.9,472.9 L1982.4,471.5 L1983.8,470.2 L1985.3,468.8 L1986.7,467.3 L1988.2,465.9 L1989.6,464.4 L1991.0,462.9 L1992.5,461.4 L1993.9,459.9 L1995.4,458.4 L1996.8,456.9 L1998.3,455.4 L1999.8,453.9 L2001.3,452.5 L2002.8,451.1 L2004.3,449.7 L2005.9,448.4 L2007.5,447.1 L2009.1,445.9 L2010.8,444.8 L2012.5,443.7 L2014.2,442.7 L2016.0,441.8 L2017.8,441.0 L2019.6,440.3 L2021.5,439.7 L2023.4,439.1 L2025.3,438.7 L2027.2,438.4 L2029.1,438.2 L2031.0,438.0 L2032.9,438.0 L2034.8,438.1 L2036.6,438.3 L2038.5,438.5 L2040.2,438.9 L2042.0,439.5 L2043.7,440.1 L2045.3,440.8 L2046.9,441.7 L2048.4,442.6 L2049.9,443.7 L2051.3,444.9 L2052.6,446.2 L2053.9,447.6 L2055.1,449.1 L2056.3,450.6 L2057.4,452.2 L2058.5,453.9 L2059.5,455.6 L2060.5,457.4 L2061.5,459.3 L2062.4,461.1 L2063.4,463.0 L2064.2,465.0 L2065.1,466.9 L2066.0,468.9 L2066.8,470.8 L2067.6,472.8 L2068.4,474.7 L2069.2,476.6 L2070.0,478.6 L2070.8,480.5 L2071.6,482.4 L2072.4,484.3 L2073.1,486.2 L2073.9,488.1 L2074.6,490.0 L2075.3,491.9 L2076.1,493.8 L2076.8,495.6 L2077.5,497.5 L2078.2,499.4 L2079.0,501.2 L2079.7,503.1 L2080.4,505.0 L2081.1,506.8 L2081.8,508.7 L2082.5,510.5 L2083.2,512.4 L2083.9,514.2 L2084.6,516.0 L2085.3,517.9 L2086.0,519.7 L2086.7,521.6 L2087.4,523.4 L2088.1,525.2 L2088.9,527.0 L2089.6,528.9 L2090.3,530.7 L2091.0,532.5 L2091.7,534.4 L2092.5,536.2 L2093.2,538.0 L2094.0,539.8 L2094.7,541.7 L2095.5,543.5 L2096.2,545.3 L2097.0,547.1 L2097.8,549.0 L2098.6,550.8 L2099.3,552.6 L2100.1,554.4 L2100.9,556.3 L2101.7,558.1 L2102.6,559.9 L2103.4,561.7 L2104.2,563.6 L2105.0,565.4 L2105.8,567.2 L2106.7,569.1 L2107.5,570.9 L2108.3,572.7 L2109.2,574.5 L2110.0,576.4 L2110.9,578.2 L2111.8,580.0 L2112.6,581.9 L2113.5,583.7 L2114.4,585.5 L2115.2,587.4 L2116.1,589.2 L2117.0,591.0 L2117.9,592.9 L2118.8,594.7 L2119.6,596.5 L2120.5,598.4 L2121.4,600.2 L2122.3,602.0 L2123.2,603.9 L2124.1,605.7 L2125.0,607.5 L2126.0,609.4 L2126.9,611.2 L2127.8,613.0 L2128.8,614.8 L2129.7,616.6 L2130.7,618.4 L2131.8,620.1 L2132.8,621.8 L2133.9,623.5 L2135.0,625.2 L2136.1,626.8 L2137.3,628.4 L2138.5,629.9 L2139.7,631.4 L2141.0,632.9 L2142.3,634.3 L2143.7,635.7 L2145.2,637.0 L2146.6,638.2 L2148.2,639.4 L2149.7,640.6 L2151.3,641.7 L2153.0,642.8 L2154.6,643.8 L2156.3,644.8 L2158.1,645.7 L2159.8,646.6 L2161.6,647.4 L2163.4,648.2 L2165.3,649.0 L2167.1,649.7 L2169.0,650.4 L2170.9,651.0 L2172.8,651.6 L2174.7,652.2 L2176.6,652.7 L2178.5,653.2 L2180.5,653.7 L2182.4,654.1 L2184.4,654.5 L2186.3,654.8 L2188.3,655.2 L2190.2,655.5 L2192.2,655.8 L2194.2,656.0 L2196.2,656.3 L2198.2,656.5 L2200.2,656.6 L2202.2,656.8 L2204.2,657.0 L2206.2,657.1 L2208.2,657.2 L2210.3,657.3 L2212.3,657.4 L2214.3,657.4 L2216.3,657.5 L2218.4,657.5 L2220.4,657.6 L2222.4,657.6 L2224.5,657.6 L2226.5,657.7 L2228.5,657.7 L2230.5,657.7 L2232.6,657.7 L2234.6,657.7 L2236.6,657.7 L2238.6,657.7 L2240.7,657.7 L2242.7,657.7 L2244.7,657.7 L2246.7,657.8 L2248.7,657.8 L2250.7,657.9 L2252.7,657.9 L2254.7,657.9 L2256.7,658.0 L2258.7,658.1 L2260.6,658.1 L2262.6,658.2 L2264.6,658.2 L2266.6,658.3 L2268.6,658.4 L2270.6,658.4 L2272.5,658.5 L2274.5,658.6 L2276.5,658.6 L2278.5,658.7 L2280.5,658.7 L2282.5,658.8 L2284.4,658.8 L2286.4,658.9 L2288.4,658.9 L2290.4,658.9 L2292.4,658.9 L2294.4,659.0 L2296.4,659.0 L2298.4,659.0 L2300.5,659.0 L2302.5,658.9 L2304.5,658.9 L2306.5,658.9 L2308.6,658.8 L2310.6,658.8 L2312.7,658.7 L2314.7,658.6 L2319.8,658.5" stroke="#00ffff"/>
<path d="M1341.1,648.5 L1346.1,648.4 L1348.1,648.3 L1350.1,648.2 L1352.1,648.1 L1354.0,648.0 L1356.0,647.9 L1358.0,647.8 L1360.0,647.7 L1362.0,647.7 L1364.0,647.6 L1366.0,647.5 L1368.0,647.4 L1370.0,647.3 L1372.0,647.3 L1374.0,647.2 L1376.0,647.1 L1378.0,647.1 L1380.0,647.0 L1382.0,647.0 L1384.0,646.9 L1386.0,646.8 L1388.0,646.8 L1390.0,646.7 L1391.9,646.7 L1393.9,646.7 L1395.9,646.6 L1397.9,646.6 L1399.9,646.5 L1401.9,646.5 L1403.9,646.5 L1405.9,646.4 L1407.9,646.4 L1409.9,646.4 L1411.9,646.3 L1413.9,646.3 L1415.9,646.3 L1417.9,646.3 L1419.9,646.2 L1421.9,646.2 L1423.9,646.2 L1425.9,646.2 L1427.9,646.2 L1429.9,646.2 L1431.9,646.1 L1433.9,646.1 L1435.9,646.1 L1437.9,646.1 L1439.9,646.1 L1441.9,646.1 L1443.9,646.1 L1445.9,646.1 L1447.9,646.1 L1449.9,646.1 L1452.0,646.1 L1454.0,646.1 L1456.0,646.1 L1458.0,646.0 L1460.0,646.0 L1462.0,646.0 L1464.0,646.0 L1466.0,646.0 L1468.0,646.0 L1470.0,646.0 L1472.0,646.0 L1474.0,646.0 L1476.0,646.0 L1478.0,646.0 L1480.0,646.0 L1482.0,646.0 L1484.0,646.0 L1486.0,646.0 L1488.0,646.0 L1490.0,646.0 L1492.0,646.0 L1494.0,646.0 L1496.0,646.0 L1498.0,646.0 L1500.0,646.0 L1502.0,646.0 L1504.0,646.0 L1506.0,646.0 L1508.0,646.0 L1510.0,646.0 L1512.0,646.0 L1514.0,646.0 L1516.0,646.0 L1518.0,645.9 L1520.0,645.9 L1522.0,645.9 L1524.0,645.9 L1526.0,645.9 L1528.0,645.9 L1530.0,645.8 L1532.0,645.8 L1534.0,645.8 L1536.0,645.8 L1538.0,645.8 L1540.0,645.7 L1542.0,645.7 L1544.0,645.7 L1546.0,645.6 L1548.0,645.6 L1550.0,645.6 L1552.0,645.5 L1554.0,645.5 L1556.0,645.5 L1558.0,645.4 L1560.0,645.4 L1562.0,645.3 L1564.0,645.3 L1566.0,645.2 L1568.0,645.2 L1570.0,645.1 L1572.0,645.1 L1574.0,645.0 L1576.0,644.9 L1578.0,644.9 L1580.0,644.8 L1582.0,644.7 L1584.0,644.7 L1586.0,644.6 L1588.0,644.5 L1590.0,644.4 L1592.0,644.3 L1594.0,644.2 L1595.9,644.1 L1597.9,644.1 L1599.9,644.0 L1601.9,643.9 L1603.9,643.8 L1605.9,643.6 L1607.9,643.5 L1609.9,643.4 L1611.9,643.3 L1613.9,643.2 L1615.9,643.1 L1617.9,642.9 L1619.8,642.8 L1621.8,642.7 L1623.8,642.5 L1625.8,642.4 L1627.8,642.2 L1629.8,642.1 L1631.8,641.9 L1633.8,641.8 L1635.8,641.6 L1637.7,641.5 L1639.7,641.3 L1641.7,641.1 L1643.7,641.0 L1645.7,640.8 L1647.7,640.6 L1649.7,640.4 L1651.7,640.3 L1653.7,640.1 L1655.6,639.9 L1657.6,639.7 L1659.6,639.6 L1661.6,639.4 L1663.6,639.2 L1665.6,639.0 L1667.6,638.8 L1669.6,638.6 L1671.6,638.4 L1673.6,638.3 L1675.6,638.1 L1677.6,637.9 L1679.6,637.7 L1681.6,637.5 L1683.6,637.3 L1685.6,637.1 L1687.6,636.9 L1689.6,636.7 L1691.6,636.6 L1693.6,636.4 L1695.6,636.2 L1697.6,636.0 L1699.6,635.8 L1701.6,635.6 L1703.7,635.4 L1705.7,635.2 L1707.7,635.0 L1709.7,634.7 L1711.7,634.5 L1713.7,634.3 L1715.7,634.0 L1717.7,633.8 L1719.7,633.5 L1721.7,633.2 L1723.6,633.0 L1725.6,632.7 L1727.6,632.3 L1729.6,632.0 L1731.5,631.7 L1733.5,631.3 L1735.5,631.0 L1737.4,630.6 L1739.4,630.2 L1741.3,629.8 L1743.3,629.3 L1745.2,628.9 L1747.1,628.4 L1749.0,627.9 L1750.9,627.4 L1752.8,626.8 L1754.7,626.3 L1756.6,625.7 L1758.5,625.1 L1760.4,624.4 L1762.2,623.8 L1764.1,623.1 L1765.9,622.4 L1767.8,621.7 L1769.6,620.9 L1771.4,620.2 L1773.2,619.4 L1775.0,618.5 L1776.8,617.7 L1778.6,616.8 L1780.4,615.9 L1782.1,615.0 L1783.9,614.1 L1785.6,613.1 L1787.3,612.1 L1789.1,611.1 L1790.8,610.1 L1792.5,609.0 L1794.2,607.9 L1795.8,606.8 L1797.5,605.7 L1799.2,604.6 L1800.9,603.5 L1802.6,602.4 L1804.2,601.3 L1805.9,600.2 L1807.6,599.1 L1809.3,598.0 L1811.0,596.9 L1812.7,595.9 L1814.4,594.8 L1816.1,593.8 L1817.8,592.8 L1819.5,591.8 L1821.3,590.8 L1823.0,589.9 L1824.8,589.0 L1826.6,588.1 L1828.3,587.2 L1830.1,586.3 L1831.9,585.4 L1833.7,584.6 L1835.5,583.8 L1837.3,583.0 L1839.1,582.2 L1841.0,581.4 L1842.8,580.7 L1844.6,579.9 L1846.5,579.2 L1848.4,578.5 L1850.2,577.8 L1852.1,577.1 L1854.0,576.4 L1855.8,575.8 L1857.7,575.1 L1859.6,574.5 L1861.5,573.8 L1863.4,573.2 L1865.3,572.6 L1867.2,572.0 L1869.1,571.4 L1871.0,570.8 L1873.0,570.3 L1874.9,569.7 L1876.8,569.1 L1878.8,568.6 L1880.7,568.0 L1882.6,567.5 L1884.6,567.0 L1886.5,566.4 L1888.5,565.9 L1890.4,565.3 L1892.4,564.8 L1894.3,564.3 L1896.2,563.7 L1898.2,563.2 L1900.1,562.6 L1902.0,562.0 L1904.0,561.4 L1905.9,560.8 L1907.8,560.2 L1909.7,559.6 L1911.6,559.0 L1913.4,558.3 L1915.3,557.7 L1917.2,557.0 L1919.0,556.3 L1920.9,555.5 L1922.7,554.8 L1924.5,554.0 L1926.3,553.2 L1928.1,552.3 L1929.8,551.5 L1931.6,550.6 L1933.3,549.6 L1935.0,548.7 L1936.7,547.7 L1938.4,546.7 L1940.1,545.6 L1941.7,544.5 L1943.3,543.4 L1944.9,542.2 L1946.5,541.0 L1948.1,539.7 L1949.6,538.5 L1951.1,537.2 L1952.7,535.9 L1954.2,534.6 L1955.7,533.2 L1957.2,531.8 L1958.7,530.5 L1960.2,529.1 L1961.7,527.7 L1963.2,526.3 L1964.7,524.9 L1966.2,523.5 L1967.7,522.1 L1969.2,520.7 L1970.7,519.3 L1972.2,517.9 L1973.7,516.5 L1975.2,515.2 L1976.8,513.8 L1978.3,512.5 L1979.9,511.2 L1981.5,509.9 L1983.1,508.6 L1984.7,507.4 L1986.3,506.2 L1988.0,505.0 L1989.7,503.8 L1991.4,502.7 L1993.1,501.7 L1994.8,500.6 L1996.6,499.6 L1998.4,498.7 L2000.3,497.8 L2002.1,496.9 L2004.0,496.1 L2005.8,495.3 L2007.7,494.6 L2009.6,494.0 L2011.5,493.3 L2013.4,492.8 L2015.3,492.3 L2017.3,491.8 L2019.2,491.5 L2021.1,491.1 L2023.0,490.9 L2024.9,490.7 L2026.8,490.5 L2028.7,490.5 L2030.5,490.5 L2032.4,490.5 L2034.2,490.7 L2036.0,490.9 L2037.8,491.1 L2039.6,491.5 L2041.4,491.9 L2043.1,492.4 L2044.8,493.0 L2046.4,493.7 L2048.1,494.4 L2049.7,495.2 L2051.2,496.1 L2052.7,497.1 L2054.2,498.2 L2055.6,499.4 L2057.0,500.6 L2058.4,502.0 L2059.7,503.4 L2060.9,504.8 L2062.2,506.4 L2063.4,507.9 L2064.5,509.6 L2065.7,511.3 L2066.8,513.0 L2067.8,514.8 L2068.9,516.6 L2069.9,518.4 L2070.9,520.2 L2071.9,522.1 L2072.8,524.0 L2073.8,525.9 L2074.7,527.7 L2075.6,529.6 L2076.5,531.5 L2077.3,533.4 L2078.2,535.2 L2079.0,537.1 L2079.9,539.0 L2080.7,540.8 L2081.5,542.7 L2082.3,544.5 L2083.2,546.4 L2084.0,548.2 L2084.8,550.1 L2085.6,551.9 L2086.4,553.8 L2087.2,555.6 L2088.0,557.4 L2088.8,559.3 L2089.6,561.1 L2090.5,563.0 L2091.3,564.8 L2092.1,566.6 L2093.0,568.4 L2093.9,570.2 L2094.7,572.1 L2095.6,573.9 L2096.5,575.7 L2097.4,577.5 L2098.3,579.3 L2099.2,581.0 L2100.1,582.8 L2101.0,584.6 L2102.0,586.3 L2102.9,588.1 L2103.9,589.8 L2104.9,591.6 L2105.9,593.3 L2106.9,595.0 L2108.0,596.7 L2109.0,598.4 L2110.1,600.1 L2111.2,601.8 L2112.3,603.4 L2113.4,605.1 L2114.5,606.7 L2115.7,608.3 L2116.8,609.9 L2118.0,611.5 L2119.3,613.1 L2120.5,614.6 L2121.8,616.2 L2123.0,617.7 L2124.3,619.2 L2125.7,620.7 L2127.0,622.1 L2128.4,623.6 L2129.8,625.0 L2131.2,626.4 L2132.7,627.7 L2134.1,629.1 L2135.6,630.3 L2137.1,631.6 L2138.7,632.8 L2140.3,634.0 L2141.9,635.1 L2143.5,636.2 L2145.2,637.2 L2146.9,638.2 L2148.6,639.1 L2150.3,640.0 L2152.1,640.8 L2153.9,641.6 L2155.7,642.3 L2157.6,643.0 L2159.4,643.6 L2161.3,644.2 L2163.2,644.8 L2165.1,645.3 L2167.1,645.8 L2169.0,646.3 L2171.0,646.7 L2172.9,647.1 L2174.9,647.5 L2176.9,647.9 L2178.9,648.2 L2180.8,648.5 L2182.8,648.8 L2184.8,649.1 L2186.8,649.4 L2188.8,649.7 L2190.8,649.9 L2192.8,650.1 L2194.8,650.3 L2196.8,650.5 L2198.8,650.7 L2200.8,650.9 L2202.8,651.1 L2204.7,651.2 L2206.8,651.4 L2208.8,651.5 L2210.8,651.6 L2212.8,651.7 L2214.8,651.8 L2216.8,651.9 L2218.8,652.0 L2220.8,652.0 L2222.8,652.1 L2224.8,652.1 L2226.8,652.2 L2228.8,652.2 L2230.8,652.3 L2232.8,652.3 L2234.8,652.3 L2236.8,652.3 L2238.8,652.3 L2240.9,652.3 L2242.9,652.3 L2244.9,652.3 L2246.9,652.3 L2248.9,652.3 L2250.9,652.3 L2252.9,652.3 L2254.9,652.3 L2256.9,652.3 L2258.9,652.2 L2260.9,652.2 L2262.9,652.2 L2264.9,652.2 L2267.0,652.2 L2269.0,652.2 L2271.0,652.1 L2273.0,652.1 L2275.0,652.1 L2277.0,652.1 L2279.0,652.1 L2281.0,652.1 L2282.9,652.1 L2284.9,652.2 L2286.9,652.2 L2288.9,652.2 L2290.9,652.2 L2292.9,652.3 L2294.9,652.3 L2296.9,652.4 L2298.9,652.4 L2300.8,652.5 L2302.8,652.6 L2304.8,652.7 L2306.8,652.8 L2308.7,652.9 L2310.7,653.0 L2312.7,653.1 L2317.7,653.3" stroke="#ff00ff"/>
<path d="M1341.2,653.2 L1346.2,653.2 L1348.2,653.2 L1350.2,653.2 L1352.2,653.2 L1354.2,653.2 L1356.1,653.1 L1358.1,653.1 L1360.1,653.1 L1362.1,653.1 L1364.1,653.1 L1366.1,653.1 L1368.1,653.1 L1370.1,653.1 L1372.1,653.0 L1374.1,653.0 L1376.0,653.0 L1378.0,653.0 L1380.0,653.0 L1382.0,653.0 L1384.0,653.0 L1386.0,653.0 L1388.0,653.0 L1390.0,653.0 L1392.0,653.0 L1394.0,652.9 L1396.0,652.9 L1398.0,652.9 L1400.0,652.9 L1402.0,652.9 L1404.0,652.9 L1406.0,652.9 L1407.9,652.9 L1409.9,652.9 L1411.9,652.9 L1413.9,652.9 L1415.9,652.9 L1417.9,652.9 L1419.9,652.9 L1421.9,652.9 L1423.9,652.8 L1425.9,652.8 L1427.9,652.8 L1429.9,652.8 L1431.9,652.8 L1433.9,652.8 L1435.9,652.8 L1437.9,652.8 L1439.9,652.8 L1441.9,652.8 L1443.9,652.8 L1445.9,652.8 L1447.9,652.8 L1449.9,652.8 L1451.9,652.8 L1453.9,652.8 L1455.9,652.8 L1457.9,652.7 L1459.9,652.7 L1461.9,652.7 L1463.9,652.7 L1465.9,652.7 L1467.9,652.7 L1469.9,652.7 L1471.9,652.7 L1473.9,652.7 L1475.9,652.7 L1477.9,652.7 L1479.9,652.7 L1481.9,652.7 L1483.9,652.6 L1485.9,652.6 L1487.9,652.6 L1489.9,652.6 L1491.9,652.6 L1493.9,652.6 L1495.9,652.6 L1497.9,652.6 L1499.9,652.6 L1501.9,652.5 L1503.9,652.5 L1505.9,652.5 L1507.9,652.5 L1509.9,652.5 L1511.9,652.5 L1513.9,652.4 L1515.9,652.4 L1517.9,652.4 L1519.9,652.4 L1521.9,652.4 L1523.9,652.4 L1525.9,652.3 L1527.9,652.3 L1529.9,652.3 L1531.9,652.3 L1533.9,652.3 L1535.9,652.2 L1538.0,652.2 L1540.0,652.2 L1542.0,652.2 L1544.0,652.1 L1546.0,652.1 L1548.0,652.1 L1550.0,652.1 L1552.0,652.0 L1554.0,652.0 L1556.0,652.0 L1558.0,651.9 L1560.0,651.9 L1562.0,651.9 L1564.0,651.8 L1566.0,651.8 L1568.0,651.8 L1570.0,651.7 L1572.0,651.7 L1574.0,651.7 L1576.0,651.6 L1578.0,651.6 L1580.0,651.5 L1582.0,651.5 L1584.0,651.5 L1586.0,651.4 L1588.0,651.4 L1590.0,651.3 L1592.0,651.3 L1594.0,651.2 L1596.0,651.2 L1598.0,651.1 L1600.0,651.1 L1602.0,651.0 L1604.0,651.0 L1606.0,650.9 L1608.0,650.9 L1610.0,650.8 L1612.0,650.8 L1614.0,650.7 L1616.1,650.6 L1618.1,650.6 L1620.1,650.5 L1622.1,650.5 L1624.1,650.4 L1626.1,650.3 L1628.1,650.3 L1630.1,650.2 L1632.1,650.1 L1634.1,650.0 L1636.1,650.0 L1638.1,649.9 L1640.1,649.8 L1642.1,649.8 L1644.1,649.7 L1646.1,649.6 L1648.1,649.5 L1650.1,649.4 L1652.1,649.4 L1654.1,649.3 L1656.1,649.2 L1658.1,649.1 L1660.1,649.0 L1662.1,648.9 L1664.1,648.8 L1666.1,648.7 L1668.1,648.6 L1670.0,648.5 L1672.0,648.4 L1674.0,648.3 L1676.0,648.2 L1678.0,648.1 L1680.0,648.0 L1682.0,647.9 L1684.0,647.8 L1686.0,647.7 L1688.0,647.6 L1690.0,647.5 L1692.0,647.4 L1694.0,647.3 L1696.0,647.2 L1698.0,647.0 L1700.0,646.9 L1702.0,646.8 L1704.0,646.7 L1706.0,646.5 L1708.0,646.4 L1710.0,646.3 L1712.0,646.2 L1714.0,646.0 L1716.0,645.9 L1717.9,645.8 L1719.9,645.6 L1721.9,645.5 L1723.9,645.3 L1725.9,645.2 L1727.9,645.1 L1729.9,644.9 L1731.9,644.8 L1733.9,644.6 L1735.9,644.5 L1737.9,644.3 L1739.9,644.1 L1741.8,644.0 L1743.8,643.8 L1745.8,643.7 L1747.8,643.5 L1749.8,643.3 L1751.8,643.2 L1753.8,643.0 L1755.8,642.8 L1757.8,642.6 L1759.7,642.5 L1761.7,642.3 L1763.7,642.1 L1765.7,641.9 L1767.7,641.7 L1769.7,641.5 L1771.7,641.4 L1773.7,641.2 L1775.6,641.0 L1777.6,640.8 L1779.6,640.6 L1781.6,640.4 L1783.6,640.2 L1785.6,640.0 L1787.5,639.8 L1789.5,639.6 L1791.5,639.3 L1793.5,639.1 L1795.5,638.9 L1797.5,638.7 L1799.4,638.5 L1801.4,638.2 L1803.4,638.0 L1805.4,637.8 L1807.4,637.6 L1809.3,637.3 L1811.3,637.1 L1813.3,636.9 L1815.3,636.6 L1817.3,636.4 L1819.2,636.1 L1821.2,635.9 L1823.2,635.6 L1825.2,635.4 L1827.1,635.1 L1829.1,634.9 L1831.1,634.6 L1833.1,634.3 L1835.0,634.1 L1837.0,633.8 L1839.0,633.5 L1841.0,633.3 L1842.9,633.0 L1844.9,632.7 L1846.9,632.4 L1848.8,632.1 L1850.8,631.9 L1852.8,631.6 L1854.8,631.3 L1856.7,631.0 L1858.7,630.7 L1860.7,630.4 L1862.6,630.1 L1864.6,629.8 L1866.6,629.5 L1868.6,629.2 L1870.5,628.9 L1872.5,628.5 L1874.5,628.2 L1876.4,627.9 L1878.4,627.6 L1880.4,627.3 L1882.3,626.9 L1884.3,626.6 L1886.3,626.3 L1888.3,625.9 L1890.2,625.6 L1892.2,625.3 L1894.2,624.9 L1896.1,624.6 L1898.1,624.2 L1900.1,623.9 L1902.1,623.6 L1904.0,623.2 L1906.0,622.8 L1908.0,622.5 L1909.9,622.1 L1911.9,621.8 L1913.9,621.4 L1915.9,621.1 L1917.8,620.7 L1919.8,620.3 L1921.8,619.9 L1923.8,619.6 L1925.8,619.2 L1927.7,618.8 L1929.7,618.4 L1931.7,618.1 L1933.7,617.7 L1935.7,617.3 L1937.6,616.9 L1939.6,616.5 L1941.6,616.1 L1943.6,615.7 L1945.6,615.3 L1947.6,614.9 L1949.5,614.5 L1951.5,614.1 L1953.5,613.7 L1955.5,613.3 L1957.5,612.9 L1959.5,612.5 L1961.5,612.1 L1963.5,611.7 L1965.5,611.3 L1967.5,610.9 L1969.5,610.5 L1971.5,610.0 L1973.5,609.6 L1975.5,609.2 L1977.5,608.8 L1979.5,608.4 L1981.4,608.0 L1983.4,607.6 L1985.4,607.3 L1987.4,606.9 L1989.4,606.5 L1991.4,606.2 L1993.4,605.8 L1995.4,605.5 L1997.4,605.2 L1999.4,604.8 L2001.3,604.5 L2003.3,604.3 L2005.3,604.0 L2007.3,603.7 L2009.2,603.5 L2011.2,603.3 L2013.2,603.1 L2015.1,602.9 L2017.1,602.7 L2019.0,602.6 L2021.0,602.5 L2022.9,602.4 L2024.9,602.3 L2026.8,602.2 L2028.8,602.2 L2030.7,602.2 L2032.6,602.2 L2034.5,602.3 L2036.4,602.4 L2038.3,602.5 L2040.2,602.6 L2042.1,602.8 L2044.0,603.0 L2045.9,603.2 L2047.8,603.4 L2049.7,603.7 L2051.5,604.1 L2053.4,604.4 L2055.2,604.8 L2057.1,605.2 L2058.9,605.7 L2060.7,606.2 L2062.6,606.8 L2064.4,607.3 L2066.2,608.0 L2068.0,608.6 L2069.8,609.3 L2071.5,610.1 L2073.3,610.9 L2075.1,611.7 L2076.8,612.6 L2078.6,613.5 L2080.3,614.5 L2082.0,615.5 L2083.7,616.6 L2085.5,617.7 L2087.2,618.8 L2088.9,620.0 L2090.5,621.2 L2092.2,622.4 L2093.9,623.6 L2095.6,624.9 L2097.3,626.1 L2099.0,627.3 L2100.7,628.6 L2102.4,629.8 L2104.0,631.0 L2105.7,632.2 L2107.4,633.4 L2109.2,634.5 L2110.9,635.6 L2112.6,636.7 L2114.3,637.8 L2116.1,638.8 L2117.8,639.8 L2119.6,640.7 L2121.4,641.6 L2123.1,642.5 L2124.9,643.3 L2126.7,644.2 L2128.5,644.9 L2130.4,645.6 L2132.2,646.3 L2134.0,647.0 L2135.9,647.6 L2137.8,648.1 L2139.6,648.6 L2141.5,649.1 L2143.5,649.5 L2145.4,649.9 L2147.3,650.2 L2149.2,650.6 L2151.2,650.8 L2153.1,651.1 L2155.1,651.3 L2157.1,651.5 L2159.1,651.7 L2161.1,651.8 L2163.1,651.9 L2165.1,652.0 L2167.1,652.1 L2169.1,652.2 L2171.1,652.2 L2173.1,652.2 L2175.1,652.2 L2177.2,652.2 L2179.2,652.2 L2181.2,652.2 L2183.2,652.2 L2185.3,652.1 L2187.3,652.1 L2189.3,652.0 L2191.4,652.0 L2193.4,652.0 L2195.4,651.9 L2197.4,651.9 L2199.5,651.9 L2201.5,651.8 L2203.5,651.8 L2205.5,651.8 L2207.5,651.8 L2209.5,651.8 L2211.6,651.8 L2213.6,651.8 L2215.6,651.8 L2217.6,651.8 L2219.6,651.8 L2221.6,651.8 L2223.6,651.8 L2225.6,651.8 L2227.6,651.8 L2229.6,651.8 L2231.6,651.8 L2233.6,651.8 L2235.6,651.9 L2237.5,651.9 L2239.5,651.9 L2241.5,651.9 L2243.5,651.9 L2245.5,652.0 L2247.5,652.0 L2249.5,652.0 L2251.5,652.0 L2253.5,652.1 L2255.5,652.1 L2257.5,652.1 L2259.4,652.1 L2261.4,652.1 L2263.4,652.2 L2265.4,652.2 L2267.4,652.2 L2269.4,652.2 L2271.4,652.2 L2273.4,652.3 L2275.4,652.3 L2277.4,652.3 L2279.4,652.3 L2281.4,652.3 L2283.4,652.3 L2285.4,652.3 L2287.4,652.3 L2289.4,652.3 L2291.4,652.3 L2293.4,652.3 L2295.4,652.3 L2297.4,652.3 L2299.4,652.3 L2301.4,652.3 L2303.4,652.2 L2305.4,652.2 L2307.4,652.2 L2309.5,652.2 L2311.5,652.1 L2313.5,652.1 L2318.5,652.0" stroke="#ffff00"/>
</g>
<g fill="none" stroke="#000" stroke-width="7.5" stroke-linejoin="round">
<rect x="144.4" y="33.5" width="959.9" height="715.5"/>
<rect x="1343.8" y="33.3" width="973.6" height="696.2"/>
</g>
<g stroke="#000" stroke-width="6.5" stroke-linecap="round">
<line x1="336.4" y1="749.0" x2="336.4" y2="736.5"/>
<line x1="528.4" y1="749.0" x2="528.4" y2="736.5"/>
<line x1="720.3" y1="749.0" x2="720.3" y2="736.5"/>
<line x1="912.3" y1="749.0" x2="912.3" y2="736.5"/>
<line x1="240.4" y1="749.0" x2="240.4" y2="742.7"/>
<line x1="432.4" y1="749.0" x2="432.4" y2="742.7"/>
<line x1="624.4" y1="749.0" x2="624.4" y2="742.7"/>
<line x1="816.3" y1="749.0" x2="816.3" y2="742.7"/>
<line x1="1008.3" y1="749.0" x2="1008.3" y2="742.7"/>
<line x1="1506.1" y1="729.5" x2="1506.1" y2="717.0"/>
<line x1="1668.3" y1="729.5" x2="1668.3" y2="717.0"/>
<line x1="1830.6" y1="729.5" x2="1830.6" y2="717.0"/>
<line x1="1992.9" y1="729.5" x2="1992.9" y2="717.0"/>
<line x1="2155.1" y1="729.5" x2="2155.1" y2="717.0"/>
<line x1="1424.9" y1="729.5" x2="1424.9" y2="723.2"/>
<line x1="1587.2" y1="729.5" x2="1587.2" y2="723.2"/>
<line x1="1749.5" y1="729.5" x2="1749.5" y2="723.2"/>
<line x1="1911.7" y1="729.5" x2="1911.7" y2="723.2"/>
<line x1="2074.0" y1="729.5" x2="2074.0" y2="723.2"/>
<line x1="2236.3" y1="729.5" x2="2236.3" y2="723.2"/>
</g>
<g font-family="'Liberation Serif', 'Times New Roman', serif" font-weight="bold" fill="#000">
<g font-size="60" text-anchor="middle">
<text transform="translate(144.4,811.7) scale(0.97,1)">400</text>
<text transform="translate(336.4,811.7) scale(0.97,1)">450</text>
<text transform="translate(528.4,811.7) scale(0.97,1)">500</text>
<text transform="translate(720.3,811.7) scale(0.97,1)">550</text>
<text transform="translate(912.3,811.7) scale(0.97,1)">600</text>
<text transform="translate(1104.3,811.7) scale(0.97,1)">650</text>
<text transform="translate(1343.8,790.5) scale(0.97,1)">450</text>
<text transform="translate(1506.1,790.5) scale(0.97,1)">500</text>
<text transform="translate(1668.3,790.5) scale(0.97,1)">550</text>
<text transform="translate(1830.6,790.5) scale(0.97,1)">600</text>
<text transform="translate(1992.9,790.5) scale(0.97,1)">650</text>
<text transform="translate(2155.1,790.5) scale(0.97,1)">700</text>
<text transform="translate(2317.4,790.5) scale(0.97,1)">750</text>
</g>
<g font-size="53" text-anchor="middle" font-weight="normal" stroke="#000" stroke-width="1.0">
<text x="667" y="890.6" font-size="52.5">Wavelength (nm)</text>
<text x="1880.5" y="880.7">Wavelength (nm)</text>
<text transform="translate(53.9,459.5) rotate(-90)" font-size="50" letter-spacing="2">intensity (a.u.)</text>
<text transform="translate(1281.4,386) rotate(-90)" font-size="50" letter-spacing="2">intensity (a.u.)</text>
</g>
<g font-size="128">
<text x="937" y="181.7">(a)</text>
<text x="2135" y="192.2">(b)</text>
</g>
</g>
</svg>
</body></html>
